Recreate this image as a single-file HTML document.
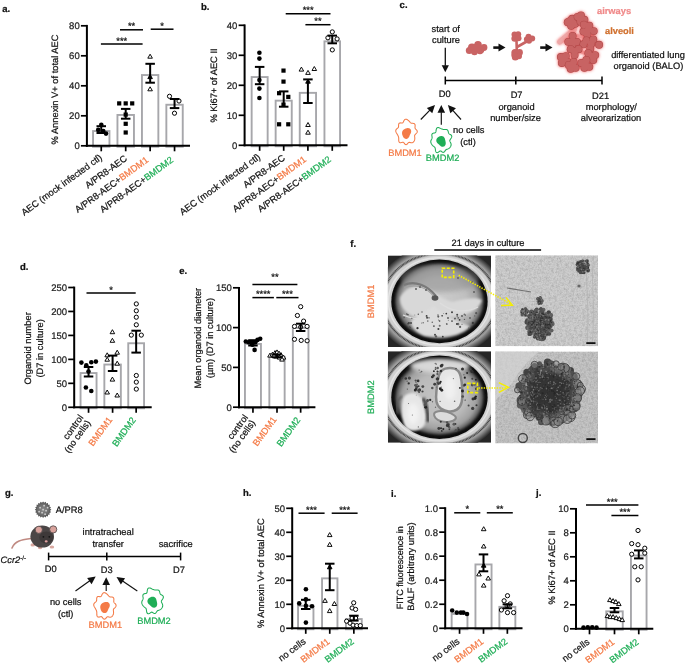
<!DOCTYPE html>
<html><head><meta charset="utf-8"><style>
html,body{margin:0;padding:0;background:#fff;width:685px;height:663px;overflow:hidden}
svg{display:block;will-change:transform}
text{font-family:"Liberation Sans",sans-serif;text-rendering:geometricPrecision;stroke-width:0.22px}
</style></head><body>
<svg width="685" height="663" viewBox="0 0 685 663">
<rect width="685" height="663" fill="#fff"/>
<text x="2.30" y="12.00" font-size="9.5" text-anchor="start" fill="#111" stroke="#111" font-weight="bold">a.</text>
<rect x="93.05" y="131.05" width="16.40" height="15.70" fill="#fff" stroke="#A7A7AB" stroke-width="1.9"/>
<rect x="117.45" y="114.95" width="16.50" height="31.80" fill="#fff" stroke="#A7A7AB" stroke-width="1.9"/>
<rect x="141.95" y="75.05" width="16.40" height="71.70" fill="#fff" stroke="#A7A7AB" stroke-width="1.9"/>
<rect x="166.35" y="104.75" width="16.40" height="42.00" fill="#fff" stroke="#A7A7AB" stroke-width="1.9"/>
<circle cx="101.30" cy="124.80" r="2.3" fill="#000"/>
<circle cx="98.20" cy="129.90" r="2.3" fill="#000"/>
<circle cx="106.00" cy="133.60" r="2.3" fill="#000"/>
<circle cx="103.30" cy="131.00" r="2.3" fill="#000"/>
<rect x="117.10" y="101.30" width="4.2" height="4.2" fill="#000"/>
<rect x="123.60" y="101.30" width="4.2" height="4.2" fill="#000"/>
<rect x="130.10" y="101.30" width="4.2" height="4.2" fill="#000"/>
<rect x="123.60" y="112.50" width="4.2" height="4.2" fill="#000"/>
<rect x="123.60" y="121.70" width="4.2" height="4.2" fill="#000"/>
<rect x="123.60" y="130.40" width="4.2" height="4.2" fill="#000"/>
<polygon points="150.10,54.20 147.80,58.20 152.40,58.20" fill="#fff" stroke="#000" stroke-width="0.95" stroke-linejoin="miter"/>
<polygon points="150.10,74.60 147.80,78.60 152.40,78.60" fill="#000" stroke="#000" stroke-width="0.95" stroke-linejoin="miter"/>
<polygon points="150.10,86.80 147.80,90.80 152.40,90.80" fill="#fff" stroke="#000" stroke-width="0.95" stroke-linejoin="miter"/>
<circle cx="169.50" cy="96.30" r="2.1" fill="#fff" stroke="#000" stroke-width="1.0"/>
<circle cx="179.00" cy="101.00" r="2.1" fill="#fff" stroke="#000" stroke-width="1.0"/>
<circle cx="174.50" cy="113.20" r="2.1" fill="#fff" stroke="#000" stroke-width="1.0"/>
<line x1="101.25" y1="126.20" x2="101.25" y2="133.00" stroke="#000" stroke-width="2"/>
<line x1="96.50" y1="126.20" x2="106.00" y2="126.20" stroke="#000" stroke-width="2"/>
<line x1="96.50" y1="133.00" x2="106.00" y2="133.00" stroke="#000" stroke-width="2"/>
<line x1="125.70" y1="108.90" x2="125.70" y2="118.70" stroke="#000" stroke-width="2"/>
<line x1="120.95" y1="108.90" x2="130.45" y2="108.90" stroke="#000" stroke-width="2"/>
<line x1="120.95" y1="118.70" x2="130.45" y2="118.70" stroke="#000" stroke-width="2"/>
<line x1="150.15" y1="63.80" x2="150.15" y2="82.70" stroke="#000" stroke-width="2"/>
<line x1="145.40" y1="63.80" x2="154.90" y2="63.80" stroke="#000" stroke-width="2"/>
<line x1="145.40" y1="82.70" x2="154.90" y2="82.70" stroke="#000" stroke-width="2"/>
<line x1="174.55" y1="99.00" x2="174.55" y2="108.10" stroke="#000" stroke-width="2"/>
<line x1="169.80" y1="99.00" x2="179.30" y2="99.00" stroke="#000" stroke-width="2"/>
<line x1="169.80" y1="108.10" x2="179.30" y2="108.10" stroke="#000" stroke-width="2"/>
<line x1="86.90" y1="24.90" x2="86.90" y2="146.80" stroke="#000" stroke-width="2" stroke-linecap="butt"/>
<line x1="85.90" y1="145.80" x2="190.00" y2="145.80" stroke="#000" stroke-width="2"/>
<line x1="80.90" y1="145.80" x2="86.90" y2="145.80" stroke="#000" stroke-width="1.7"/>
<text x="79.70" y="149.20" font-size="9.5" text-anchor="end" fill="#222" stroke="#222" font-weight="normal">0</text>
<line x1="80.90" y1="115.80" x2="86.90" y2="115.80" stroke="#000" stroke-width="1.7"/>
<text x="79.70" y="119.20" font-size="9.5" text-anchor="end" fill="#222" stroke="#222" font-weight="normal">20</text>
<line x1="80.90" y1="85.80" x2="86.90" y2="85.80" stroke="#000" stroke-width="1.7"/>
<text x="79.70" y="89.20" font-size="9.5" text-anchor="end" fill="#222" stroke="#222" font-weight="normal">40</text>
<line x1="80.90" y1="55.80" x2="86.90" y2="55.80" stroke="#000" stroke-width="1.7"/>
<text x="79.70" y="59.20" font-size="9.5" text-anchor="end" fill="#222" stroke="#222" font-weight="normal">60</text>
<line x1="80.90" y1="25.80" x2="86.90" y2="25.80" stroke="#000" stroke-width="1.7"/>
<text x="79.70" y="29.20" font-size="9.5" text-anchor="end" fill="#222" stroke="#222" font-weight="normal">80</text>
<line x1="101.25" y1="145.80" x2="101.25" y2="151.30" stroke="#000" stroke-width="1.7"/>
<line x1="125.70" y1="145.80" x2="125.70" y2="151.30" stroke="#000" stroke-width="1.7"/>
<line x1="150.15" y1="145.80" x2="150.15" y2="151.30" stroke="#000" stroke-width="1.7"/>
<line x1="174.55" y1="145.80" x2="174.55" y2="151.30" stroke="#000" stroke-width="1.7"/>
<line x1="120.00" y1="29.80" x2="143.00" y2="29.80" stroke="#000" stroke-width="1.5"/>
<text x="131.50" y="29.40" font-size="9.3" text-anchor="middle" fill="#111" stroke="#111" font-weight="normal">**</text>
<line x1="150.70" y1="29.20" x2="173.50" y2="29.20" stroke="#000" stroke-width="1.5"/>
<text x="162.10" y="28.80" font-size="9.3" text-anchor="middle" fill="#111" stroke="#111" font-weight="normal">*</text>
<line x1="100.90" y1="44.00" x2="142.60" y2="44.00" stroke="#000" stroke-width="1.5"/>
<text x="121.75" y="43.60" font-size="9.3" text-anchor="middle" fill="#111" stroke="#111" font-weight="normal">***</text>
<text x="57.50" y="89.50" font-size="9.3" text-anchor="middle" fill="#111" stroke="#111" font-weight="normal" transform="rotate(-90 57.50 89.50)">% Annexin V+ of total AEC</text>
<text x="201.00" y="10.20" font-size="9.5" text-anchor="start" fill="#111" stroke="#111" font-weight="bold">b.</text>
<rect x="251.65" y="77.05" width="16.00" height="69.20" fill="#fff" stroke="#A7A7AB" stroke-width="1.9"/>
<rect x="275.65" y="100.65" width="16.10" height="45.60" fill="#fff" stroke="#A7A7AB" stroke-width="1.9"/>
<rect x="299.75" y="92.85" width="16.30" height="53.40" fill="#fff" stroke="#A7A7AB" stroke-width="1.9"/>
<rect x="324.45" y="41.35" width="15.60" height="104.90" fill="#fff" stroke="#A7A7AB" stroke-width="1.9"/>
<circle cx="259.40" cy="52.70" r="2.3" fill="#000"/>
<circle cx="259.40" cy="58.60" r="2.3" fill="#000"/>
<circle cx="259.40" cy="80.00" r="2.3" fill="#000"/>
<circle cx="259.40" cy="88.60" r="2.3" fill="#000"/>
<circle cx="259.40" cy="98.00" r="2.3" fill="#000"/>
<rect x="281.40" y="68.50" width="4.2" height="4.2" fill="#000"/>
<rect x="281.40" y="79.50" width="4.2" height="4.2" fill="#000"/>
<rect x="277.00" y="91.10" width="4.2" height="4.2" fill="#000"/>
<rect x="286.20" y="94.80" width="4.2" height="4.2" fill="#000"/>
<rect x="281.40" y="102.50" width="4.2" height="4.2" fill="#000"/>
<rect x="277.00" y="122.20" width="4.2" height="4.2" fill="#000"/>
<rect x="286.20" y="122.20" width="4.2" height="4.2" fill="#000"/>
<polygon points="301.40,67.10 299.10,71.10 303.70,71.10" fill="#fff" stroke="#000" stroke-width="0.95" stroke-linejoin="miter"/>
<polygon points="308.00,70.40 305.70,74.40 310.30,74.40" fill="#fff" stroke="#000" stroke-width="0.95" stroke-linejoin="miter"/>
<polygon points="314.30,66.50 312.00,70.50 316.60,70.50" fill="#fff" stroke="#000" stroke-width="0.95" stroke-linejoin="miter"/>
<polygon points="308.00,79.20 305.70,83.20 310.30,83.20" fill="#000" stroke="#000" stroke-width="0.95" stroke-linejoin="miter"/>
<polygon points="308.00,122.50 305.70,126.50 310.30,126.50" fill="#fff" stroke="#000" stroke-width="0.95" stroke-linejoin="miter"/>
<polygon points="308.00,130.20 305.70,134.20 310.30,134.20" fill="#fff" stroke="#000" stroke-width="0.95" stroke-linejoin="miter"/>
<circle cx="332.30" cy="31.90" r="2.1" fill="#fff" stroke="#000" stroke-width="1.0"/>
<circle cx="327.90" cy="37.80" r="2.1" fill="#fff" stroke="#000" stroke-width="1.0"/>
<circle cx="337.10" cy="38.90" r="2.1" fill="#fff" stroke="#000" stroke-width="1.0"/>
<circle cx="332.30" cy="49.90" r="2.1" fill="#fff" stroke="#000" stroke-width="1.0"/>
<line x1="259.65" y1="66.90" x2="259.65" y2="84.20" stroke="#000" stroke-width="2"/>
<line x1="254.90" y1="66.90" x2="264.40" y2="66.90" stroke="#000" stroke-width="2"/>
<line x1="254.90" y1="84.20" x2="264.40" y2="84.20" stroke="#000" stroke-width="2"/>
<line x1="283.70" y1="91.40" x2="283.70" y2="106.70" stroke="#000" stroke-width="2"/>
<line x1="278.95" y1="91.40" x2="288.45" y2="91.40" stroke="#000" stroke-width="2"/>
<line x1="278.95" y1="106.70" x2="288.45" y2="106.70" stroke="#000" stroke-width="2"/>
<line x1="307.90" y1="79.40" x2="307.90" y2="103.00" stroke="#000" stroke-width="2"/>
<line x1="303.15" y1="79.40" x2="312.65" y2="79.40" stroke="#000" stroke-width="2"/>
<line x1="303.15" y1="103.00" x2="312.65" y2="103.00" stroke="#000" stroke-width="2"/>
<line x1="332.25" y1="35.60" x2="332.25" y2="43.30" stroke="#000" stroke-width="2"/>
<line x1="327.50" y1="35.60" x2="337.00" y2="35.60" stroke="#000" stroke-width="2"/>
<line x1="327.50" y1="43.30" x2="337.00" y2="43.30" stroke="#000" stroke-width="2"/>
<line x1="244.60" y1="24.40" x2="244.60" y2="146.30" stroke="#000" stroke-width="2" stroke-linecap="butt"/>
<line x1="243.60" y1="145.30" x2="347.50" y2="145.30" stroke="#000" stroke-width="2"/>
<line x1="238.60" y1="145.30" x2="244.60" y2="145.30" stroke="#000" stroke-width="1.7"/>
<text x="237.40" y="148.70" font-size="9.5" text-anchor="end" fill="#222" stroke="#222" font-weight="normal">0</text>
<line x1="238.60" y1="115.30" x2="244.60" y2="115.30" stroke="#000" stroke-width="1.7"/>
<text x="237.40" y="118.70" font-size="9.5" text-anchor="end" fill="#222" stroke="#222" font-weight="normal">10</text>
<line x1="238.60" y1="85.30" x2="244.60" y2="85.30" stroke="#000" stroke-width="1.7"/>
<text x="237.40" y="88.70" font-size="9.5" text-anchor="end" fill="#222" stroke="#222" font-weight="normal">20</text>
<line x1="238.60" y1="55.30" x2="244.60" y2="55.30" stroke="#000" stroke-width="1.7"/>
<text x="237.40" y="58.70" font-size="9.5" text-anchor="end" fill="#222" stroke="#222" font-weight="normal">30</text>
<line x1="238.60" y1="25.30" x2="244.60" y2="25.30" stroke="#000" stroke-width="1.7"/>
<text x="237.40" y="28.70" font-size="9.5" text-anchor="end" fill="#222" stroke="#222" font-weight="normal">40</text>
<line x1="259.65" y1="145.30" x2="259.65" y2="150.80" stroke="#000" stroke-width="1.7"/>
<line x1="283.70" y1="145.30" x2="283.70" y2="150.80" stroke="#000" stroke-width="1.7"/>
<line x1="307.90" y1="145.30" x2="307.90" y2="150.80" stroke="#000" stroke-width="1.7"/>
<line x1="332.25" y1="145.30" x2="332.25" y2="150.80" stroke="#000" stroke-width="1.7"/>
<line x1="285.70" y1="13.75" x2="330.50" y2="13.75" stroke="#000" stroke-width="1.5"/>
<text x="308.10" y="13.35" font-size="9.3" text-anchor="middle" fill="#111" stroke="#111" font-weight="normal">***</text>
<line x1="305.40" y1="24.70" x2="330.50" y2="24.70" stroke="#000" stroke-width="1.5"/>
<text x="317.95" y="24.30" font-size="9.3" text-anchor="middle" fill="#111" stroke="#111" font-weight="normal">**</text>
<text x="217.30" y="85.50" font-size="9.3" text-anchor="middle" fill="#111" stroke="#111" font-weight="normal" transform="rotate(-90 217.30 85.50)">% Ki67+ of AEC II</text>
<text x="102.75" y="158.80" font-size="9.3" text-anchor="end" fill="#111" transform="rotate(-36 102.75 158.80)"><tspan fill="#111" stroke="#111">AEC (mock infected ctl)</tspan></text>
<text x="127.70" y="159.80" font-size="9.3" text-anchor="end" fill="#111" transform="rotate(-36 127.70 159.80)"><tspan fill="#111" stroke="#111">A/PR8-AEC</tspan></text>
<text x="149.15" y="161.30" font-size="9.3" text-anchor="end" fill="#111" transform="rotate(-36 149.15 161.30)"><tspan fill="#111" stroke="#111">A/PR8-AEC+</tspan><tspan fill="#F47B47" stroke="#F47B47">BMDM1</tspan></text>
<text x="174.05" y="161.30" font-size="9.3" text-anchor="end" fill="#111" transform="rotate(-36 174.05 161.30)"><tspan fill="#111" stroke="#111">A/PR8-AEC+</tspan><tspan fill="#1FAE57" stroke="#1FAE57">BMDM2</tspan></text>
<text x="261.15" y="158.30" font-size="9.3" text-anchor="end" fill="#111" transform="rotate(-36 261.15 158.30)"><tspan fill="#111" stroke="#111">AEC (mock infected ctl)</tspan></text>
<text x="285.70" y="159.30" font-size="9.3" text-anchor="end" fill="#111" transform="rotate(-36 285.70 159.30)"><tspan fill="#111" stroke="#111">A/PR8-AEC</tspan></text>
<text x="306.90" y="160.80" font-size="9.3" text-anchor="end" fill="#111" transform="rotate(-36 306.90 160.80)"><tspan fill="#111" stroke="#111">A/PR8-AEC+</tspan><tspan fill="#F47B47" stroke="#F47B47">BMDM1</tspan></text>
<text x="331.75" y="160.80" font-size="9.3" text-anchor="end" fill="#111" transform="rotate(-36 331.75 160.80)"><tspan fill="#111" stroke="#111">A/PR8-AEC+</tspan><tspan fill="#1FAE57" stroke="#1FAE57">BMDM2</tspan></text>
<text x="20.00" y="270.00" font-size="9.5" text-anchor="start" fill="#111" stroke="#111" font-weight="bold">d.</text>
<rect x="80.55" y="373.05" width="16.00" height="35.20" fill="#fff" stroke="#A7A7AB" stroke-width="1.9"/>
<rect x="104.35" y="364.55" width="16.50" height="43.70" fill="#fff" stroke="#A7A7AB" stroke-width="1.9"/>
<rect x="128.25" y="343.25" width="15.80" height="65.00" fill="#fff" stroke="#A7A7AB" stroke-width="1.9"/>
<circle cx="81.40" cy="362.60" r="2.3" fill="#000"/>
<circle cx="86.30" cy="365.20" r="2.3" fill="#000"/>
<circle cx="91.30" cy="362.20" r="2.3" fill="#000"/>
<circle cx="95.90" cy="361.60" r="2.3" fill="#000"/>
<circle cx="88.50" cy="371.50" r="2.3" fill="#000"/>
<circle cx="85.90" cy="387.50" r="2.3" fill="#000"/>
<circle cx="91.30" cy="391.00" r="2.3" fill="#000"/>
<polygon points="112.40,329.70 110.10,333.70 114.70,333.70" fill="#fff" stroke="#000" stroke-width="0.95" stroke-linejoin="miter"/>
<polygon points="112.40,338.30 110.10,342.30 114.70,342.30" fill="#fff" stroke="#000" stroke-width="0.95" stroke-linejoin="miter"/>
<polygon points="107.20,352.80 104.90,356.80 109.50,356.80" fill="#fff" stroke="#000" stroke-width="0.95" stroke-linejoin="miter"/>
<polygon points="117.20,350.20 114.90,354.20 119.50,354.20" fill="#fff" stroke="#000" stroke-width="0.95" stroke-linejoin="miter"/>
<polygon points="107.20,357.20 104.90,361.20 109.50,361.20" fill="#fff" stroke="#000" stroke-width="0.95" stroke-linejoin="miter"/>
<polygon points="117.20,361.20 114.90,365.20 119.50,365.20" fill="#fff" stroke="#000" stroke-width="0.95" stroke-linejoin="miter"/>
<polygon points="112.40,377.10 110.10,381.10 114.70,381.10" fill="#fff" stroke="#000" stroke-width="0.95" stroke-linejoin="miter"/>
<polygon points="107.20,390.00 104.90,394.00 109.50,394.00" fill="#fff" stroke="#000" stroke-width="0.95" stroke-linejoin="miter"/>
<polygon points="117.20,393.00 114.90,397.00 119.50,397.00" fill="#fff" stroke="#000" stroke-width="0.95" stroke-linejoin="miter"/>
<circle cx="136.30" cy="303.90" r="2.1" fill="#fff" stroke="#000" stroke-width="1.0"/>
<circle cx="136.30" cy="310.80" r="2.1" fill="#fff" stroke="#000" stroke-width="1.0"/>
<circle cx="136.30" cy="317.20" r="2.1" fill="#fff" stroke="#000" stroke-width="1.0"/>
<circle cx="136.30" cy="324.80" r="2.1" fill="#fff" stroke="#000" stroke-width="1.0"/>
<circle cx="131.30" cy="335.10" r="2.1" fill="#fff" stroke="#000" stroke-width="1.0"/>
<circle cx="141.30" cy="335.10" r="2.1" fill="#fff" stroke="#000" stroke-width="1.0"/>
<circle cx="136.30" cy="375.50" r="2.1" fill="#fff" stroke="#000" stroke-width="1.0"/>
<circle cx="136.30" cy="382.10" r="2.1" fill="#fff" stroke="#000" stroke-width="1.0"/>
<circle cx="136.30" cy="389.10" r="2.1" fill="#fff" stroke="#000" stroke-width="1.0"/>
<line x1="88.55" y1="367.00" x2="88.55" y2="376.50" stroke="#000" stroke-width="2"/>
<line x1="83.80" y1="367.00" x2="93.30" y2="367.00" stroke="#000" stroke-width="2"/>
<line x1="83.80" y1="376.50" x2="93.30" y2="376.50" stroke="#000" stroke-width="2"/>
<line x1="112.60" y1="355.60" x2="112.60" y2="371.00" stroke="#000" stroke-width="2"/>
<line x1="107.85" y1="355.60" x2="117.35" y2="355.60" stroke="#000" stroke-width="2"/>
<line x1="107.85" y1="371.00" x2="117.35" y2="371.00" stroke="#000" stroke-width="2"/>
<line x1="136.15" y1="330.70" x2="136.15" y2="352.60" stroke="#000" stroke-width="2"/>
<line x1="131.40" y1="330.70" x2="140.90" y2="330.70" stroke="#000" stroke-width="2"/>
<line x1="131.40" y1="352.60" x2="140.90" y2="352.60" stroke="#000" stroke-width="2"/>
<line x1="74.20" y1="286.60" x2="74.20" y2="408.30" stroke="#000" stroke-width="2" stroke-linecap="butt"/>
<line x1="73.20" y1="407.30" x2="151.70" y2="407.30" stroke="#000" stroke-width="2"/>
<line x1="68.20" y1="407.30" x2="74.20" y2="407.30" stroke="#000" stroke-width="1.7"/>
<text x="67.00" y="410.70" font-size="9.5" text-anchor="end" fill="#222" stroke="#222" font-weight="normal">0</text>
<line x1="68.20" y1="383.34" x2="74.20" y2="383.34" stroke="#000" stroke-width="1.7"/>
<text x="67.00" y="386.74" font-size="9.5" text-anchor="end" fill="#222" stroke="#222" font-weight="normal">50</text>
<line x1="68.20" y1="359.38" x2="74.20" y2="359.38" stroke="#000" stroke-width="1.7"/>
<text x="67.00" y="362.78" font-size="9.5" text-anchor="end" fill="#222" stroke="#222" font-weight="normal">100</text>
<line x1="68.20" y1="335.42" x2="74.20" y2="335.42" stroke="#000" stroke-width="1.7"/>
<text x="67.00" y="338.82" font-size="9.5" text-anchor="end" fill="#222" stroke="#222" font-weight="normal">150</text>
<line x1="68.20" y1="311.46" x2="74.20" y2="311.46" stroke="#000" stroke-width="1.7"/>
<text x="67.00" y="314.86" font-size="9.5" text-anchor="end" fill="#222" stroke="#222" font-weight="normal">200</text>
<line x1="68.20" y1="287.50" x2="74.20" y2="287.50" stroke="#000" stroke-width="1.7"/>
<text x="67.00" y="290.90" font-size="9.5" text-anchor="end" fill="#222" stroke="#222" font-weight="normal">250</text>
<line x1="88.55" y1="407.30" x2="88.55" y2="412.80" stroke="#000" stroke-width="1.7"/>
<line x1="112.60" y1="407.30" x2="112.60" y2="412.80" stroke="#000" stroke-width="1.7"/>
<line x1="136.15" y1="407.30" x2="136.15" y2="412.80" stroke="#000" stroke-width="1.7"/>
<line x1="86.50" y1="292.90" x2="135.70" y2="292.90" stroke="#000" stroke-width="1.5"/>
<text x="111.10" y="292.50" font-size="9.3" text-anchor="middle" fill="#111" stroke="#111" font-weight="normal">*</text>
<text x="31.50" y="348.40" font-size="9.3" text-anchor="middle" fill="#111" stroke="#111" font-weight="normal" transform="rotate(-90 31.50 348.40)">Organoid number</text>
<text x="42.90" y="348.40" font-size="9.3" text-anchor="middle" fill="#111" stroke="#111" font-weight="normal" transform="rotate(-90 42.90 348.40)">(D7 in culture)</text>
<text x="83.82" y="417.61" font-size="9.3" text-anchor="end" fill="#111" transform="rotate(-54 83.82 417.61)"><tspan fill="#111" stroke="#111">control</tspan></text>
<text x="91.10" y="422.90" font-size="9.3" text-anchor="end" fill="#111" transform="rotate(-54 91.10 422.90)"><tspan fill="#111" stroke="#111">(no cells)</tspan></text>
<text x="112.80" y="419.70" font-size="9.3" text-anchor="end" fill="#111" transform="rotate(-54 112.80 419.70)"><tspan fill="#F47B47" stroke="#F47B47">BMDM1</tspan></text>
<text x="136.40" y="420.10" font-size="9.3" text-anchor="end" fill="#111" transform="rotate(-54 136.40 420.10)"><tspan fill="#1FAE57" stroke="#1FAE57">BMDM2</tspan></text>
<text x="179.20" y="274.00" font-size="9.5" text-anchor="start" fill="#111" stroke="#111" font-weight="bold">e.</text>
<rect x="244.95" y="343.95" width="16.00" height="64.20" fill="#fff" stroke="#A7A7AB" stroke-width="1.9"/>
<rect x="269.35" y="356.85" width="15.30" height="51.30" fill="#fff" stroke="#A7A7AB" stroke-width="1.9"/>
<rect x="292.85" y="327.95" width="15.60" height="80.20" fill="#fff" stroke="#A7A7AB" stroke-width="1.9"/>
<circle cx="245.80" cy="341.50" r="2.3" fill="#000"/>
<circle cx="248.60" cy="342.20" r="2.3" fill="#000"/>
<circle cx="251.70" cy="343.00" r="2.3" fill="#000"/>
<circle cx="255.30" cy="342.30" r="2.3" fill="#000"/>
<circle cx="260.20" cy="338.80" r="2.3" fill="#000"/>
<circle cx="257.50" cy="339.90" r="2.3" fill="#000"/>
<circle cx="252.40" cy="344.80" r="2.3" fill="#000"/>
<circle cx="254.60" cy="349.90" r="2.3" fill="#000"/>
<circle cx="251.30" cy="342.60" r="2.3" fill="#000"/>
<polygon points="270.00,353.10 267.70,357.10 272.30,357.10" fill="#fff" stroke="#000" stroke-width="0.95" stroke-linejoin="miter"/>
<polygon points="272.50,352.10 270.20,356.10 274.80,356.10" fill="#fff" stroke="#000" stroke-width="0.95" stroke-linejoin="miter"/>
<polygon points="275.00,350.60 272.70,354.60 277.30,354.60" fill="#fff" stroke="#000" stroke-width="0.95" stroke-linejoin="miter"/>
<polygon points="277.00,349.90 274.70,353.90 279.30,353.90" fill="#fff" stroke="#000" stroke-width="0.95" stroke-linejoin="miter"/>
<polygon points="279.00,351.10 276.70,355.10 281.30,355.10" fill="#fff" stroke="#000" stroke-width="0.95" stroke-linejoin="miter"/>
<polygon points="281.00,352.60 278.70,356.60 283.30,356.60" fill="#fff" stroke="#000" stroke-width="0.95" stroke-linejoin="miter"/>
<polygon points="283.50,355.10 281.20,359.10 285.80,359.10" fill="#fff" stroke="#000" stroke-width="0.95" stroke-linejoin="miter"/>
<polygon points="276.00,354.10 273.70,358.10 278.30,358.10" fill="#fff" stroke="#000" stroke-width="0.95" stroke-linejoin="miter"/>
<polygon points="279.50,355.10 277.20,359.10 281.80,359.10" fill="#fff" stroke="#000" stroke-width="0.95" stroke-linejoin="miter"/>
<polygon points="282.00,357.10 279.70,361.10 284.30,361.10" fill="#fff" stroke="#000" stroke-width="0.95" stroke-linejoin="miter"/>
<polygon points="274.00,353.40 271.70,357.40 276.30,357.40" fill="#fff" stroke="#000" stroke-width="0.95" stroke-linejoin="miter"/>
<circle cx="300.70" cy="306.70" r="2.1" fill="#fff" stroke="#000" stroke-width="1.0"/>
<circle cx="297.40" cy="315.50" r="2.1" fill="#fff" stroke="#000" stroke-width="1.0"/>
<circle cx="303.60" cy="321.10" r="2.1" fill="#fff" stroke="#000" stroke-width="1.0"/>
<circle cx="294.50" cy="326.40" r="2.1" fill="#fff" stroke="#000" stroke-width="1.0"/>
<circle cx="307.10" cy="326.40" r="2.1" fill="#fff" stroke="#000" stroke-width="1.0"/>
<circle cx="294.50" cy="339.30" r="2.1" fill="#fff" stroke="#000" stroke-width="1.0"/>
<circle cx="301.20" cy="340.40" r="2.1" fill="#fff" stroke="#000" stroke-width="1.0"/>
<circle cx="307.10" cy="340.80" r="2.1" fill="#fff" stroke="#000" stroke-width="1.0"/>
<circle cx="300.70" cy="327.00" r="2.1" fill="#fff" stroke="#000" stroke-width="1.0"/>
<line x1="252.95" y1="340.20" x2="252.95" y2="345.50" stroke="#000" stroke-width="2"/>
<line x1="248.20" y1="340.20" x2="257.70" y2="340.20" stroke="#000" stroke-width="2"/>
<line x1="248.20" y1="345.50" x2="257.70" y2="345.50" stroke="#000" stroke-width="2"/>
<line x1="277.00" y1="354.50" x2="277.00" y2="357.30" stroke="#000" stroke-width="2"/>
<line x1="272.25" y1="354.50" x2="281.75" y2="354.50" stroke="#000" stroke-width="2"/>
<line x1="272.25" y1="357.30" x2="281.75" y2="357.30" stroke="#000" stroke-width="2"/>
<line x1="300.65" y1="323.70" x2="300.65" y2="331.00" stroke="#000" stroke-width="2"/>
<line x1="295.90" y1="323.70" x2="305.40" y2="323.70" stroke="#000" stroke-width="2"/>
<line x1="295.90" y1="331.00" x2="305.40" y2="331.00" stroke="#000" stroke-width="2"/>
<line x1="239.00" y1="286.90" x2="239.00" y2="408.20" stroke="#000" stroke-width="2" stroke-linecap="butt"/>
<line x1="238.00" y1="407.20" x2="315.40" y2="407.20" stroke="#000" stroke-width="2"/>
<line x1="233.00" y1="407.20" x2="239.00" y2="407.20" stroke="#000" stroke-width="1.7"/>
<text x="231.80" y="410.60" font-size="9.5" text-anchor="end" fill="#222" stroke="#222" font-weight="normal">0</text>
<line x1="233.00" y1="367.40" x2="239.00" y2="367.40" stroke="#000" stroke-width="1.7"/>
<text x="231.80" y="370.80" font-size="9.5" text-anchor="end" fill="#222" stroke="#222" font-weight="normal">50</text>
<line x1="233.00" y1="327.60" x2="239.00" y2="327.60" stroke="#000" stroke-width="1.7"/>
<text x="231.80" y="331.00" font-size="9.5" text-anchor="end" fill="#222" stroke="#222" font-weight="normal">100</text>
<line x1="233.00" y1="287.80" x2="239.00" y2="287.80" stroke="#000" stroke-width="1.7"/>
<text x="231.80" y="291.20" font-size="9.5" text-anchor="end" fill="#222" stroke="#222" font-weight="normal">150</text>
<line x1="252.95" y1="407.20" x2="252.95" y2="412.70" stroke="#000" stroke-width="1.7"/>
<line x1="277.00" y1="407.20" x2="277.00" y2="412.70" stroke="#000" stroke-width="1.7"/>
<line x1="300.65" y1="407.20" x2="300.65" y2="412.70" stroke="#000" stroke-width="1.7"/>
<line x1="252.40" y1="284.50" x2="297.40" y2="284.50" stroke="#000" stroke-width="1.5"/>
<text x="274.90" y="280.20" font-size="9.3" text-anchor="middle" fill="#111" stroke="#111" font-weight="normal">**</text>
<line x1="252.40" y1="297.60" x2="273.90" y2="297.60" stroke="#000" stroke-width="1.5"/>
<text x="263.15" y="297.20" font-size="9.3" text-anchor="middle" fill="#111" stroke="#111" font-weight="normal">****</text>
<line x1="276.30" y1="297.60" x2="298.50" y2="297.60" stroke="#000" stroke-width="1.5"/>
<text x="287.40" y="297.20" font-size="9.3" text-anchor="middle" fill="#111" stroke="#111" font-weight="normal">***</text>
<text x="201.00" y="338.20" font-size="9.3" text-anchor="middle" fill="#111" stroke="#111" font-weight="normal" transform="rotate(-90 201.00 338.20)">Mean organoid diameter</text>
<text x="212.60" y="338.00" font-size="9.3" text-anchor="middle" fill="#111" stroke="#111" font-weight="normal" transform="rotate(-90 212.60 338.00)">(µm) (D7 in culture)</text>
<text x="248.42" y="417.51" font-size="9.3" text-anchor="end" fill="#111" transform="rotate(-54 248.42 417.51)"><tspan fill="#111" stroke="#111">control</tspan></text>
<text x="255.70" y="422.80" font-size="9.3" text-anchor="end" fill="#111" transform="rotate(-54 255.70 422.80)"><tspan fill="#111" stroke="#111">(no cells)</tspan></text>
<text x="277.00" y="419.60" font-size="9.3" text-anchor="end" fill="#111" transform="rotate(-54 277.00 419.60)"><tspan fill="#F47B47" stroke="#F47B47">BMDM1</tspan></text>
<text x="300.90" y="420.00" font-size="9.3" text-anchor="end" fill="#111" transform="rotate(-54 300.90 420.00)"><tspan fill="#1FAE57" stroke="#1FAE57">BMDM2</tspan></text>
<text x="243.00" y="496.00" font-size="9.5" text-anchor="start" fill="#111" stroke="#111" font-weight="bold">h.</text>
<rect x="298.05" y="605.75" width="15.40" height="23.50" fill="#fff" stroke="#A7A7AB" stroke-width="1.9"/>
<rect x="322.05" y="578.35" width="15.40" height="50.90" fill="#fff" stroke="#A7A7AB" stroke-width="1.9"/>
<rect x="345.95" y="619.05" width="15.80" height="10.20" fill="#fff" stroke="#A7A7AB" stroke-width="1.9"/>
<circle cx="305.90" cy="589.20" r="2.3" fill="#000"/>
<circle cx="299.20" cy="603.40" r="2.3" fill="#000"/>
<circle cx="305.90" cy="599.40" r="2.3" fill="#000"/>
<circle cx="305.90" cy="605.90" r="2.3" fill="#000"/>
<circle cx="312.00" cy="606.30" r="2.3" fill="#000"/>
<circle cx="305.90" cy="622.60" r="2.3" fill="#000"/>
<polygon points="329.70,532.60 327.40,536.60 332.00,536.60" fill="#fff" stroke="#000" stroke-width="0.95" stroke-linejoin="miter"/>
<polygon points="329.70,542.40 327.40,546.40 332.00,546.40" fill="#fff" stroke="#000" stroke-width="0.95" stroke-linejoin="miter"/>
<polygon points="329.70,564.80 327.40,568.80 332.00,568.80" fill="#000" stroke="#000" stroke-width="0.95" stroke-linejoin="miter"/>
<polygon points="325.00,598.40 322.70,602.40 327.30,602.40" fill="#fff" stroke="#000" stroke-width="0.95" stroke-linejoin="miter"/>
<polygon points="334.40,601.50 332.10,605.50 336.70,605.50" fill="#fff" stroke="#000" stroke-width="0.95" stroke-linejoin="miter"/>
<polygon points="329.70,608.60 327.40,612.60 332.00,612.60" fill="#fff" stroke="#000" stroke-width="0.95" stroke-linejoin="miter"/>
<circle cx="353.70" cy="602.80" r="2.1" fill="#fff" stroke="#000" stroke-width="1.0"/>
<circle cx="352.10" cy="608.00" r="2.1" fill="#fff" stroke="#000" stroke-width="1.0"/>
<circle cx="355.60" cy="609.40" r="2.1" fill="#fff" stroke="#000" stroke-width="1.0"/>
<circle cx="346.60" cy="621.20" r="2.1" fill="#fff" stroke="#000" stroke-width="1.0"/>
<circle cx="350.10" cy="623.20" r="2.1" fill="#fff" stroke="#000" stroke-width="1.0"/>
<circle cx="353.10" cy="625.20" r="2.1" fill="#fff" stroke="#000" stroke-width="1.0"/>
<circle cx="356.80" cy="625.60" r="2.1" fill="#fff" stroke="#000" stroke-width="1.0"/>
<circle cx="360.30" cy="625.60" r="2.1" fill="#fff" stroke="#000" stroke-width="1.0"/>
<circle cx="352.10" cy="618.10" r="2.1" fill="#fff" stroke="#000" stroke-width="1.0"/>
<circle cx="355.60" cy="618.10" r="2.1" fill="#fff" stroke="#000" stroke-width="1.0"/>
<line x1="305.75" y1="599.80" x2="305.75" y2="609.00" stroke="#000" stroke-width="2"/>
<line x1="301.00" y1="599.80" x2="310.50" y2="599.80" stroke="#000" stroke-width="2"/>
<line x1="301.00" y1="609.00" x2="310.50" y2="609.00" stroke="#000" stroke-width="2"/>
<line x1="329.75" y1="563.70" x2="329.75" y2="590.20" stroke="#000" stroke-width="2"/>
<line x1="325.00" y1="563.70" x2="334.50" y2="563.70" stroke="#000" stroke-width="2"/>
<line x1="325.00" y1="590.20" x2="334.50" y2="590.20" stroke="#000" stroke-width="2"/>
<line x1="353.85" y1="615.70" x2="353.85" y2="620.60" stroke="#000" stroke-width="2"/>
<line x1="349.10" y1="615.70" x2="358.60" y2="615.70" stroke="#000" stroke-width="2"/>
<line x1="349.10" y1="620.60" x2="358.60" y2="620.60" stroke="#000" stroke-width="2"/>
<line x1="292.20" y1="507.40" x2="292.20" y2="629.30" stroke="#000" stroke-width="2" stroke-linecap="butt"/>
<line x1="291.20" y1="628.30" x2="368.00" y2="628.30" stroke="#000" stroke-width="2"/>
<line x1="286.20" y1="628.30" x2="292.20" y2="628.30" stroke="#000" stroke-width="1.7"/>
<text x="285.00" y="631.70" font-size="9.5" text-anchor="end" fill="#222" stroke="#222" font-weight="normal">0</text>
<line x1="286.20" y1="604.30" x2="292.20" y2="604.30" stroke="#000" stroke-width="1.7"/>
<text x="285.00" y="607.70" font-size="9.5" text-anchor="end" fill="#222" stroke="#222" font-weight="normal">10</text>
<line x1="286.20" y1="580.30" x2="292.20" y2="580.30" stroke="#000" stroke-width="1.7"/>
<text x="285.00" y="583.70" font-size="9.5" text-anchor="end" fill="#222" stroke="#222" font-weight="normal">20</text>
<line x1="286.20" y1="556.30" x2="292.20" y2="556.30" stroke="#000" stroke-width="1.7"/>
<text x="285.00" y="559.70" font-size="9.5" text-anchor="end" fill="#222" stroke="#222" font-weight="normal">30</text>
<line x1="286.20" y1="532.30" x2="292.20" y2="532.30" stroke="#000" stroke-width="1.7"/>
<text x="285.00" y="535.70" font-size="9.5" text-anchor="end" fill="#222" stroke="#222" font-weight="normal">40</text>
<line x1="286.20" y1="508.30" x2="292.20" y2="508.30" stroke="#000" stroke-width="1.7"/>
<text x="285.00" y="511.70" font-size="9.5" text-anchor="end" fill="#222" stroke="#222" font-weight="normal">50</text>
<line x1="305.75" y1="628.30" x2="305.75" y2="633.80" stroke="#000" stroke-width="1.7"/>
<line x1="329.75" y1="628.30" x2="329.75" y2="633.80" stroke="#000" stroke-width="1.7"/>
<line x1="353.85" y1="628.30" x2="353.85" y2="633.80" stroke="#000" stroke-width="1.7"/>
<line x1="298.50" y1="513.20" x2="324.60" y2="513.20" stroke="#000" stroke-width="1.5"/>
<text x="311.55" y="512.80" font-size="9.3" text-anchor="middle" fill="#111" stroke="#111" font-weight="normal">***</text>
<line x1="331.70" y1="513.20" x2="357.60" y2="513.20" stroke="#000" stroke-width="1.5"/>
<text x="344.65" y="512.80" font-size="9.3" text-anchor="middle" fill="#111" stroke="#111" font-weight="normal">***</text>
<text x="263.70" y="573.20" font-size="9.3" text-anchor="middle" fill="#111" stroke="#111" font-weight="normal" transform="rotate(-90 263.70 573.20)">% Annexin V+ of total AEC</text>
<text x="306.45" y="642.80" font-size="9.3" text-anchor="end" fill="#111" transform="rotate(-37 306.45 642.80)"><tspan fill="#111" stroke="#111">no cells</tspan></text>
<text x="330.45" y="642.80" font-size="9.3" text-anchor="end" fill="#111" transform="rotate(-37 330.45 642.80)"><tspan fill="#F47B47" stroke="#F47B47">BMDM1</tspan></text>
<text x="354.55" y="642.80" font-size="9.3" text-anchor="end" fill="#111" transform="rotate(-37 354.55 642.80)"><tspan fill="#1FAE57" stroke="#1FAE57">BMDM2</tspan></text>
<text x="391.00" y="497.00" font-size="9.5" text-anchor="start" fill="#111" stroke="#111" font-weight="bold">i.</text>
<rect x="451.65" y="613.95" width="15.80" height="15.30" fill="#fff" stroke="#A7A7AB" stroke-width="1.9"/>
<rect x="475.45" y="564.45" width="16.10" height="64.80" fill="#fff" stroke="#A7A7AB" stroke-width="1.9"/>
<rect x="499.35" y="606.85" width="16.00" height="22.40" fill="#fff" stroke="#A7A7AB" stroke-width="1.9"/>
<circle cx="452.20" cy="610.50" r="2.3" fill="#000"/>
<circle cx="456.80" cy="612.60" r="2.3" fill="#000"/>
<circle cx="460.90" cy="612.60" r="2.3" fill="#000"/>
<circle cx="463.40" cy="612.60" r="2.3" fill="#000"/>
<circle cx="467.00" cy="614.00" r="2.3" fill="#000"/>
<polygon points="483.70,526.70 481.40,530.70 486.00,530.70" fill="#fff" stroke="#000" stroke-width="0.95" stroke-linejoin="miter"/>
<polygon points="483.70,544.00 481.40,548.00 486.00,548.00" fill="#fff" stroke="#000" stroke-width="0.95" stroke-linejoin="miter"/>
<polygon points="483.70,563.20 481.40,567.20 486.00,567.20" fill="#000" stroke="#000" stroke-width="0.95" stroke-linejoin="miter"/>
<polygon points="479.00,571.90 476.70,575.90 481.30,575.90" fill="#fff" stroke="#000" stroke-width="0.95" stroke-linejoin="miter"/>
<polygon points="488.20,576.00 485.90,580.00 490.50,580.00" fill="#fff" stroke="#000" stroke-width="0.95" stroke-linejoin="miter"/>
<polygon points="483.70,583.10 481.40,587.10 486.00,587.10" fill="#fff" stroke="#000" stroke-width="0.95" stroke-linejoin="miter"/>
<circle cx="507.50" cy="595.70" r="2.1" fill="#fff" stroke="#000" stroke-width="1.0"/>
<circle cx="504.10" cy="600.80" r="2.1" fill="#fff" stroke="#000" stroke-width="1.0"/>
<circle cx="510.20" cy="603.90" r="2.1" fill="#fff" stroke="#000" stroke-width="1.0"/>
<circle cx="501.40" cy="610.00" r="2.1" fill="#fff" stroke="#000" stroke-width="1.0"/>
<circle cx="507.50" cy="612.60" r="2.1" fill="#fff" stroke="#000" stroke-width="1.0"/>
<circle cx="513.60" cy="612.60" r="2.1" fill="#fff" stroke="#000" stroke-width="1.0"/>
<circle cx="507.10" cy="605.90" r="2.1" fill="#fff" stroke="#000" stroke-width="1.0"/>
<line x1="483.50" y1="554.40" x2="483.50" y2="571.30" stroke="#000" stroke-width="2"/>
<line x1="478.75" y1="554.40" x2="488.25" y2="554.40" stroke="#000" stroke-width="2"/>
<line x1="478.75" y1="571.30" x2="488.25" y2="571.30" stroke="#000" stroke-width="2"/>
<line x1="507.35" y1="604.30" x2="507.35" y2="608.30" stroke="#000" stroke-width="2"/>
<line x1="502.60" y1="604.30" x2="512.10" y2="604.30" stroke="#000" stroke-width="2"/>
<line x1="502.60" y1="608.30" x2="512.10" y2="608.30" stroke="#000" stroke-width="2"/>
<line x1="445.20" y1="507.20" x2="445.20" y2="629.30" stroke="#000" stroke-width="2" stroke-linecap="butt"/>
<line x1="444.20" y1="628.30" x2="522.50" y2="628.30" stroke="#000" stroke-width="2"/>
<line x1="439.20" y1="628.30" x2="445.20" y2="628.30" stroke="#000" stroke-width="1.7"/>
<text x="438.00" y="631.70" font-size="9.5" text-anchor="end" fill="#222" stroke="#222" font-weight="normal">0</text>
<line x1="439.20" y1="604.26" x2="445.20" y2="604.26" stroke="#000" stroke-width="1.7"/>
<text x="438.00" y="607.66" font-size="9.5" text-anchor="end" fill="#222" stroke="#222" font-weight="normal">0.2</text>
<line x1="439.20" y1="580.22" x2="445.20" y2="580.22" stroke="#000" stroke-width="1.7"/>
<text x="438.00" y="583.62" font-size="9.5" text-anchor="end" fill="#222" stroke="#222" font-weight="normal">0.4</text>
<line x1="439.20" y1="556.18" x2="445.20" y2="556.18" stroke="#000" stroke-width="1.7"/>
<text x="438.00" y="559.58" font-size="9.5" text-anchor="end" fill="#222" stroke="#222" font-weight="normal">0.6</text>
<line x1="439.20" y1="532.14" x2="445.20" y2="532.14" stroke="#000" stroke-width="1.7"/>
<text x="438.00" y="535.54" font-size="9.5" text-anchor="end" fill="#222" stroke="#222" font-weight="normal">0.8</text>
<line x1="439.20" y1="508.10" x2="445.20" y2="508.10" stroke="#000" stroke-width="1.7"/>
<text x="438.00" y="511.50" font-size="9.5" text-anchor="end" fill="#222" stroke="#222" font-weight="normal">1.0</text>
<line x1="459.55" y1="628.30" x2="459.55" y2="633.80" stroke="#000" stroke-width="1.7"/>
<line x1="483.50" y1="628.30" x2="483.50" y2="633.80" stroke="#000" stroke-width="1.7"/>
<line x1="507.35" y1="628.30" x2="507.35" y2="633.80" stroke="#000" stroke-width="1.7"/>
<line x1="454.20" y1="512.80" x2="480.30" y2="512.80" stroke="#000" stroke-width="1.5"/>
<text x="467.25" y="512.40" font-size="9.3" text-anchor="middle" fill="#111" stroke="#111" font-weight="normal">*</text>
<line x1="486.80" y1="512.80" x2="512.80" y2="512.80" stroke="#000" stroke-width="1.5"/>
<text x="499.80" y="512.40" font-size="9.3" text-anchor="middle" fill="#111" stroke="#111" font-weight="normal">**</text>
<text x="402.70" y="567.80" font-size="9.0" text-anchor="middle" fill="#111" stroke="#111" font-weight="normal" transform="rotate(-90 402.70 567.80)">FITC fluorescence in</text>
<text x="413.90" y="566.60" font-size="9.3" text-anchor="middle" fill="#111" stroke="#111" font-weight="normal" transform="rotate(-90 413.90 566.60)">BALF (arbitrary units)</text>
<text x="460.25" y="642.80" font-size="9.3" text-anchor="end" fill="#111" transform="rotate(-37 460.25 642.80)"><tspan fill="#111" stroke="#111">no cells</tspan></text>
<text x="484.20" y="642.80" font-size="9.3" text-anchor="end" fill="#111" transform="rotate(-37 484.20 642.80)"><tspan fill="#F47B47" stroke="#F47B47">BMDM1</tspan></text>
<text x="508.05" y="642.80" font-size="9.3" text-anchor="end" fill="#111" transform="rotate(-37 508.05 642.80)"><tspan fill="#1FAE57" stroke="#1FAE57">BMDM2</tspan></text>
<text x="536.00" y="496.00" font-size="9.5" text-anchor="start" fill="#111" stroke="#111" font-weight="bold">j.</text>
<rect x="606.25" y="611.35" width="16.50" height="18.40" fill="#fff" stroke="#A7A7AB" stroke-width="1.9"/>
<rect x="630.95" y="555.55" width="15.60" height="74.20" fill="#fff" stroke="#A7A7AB" stroke-width="1.9"/>
<circle cx="583.50" cy="627.60" r="2.3" fill="#000"/>
<circle cx="587.80" cy="627.20" r="2.3" fill="#000"/>
<circle cx="592.20" cy="627.20" r="2.3" fill="#000"/>
<circle cx="596.50" cy="627.60" r="2.3" fill="#000"/>
<polygon points="609.90,597.60 607.60,601.60 612.20,601.60" fill="#fff" stroke="#000" stroke-width="0.95" stroke-linejoin="miter"/>
<polygon points="613.10,598.60 610.80,602.60 615.40,602.60" fill="#fff" stroke="#000" stroke-width="0.95" stroke-linejoin="miter"/>
<polygon points="615.80,599.60 613.50,603.60 618.10,603.60" fill="#fff" stroke="#000" stroke-width="0.95" stroke-linejoin="miter"/>
<polygon points="618.80,601.60 616.50,605.60 621.10,605.60" fill="#fff" stroke="#000" stroke-width="0.95" stroke-linejoin="miter"/>
<polygon points="607.40,613.60 605.10,617.60 609.70,617.60" fill="#fff" stroke="#000" stroke-width="0.95" stroke-linejoin="miter"/>
<polygon points="610.30,614.60 608.00,618.60 612.60,618.60" fill="#fff" stroke="#000" stroke-width="0.95" stroke-linejoin="miter"/>
<polygon points="613.10,614.60 610.80,618.60 615.40,618.60" fill="#fff" stroke="#000" stroke-width="0.95" stroke-linejoin="miter"/>
<polygon points="616.30,615.60 614.00,619.60 618.60,619.60" fill="#fff" stroke="#000" stroke-width="0.95" stroke-linejoin="miter"/>
<polygon points="619.40,616.60 617.10,620.60 621.70,620.60" fill="#fff" stroke="#000" stroke-width="0.95" stroke-linejoin="miter"/>
<polygon points="622.20,617.60 619.90,621.60 624.50,621.60" fill="#fff" stroke="#000" stroke-width="0.95" stroke-linejoin="miter"/>
<circle cx="638.00" cy="530.50" r="2.1" fill="#fff" stroke="#000" stroke-width="1.0"/>
<circle cx="631.70" cy="543.60" r="2.1" fill="#fff" stroke="#000" stroke-width="1.0"/>
<circle cx="638.00" cy="544.70" r="2.1" fill="#fff" stroke="#000" stroke-width="1.0"/>
<circle cx="644.80" cy="548.20" r="2.1" fill="#fff" stroke="#000" stroke-width="1.0"/>
<circle cx="631.70" cy="554.20" r="2.1" fill="#fff" stroke="#000" stroke-width="1.0"/>
<circle cx="644.80" cy="553.10" r="2.1" fill="#fff" stroke="#000" stroke-width="1.0"/>
<circle cx="634.80" cy="566.80" r="2.1" fill="#fff" stroke="#000" stroke-width="1.0"/>
<circle cx="641.20" cy="566.80" r="2.1" fill="#fff" stroke="#000" stroke-width="1.0"/>
<circle cx="638.00" cy="579.90" r="2.1" fill="#fff" stroke="#000" stroke-width="1.0"/>
<line x1="614.50" y1="608.00" x2="614.50" y2="612.30" stroke="#000" stroke-width="2"/>
<line x1="609.75" y1="608.00" x2="619.25" y2="608.00" stroke="#000" stroke-width="2"/>
<line x1="609.75" y1="612.30" x2="619.25" y2="612.30" stroke="#000" stroke-width="2"/>
<line x1="638.75" y1="550.40" x2="638.75" y2="558.40" stroke="#000" stroke-width="2"/>
<line x1="634.00" y1="550.40" x2="643.50" y2="550.40" stroke="#000" stroke-width="2"/>
<line x1="634.00" y1="558.40" x2="643.50" y2="558.40" stroke="#000" stroke-width="2"/>
<line x1="576.00" y1="507.90" x2="576.00" y2="629.80" stroke="#000" stroke-width="2" stroke-linecap="butt"/>
<line x1="575.00" y1="628.80" x2="653.30" y2="628.80" stroke="#000" stroke-width="2"/>
<line x1="570.00" y1="628.80" x2="576.00" y2="628.80" stroke="#000" stroke-width="1.7"/>
<text x="568.80" y="632.20" font-size="9.5" text-anchor="end" fill="#222" stroke="#222" font-weight="normal">0</text>
<line x1="570.00" y1="604.80" x2="576.00" y2="604.80" stroke="#000" stroke-width="1.7"/>
<text x="568.80" y="608.20" font-size="9.5" text-anchor="end" fill="#222" stroke="#222" font-weight="normal">2</text>
<line x1="570.00" y1="580.80" x2="576.00" y2="580.80" stroke="#000" stroke-width="1.7"/>
<text x="568.80" y="584.20" font-size="9.5" text-anchor="end" fill="#222" stroke="#222" font-weight="normal">4</text>
<line x1="570.00" y1="556.80" x2="576.00" y2="556.80" stroke="#000" stroke-width="1.7"/>
<text x="568.80" y="560.20" font-size="9.5" text-anchor="end" fill="#222" stroke="#222" font-weight="normal">6</text>
<line x1="570.00" y1="532.80" x2="576.00" y2="532.80" stroke="#000" stroke-width="1.7"/>
<text x="568.80" y="536.20" font-size="9.5" text-anchor="end" fill="#222" stroke="#222" font-weight="normal">8</text>
<line x1="570.00" y1="508.80" x2="576.00" y2="508.80" stroke="#000" stroke-width="1.7"/>
<text x="568.80" y="512.20" font-size="9.5" text-anchor="end" fill="#222" stroke="#222" font-weight="normal">10</text>
<line x1="589.50" y1="628.80" x2="589.50" y2="634.30" stroke="#000" stroke-width="1.7"/>
<line x1="614.50" y1="628.80" x2="614.50" y2="634.30" stroke="#000" stroke-width="1.7"/>
<line x1="638.75" y1="628.80" x2="638.75" y2="634.30" stroke="#000" stroke-width="1.7"/>
<line x1="586.00" y1="504.90" x2="638.40" y2="504.90" stroke="#000" stroke-width="1.5"/>
<text x="612.20" y="504.50" font-size="9.3" text-anchor="middle" fill="#111" stroke="#111" font-weight="normal">***</text>
<line x1="611.40" y1="515.50" x2="638.40" y2="515.50" stroke="#000" stroke-width="1.5"/>
<text x="624.90" y="515.10" font-size="9.3" text-anchor="middle" fill="#111" stroke="#111" font-weight="normal">***</text>
<text x="555.10" y="567.50" font-size="9.3" text-anchor="middle" fill="#111" stroke="#111" font-weight="normal" transform="rotate(-90 555.10 567.50)">% Ki67+ of AEC II</text>
<text x="590.20" y="643.30" font-size="9.3" text-anchor="end" fill="#111" transform="rotate(-37 590.20 643.30)"><tspan fill="#111" stroke="#111">no cells</tspan></text>
<text x="615.20" y="643.30" font-size="9.3" text-anchor="end" fill="#111" transform="rotate(-37 615.20 643.30)"><tspan fill="#F47B47" stroke="#F47B47">BMDM1</tspan></text>
<text x="639.45" y="643.30" font-size="9.3" text-anchor="end" fill="#111" transform="rotate(-37 639.45 643.30)"><tspan fill="#1FAE57" stroke="#1FAE57">BMDM2</tspan></text>
<text x="399.60" y="8.20" font-size="9.5" text-anchor="start" fill="#111" stroke="#111" font-weight="bold">c.</text>
<text x="445.70" y="31.70" font-size="9.3" text-anchor="middle" fill="#111" stroke="#111" font-weight="normal">start of</text>
<text x="446.00" y="42.70" font-size="9.3" text-anchor="middle" fill="#111" stroke="#111" font-weight="normal">culture</text>
<line x1="445.30" y1="47.70" x2="445.30" y2="65.80" stroke="#111" stroke-width="1.3"/>
<polygon points="445.30,72.30 441.70,65.30 448.90,65.30" fill="#111"/>
<line x1="445.30" y1="80.50" x2="602.00" y2="80.50" stroke="#000" stroke-width="1.5"/>
<line x1="445.30" y1="76.50" x2="445.30" y2="84.50" stroke="#000" stroke-width="1.5"/>
<line x1="515.80" y1="76.50" x2="515.80" y2="84.50" stroke="#000" stroke-width="1.5"/>
<line x1="602.00" y1="76.50" x2="602.00" y2="84.50" stroke="#000" stroke-width="1.5"/>
<text x="444.80" y="96.70" font-size="9.3" text-anchor="middle" fill="#111" stroke="#111" font-weight="normal">D0</text>
<text x="516.60" y="98.00" font-size="9.3" text-anchor="middle" fill="#111" stroke="#111" font-weight="normal">D7</text>
<text x="600.60" y="98.90" font-size="9.3" text-anchor="middle" fill="#111" stroke="#111" font-weight="normal">D21</text>
<text x="516.50" y="109.50" font-size="9.3" text-anchor="middle" fill="#111" stroke="#111" font-weight="normal">organoid</text>
<text x="515.50" y="120.80" font-size="9.3" text-anchor="middle" fill="#111" stroke="#111" font-weight="normal">number/size</text>
<text x="611.30" y="109.60" font-size="9.3" text-anchor="middle" fill="#111" stroke="#111" font-weight="normal">morphology/</text>
<text x="611.00" y="120.60" font-size="9.3" text-anchor="middle" fill="#111" stroke="#111" font-weight="normal">alveorarization</text>
<text x="648.00" y="58.00" font-size="9.3" text-anchor="middle" fill="#111" stroke="#111" font-weight="normal">differentiated lung</text>
<text x="648.40" y="69.00" font-size="9.3" text-anchor="middle" fill="#111" stroke="#111" font-weight="normal">organoid (BALO)</text>
<text x="597.00" y="13.50" font-size="9.3" text-anchor="start" fill="#F08A8A" stroke="#F08A8A" font-weight="bold">airways</text>
<text x="605.00" y="34.00" font-size="9.3" text-anchor="start" fill="#D0702E" stroke="#D0702E" font-weight="bold">alveoli</text>
<line x1="420.80" y1="119.50" x2="429.89" y2="110.22" stroke="#111" stroke-width="1.15"/>
<polygon points="435.00,105.00 432.26,113.23 426.83,107.91" fill="#111"/>
<line x1="441.30" y1="124.70" x2="441.30" y2="112.30" stroke="#111" stroke-width="1.15"/>
<polygon points="441.30,105.00 445.10,112.80 437.50,112.80" fill="#111"/>
<line x1="461.00" y1="119.50" x2="452.79" y2="110.42" stroke="#111" stroke-width="1.15"/>
<polygon points="447.90,105.00 455.95,108.24 450.31,113.34" fill="#111"/>
<path d="M417.15,132.20 L416.87,132.76 L416.47,133.28 L416.00,133.74 L415.54,134.17 L415.14,134.57 L414.85,134.97 L414.68,135.39 L414.62,135.86 L414.64,136.38 L414.71,136.95 L414.78,137.55 L414.82,138.17 L414.81,138.78 L414.73,139.37 L414.59,139.94 L414.39,140.47 L414.15,140.97 L413.86,141.44 L413.53,141.85 L413.15,142.21 L412.73,142.48 L412.26,142.67 L411.75,142.75 L411.22,142.73 L410.69,142.63 L410.17,142.50 L409.69,142.39 L409.25,142.35 L408.85,142.42 L408.48,142.63 L408.13,142.97 L407.76,143.40 L407.37,143.86 L406.95,144.27 L406.50,144.56 L406.03,144.67 L405.57,144.58 L405.13,144.31 L404.73,143.89 L404.37,143.41 L404.03,142.94 L403.70,142.56 L403.34,142.31 L402.93,142.23 L402.46,142.28 L401.92,142.42 L401.33,142.58 L400.73,142.68 L400.16,142.67 L399.66,142.49 L399.26,142.15 L398.97,141.65 L398.80,141.03 L398.73,140.35 L398.72,139.65 L398.73,138.98 L398.73,138.35 L398.70,137.79 L398.62,137.29 L398.49,136.83 L398.33,136.39 L398.14,135.97 L397.93,135.54 L397.70,135.11 L397.47,134.67 L397.21,134.22 L396.93,133.75 L396.64,133.26 L396.35,132.75 L396.08,132.20 L395.88,131.63 L395.77,131.04 L395.79,130.46 L395.95,129.90 L396.25,129.39 L396.65,128.94 L397.11,128.54 L397.57,128.18 L397.97,127.83 L398.29,127.45 L398.49,127.02 L398.58,126.52 L398.60,125.94 L398.59,125.31 L398.62,124.66 L398.73,124.05 L398.95,123.54 L399.30,123.17 L399.77,122.95 L400.31,122.88 L400.88,122.91 L401.43,122.99 L401.94,123.04 L402.37,123.00 L402.73,122.82 L403.04,122.48 L403.31,121.99 L403.58,121.41 L403.88,120.79 L404.22,120.21 L404.61,119.73 L405.05,119.38 L405.52,119.20 L406.01,119.17 L406.50,119.28 L406.98,119.48 L407.43,119.75 L407.87,120.06 L408.29,120.39 L408.68,120.73 L409.05,121.09 L409.41,121.46 L409.74,121.85 L410.05,122.22 L410.37,122.57 L410.69,122.86 L411.04,123.09 L411.43,123.23 L411.89,123.30 L412.40,123.33 L412.94,123.35 L413.50,123.41 L414.03,123.56 L414.48,123.83 L414.82,124.23 L415.04,124.76 L415.13,125.37 L415.12,126.02 L415.06,126.67 L415.01,127.28 L415.02,127.83 L415.14,128.31 L415.38,128.74 L415.73,129.14 L416.15,129.56 L416.58,130.00 L416.95,130.50 L417.19,131.05 L417.26,131.62Z" fill="#fff" stroke="#F47B47" stroke-width="1.05" stroke-linejoin="round"/>
<path d="M410.76,133.20 L410.54,133.65 L410.33,134.05 L410.12,134.44 L409.94,134.81 L409.78,135.19 L409.62,135.58 L409.46,136.00 L409.29,136.45 L409.07,136.91 L408.79,137.37 L408.46,137.81 L408.05,138.21 L407.58,138.53 L407.06,138.76 L406.50,138.88 L405.93,138.89 L405.37,138.78 L404.84,138.57 L404.35,138.27 L403.92,137.89 L403.55,137.47 L403.23,137.02 L402.96,136.55 L402.74,136.07 L402.55,135.59 L402.39,135.12 L402.26,134.65 L402.15,134.17 L402.08,133.69 L402.04,133.20 L402.04,132.71 L402.09,132.22 L402.20,131.73 L402.37,131.27 L402.60,130.83 L402.87,130.43 L403.19,130.07 L403.54,129.75 L403.92,129.46 L404.31,129.21 L404.71,128.99 L405.13,128.79 L405.57,128.60 L406.02,128.43 L406.50,128.28 L407.00,128.17 L407.53,128.10 L408.08,128.09 L408.64,128.16 L409.18,128.32 L409.70,128.57 L410.17,128.92 L410.56,129.36 L410.87,129.87 L411.08,130.43 L411.18,131.01 L411.18,131.60 L411.10,132.17 L410.95,132.71Z" fill="#F47B47"/>
<path d="M449.86,140.20 L449.78,140.66 L449.87,141.13 L450.07,141.63 L450.35,142.17 L450.64,142.76 L450.89,143.38 L451.06,144.01 L451.13,144.63 L451.09,145.22 L450.96,145.78 L450.74,146.30 L450.47,146.77 L450.16,147.22 L449.82,147.63 L449.45,148.00 L449.05,148.33 L448.63,148.61 L448.18,148.84 L447.72,149.02 L447.26,149.16 L446.81,149.30 L446.40,149.47 L446.03,149.69 L445.69,150.00 L445.39,150.38 L445.09,150.84 L444.78,151.31 L444.43,151.76 L444.04,152.11 L443.61,152.32 L443.14,152.36 L442.66,152.23 L442.18,151.97 L441.73,151.64 L441.30,151.31 L440.89,151.07 L440.49,150.98 L440.07,151.06 L439.62,151.30 L439.12,151.66 L438.57,152.06 L438.00,152.40 L437.42,152.62 L436.87,152.63 L436.40,152.42 L436.01,151.99 L435.73,151.39 L435.54,150.67 L435.42,149.91 L435.33,149.18 L435.24,148.52 L435.11,147.97 L434.91,147.53 L434.65,147.17 L434.33,146.87 L433.97,146.59 L433.58,146.31 L433.20,146.01 L432.83,145.67 L432.48,145.30 L432.15,144.89 L431.84,144.46 L431.54,144.00 L431.27,143.52 L431.04,143.01 L430.87,142.47 L430.78,141.91 L430.78,141.34 L430.89,140.76 L431.09,140.20 L431.35,139.66 L431.62,139.15 L431.86,138.67 L432.04,138.18 L432.12,137.69 L432.11,137.16 L432.03,136.59 L431.93,135.98 L431.85,135.35 L431.86,134.74 L432.00,134.19 L432.28,133.73 L432.71,133.39 L433.24,133.17 L433.82,133.04 L434.40,132.97 L434.92,132.88 L435.33,132.71 L435.64,132.42 L435.83,131.97 L435.96,131.38 L436.05,130.66 L436.17,129.89 L436.34,129.13 L436.59,128.47 L436.94,127.96 L437.37,127.63 L437.86,127.49 L438.38,127.52 L438.92,127.67 L439.44,127.90 L439.94,128.15 L440.41,128.40 L440.87,128.61 L441.30,128.79 L441.72,128.95 L442.13,129.08 L442.54,129.21 L442.94,129.34 L443.35,129.44 L443.76,129.52 L444.18,129.57 L444.62,129.57 L445.10,129.54 L445.59,129.51 L446.10,129.50 L446.60,129.56 L447.06,129.72 L447.47,130.01 L447.80,130.42 L448.04,130.94 L448.22,131.52 L448.35,132.11 L448.48,132.67 L448.65,133.16 L448.91,133.57 L449.26,133.90 L449.71,134.17 L450.22,134.44 L450.75,134.74 L451.22,135.11 L451.58,135.57 L451.77,136.12 L451.76,136.73 L451.58,137.38 L451.25,138.03 L450.84,138.65 L450.43,139.21 L450.08,139.73Z" fill="#fff" stroke="#1FAE57" stroke-width="1.05" stroke-linejoin="round"/>
<path d="M445.47,141.20 L445.57,141.67 L445.67,142.17 L445.73,142.71 L445.75,143.28 L445.71,143.87 L445.58,144.47 L445.36,145.04 L445.05,145.57 L444.64,146.02 L444.15,146.38 L443.60,146.62 L443.01,146.74 L442.42,146.74 L441.84,146.63 L441.30,146.42 L440.80,146.15 L440.36,145.84 L439.97,145.50 L439.62,145.17 L439.29,144.85 L438.98,144.55 L438.67,144.26 L438.36,143.98 L438.03,143.70 L437.69,143.39 L437.36,143.04 L437.04,142.65 L436.76,142.21 L436.53,141.73 L436.37,141.20 L436.30,140.65 L436.31,140.09 L436.41,139.53 L436.60,139.00 L436.86,138.51 L437.18,138.05 L437.54,137.65 L437.95,137.29 L438.38,136.98 L438.83,136.71 L439.30,136.48 L439.78,136.30 L440.28,136.15 L440.79,136.06 L441.30,136.02 L441.82,136.04 L442.32,136.14 L442.81,136.31 L443.27,136.55 L443.69,136.86 L444.05,137.23 L444.35,137.64 L444.60,138.08 L444.79,138.53 L444.95,138.99 L445.07,139.44 L445.17,139.88 L445.27,140.31 L445.37,140.75Z" fill="#1FAE57"/>
<text x="405.00" y="155.50" font-size="9.3" text-anchor="middle" fill="#F47B47" stroke="#F47B47" font-weight="normal">BMDM1</text>
<text x="442.60" y="160.80" font-size="9.3" text-anchor="middle" fill="#1FAE57" stroke="#1FAE57" font-weight="normal">BMDM2</text>
<text x="453.00" y="133.40" font-size="9.3" text-anchor="start" fill="#111" stroke="#111" font-weight="normal">no cells</text>
<text x="468.00" y="145.00" font-size="9.3" text-anchor="middle" fill="#111" stroke="#111" font-weight="normal">(ctl)</text>
<circle cx="472.00" cy="47.50" r="4" fill="#C96464"/>
<circle cx="478.00" cy="44.80" r="3.8" fill="#C96464"/>
<circle cx="480.00" cy="50.00" r="4.3" fill="#C96464"/>
<circle cx="484.00" cy="47.50" r="3.4" fill="#C96464"/>
<circle cx="469.30" cy="50.50" r="3.5" fill="#C96464"/>
<circle cx="474.50" cy="52.00" r="3.3" fill="#C96464"/>
<circle cx="476.00" cy="48.00" r="4" fill="#C96464"/>
<line x1="493.30" y1="47.60" x2="499.00" y2="47.60" stroke="#111" stroke-width="2.6"/>
<polygon points="505.50,47.60 498.50,51.60 498.50,43.60" fill="#111"/>
<path d="M516.5,40 L516.8,52 M517,47 L528.5,40.5" stroke="#C96464" stroke-width="2.6" fill="none" stroke-linecap="round"/>
<circle cx="514.50" cy="34.60" r="3.0" fill="#C96464"/>
<circle cx="518.20" cy="34.20" r="3.0" fill="#C96464"/>
<circle cx="514.60" cy="38.50" r="3.2" fill="#C96464"/>
<circle cx="518.50" cy="38.20" r="3.0" fill="#C96464"/>
<circle cx="528.50" cy="36.80" r="3.0" fill="#C96464"/>
<circle cx="532.20" cy="38.60" r="3.0" fill="#C96464"/>
<circle cx="529.00" cy="40.80" r="3.0" fill="#C96464"/>
<circle cx="526.50" cy="39.20" r="2.6" fill="#C96464"/>
<circle cx="515.00" cy="52.50" r="3.6" fill="#C96464"/>
<circle cx="519.50" cy="52.50" r="3.4" fill="#C96464"/>
<circle cx="515.30" cy="57.00" r="3.5" fill="#C96464"/>
<circle cx="518.80" cy="56.00" r="3.2" fill="#C96464"/>
<circle cx="514.30" cy="55.00" r="3.0" fill="#C96464"/>
<line x1="540.20" y1="47.60" x2="546.00" y2="47.60" stroke="#111" stroke-width="2.6"/>
<polygon points="552.50,47.60 545.50,51.60 545.50,43.60" fill="#111"/>
<defs><filter id="glow" x="-30%" y="-30%" width="160%" height="160%"><feGaussianBlur in="SourceAlpha" stdDeviation="1.5" result="b"/><feFlood flood-color="#EE4C4C" flood-opacity="0.9"/><feComposite in2="b" operator="in" result="g"/><feMerge><feMergeNode in="g"/><feMergeNode in="SourceGraphic"/></feMerge></filter></defs>
<g filter="url(#glow)">
<path d="M559.5,42 L574.5,29.5" stroke="#EEA8A8" stroke-width="5" stroke-linecap="round"/>
<path d="M577.5,35.8 L583.4,37 M581.5,52 L584.4,53" stroke="#EFA0A0" stroke-width="3" stroke-linecap="round"/>
</g>
<g filter="url(#glow)">
<circle cx="567.75" cy="22.25" r="3.95" fill="#B04848"/>
<circle cx="572.16" cy="18.82" r="3.95" fill="#B04848"/>
<circle cx="575.10" cy="23.73" r="3.95" fill="#B04848"/>
<circle cx="571.18" cy="25.69" r="3.95" fill="#B04848"/>
<circle cx="569.71" cy="21.27" r="3.95" fill="#B04848"/>
<circle cx="567.75" cy="22.25" r="3.4" fill="#C86464"/>
<circle cx="572.16" cy="18.82" r="3.4" fill="#C86464"/>
<circle cx="575.10" cy="23.73" r="3.4" fill="#C86464"/>
<circle cx="571.18" cy="25.69" r="3.4" fill="#C86464"/>
<circle cx="569.71" cy="21.27" r="3.4" fill="#C86464"/>
<circle cx="577.55" cy="16.86" r="3.95" fill="#B04848"/>
<circle cx="580.98" cy="15.39" r="3.95" fill="#B04848"/>
<circle cx="584.41" cy="19.80" r="3.95" fill="#B04848"/>
<circle cx="580.49" cy="21.76" r="3.95" fill="#B04848"/>
<circle cx="579.51" cy="18.33" r="3.95" fill="#B04848"/>
<circle cx="577.55" cy="16.86" r="3.4" fill="#C86464"/>
<circle cx="580.98" cy="15.39" r="3.4" fill="#C86464"/>
<circle cx="584.41" cy="19.80" r="3.4" fill="#C86464"/>
<circle cx="580.49" cy="21.76" r="3.4" fill="#C86464"/>
<circle cx="579.51" cy="18.33" r="3.4" fill="#C86464"/>
<circle cx="583.92" cy="24.71" r="3.95" fill="#B04848"/>
<circle cx="589.31" cy="25.69" r="3.95" fill="#B04848"/>
<circle cx="593.73" cy="31.08" r="3.95" fill="#B04848"/>
<circle cx="587.35" cy="34.51" r="3.95" fill="#B04848"/>
<circle cx="583.43" cy="31.57" r="3.95" fill="#B04848"/>
<circle cx="588.33" cy="29.61" r="3.95" fill="#B04848"/>
<circle cx="583.92" cy="24.71" r="3.4" fill="#C86464"/>
<circle cx="589.31" cy="25.69" r="3.4" fill="#C86464"/>
<circle cx="593.73" cy="31.08" r="3.4" fill="#C86464"/>
<circle cx="587.35" cy="34.51" r="3.4" fill="#C86464"/>
<circle cx="583.43" cy="31.57" r="3.4" fill="#C86464"/>
<circle cx="588.33" cy="29.61" r="3.4" fill="#C86464"/>
<circle cx="572.65" cy="35.98" r="3.95" fill="#B04848"/>
<circle cx="568.24" cy="41.86" r="3.95" fill="#B04848"/>
<circle cx="577.06" cy="41.86" r="3.95" fill="#B04848"/>
<circle cx="572.16" cy="45.29" r="3.95" fill="#B04848"/>
<circle cx="572.65" cy="41.37" r="3.95" fill="#B04848"/>
<circle cx="572.65" cy="35.98" r="3.4" fill="#C86464"/>
<circle cx="568.24" cy="41.86" r="3.4" fill="#C86464"/>
<circle cx="577.06" cy="41.86" r="3.4" fill="#C86464"/>
<circle cx="572.16" cy="45.29" r="3.4" fill="#C86464"/>
<circle cx="572.65" cy="41.37" r="3.4" fill="#C86464"/>
<circle cx="586.37" cy="40.39" r="3.95" fill="#B04848"/>
<circle cx="593.24" cy="39.41" r="3.95" fill="#B04848"/>
<circle cx="599.12" cy="44.80" r="3.95" fill="#B04848"/>
<circle cx="590.29" cy="48.73" r="3.95" fill="#B04848"/>
<circle cx="583.43" cy="44.31" r="3.95" fill="#B04848"/>
<circle cx="591.27" cy="43.82" r="3.95" fill="#B04848"/>
<circle cx="586.37" cy="40.39" r="3.4" fill="#C86464"/>
<circle cx="593.24" cy="39.41" r="3.4" fill="#C86464"/>
<circle cx="599.12" cy="44.80" r="3.4" fill="#C86464"/>
<circle cx="590.29" cy="48.73" r="3.4" fill="#C86464"/>
<circle cx="583.43" cy="44.31" r="3.4" fill="#C86464"/>
<circle cx="591.27" cy="43.82" r="3.4" fill="#C86464"/>
<circle cx="570.69" cy="49.22" r="3.95" fill="#B04848"/>
<circle cx="578.53" cy="49.22" r="3.95" fill="#B04848"/>
<circle cx="574.61" cy="55.10" r="3.95" fill="#B04848"/>
<circle cx="574.61" cy="51.18" r="3.95" fill="#B04848"/>
<circle cx="570.69" cy="49.22" r="3.4" fill="#C86464"/>
<circle cx="578.53" cy="49.22" r="3.4" fill="#C86464"/>
<circle cx="574.61" cy="55.10" r="3.4" fill="#C86464"/>
<circle cx="574.61" cy="51.18" r="3.4" fill="#C86464"/>
<circle cx="560.88" cy="57.06" r="3.95" fill="#B04848"/>
<circle cx="565.78" cy="56.08" r="3.95" fill="#B04848"/>
<circle cx="561.86" cy="62.94" r="3.95" fill="#B04848"/>
<circle cx="567.75" cy="61.96" r="3.95" fill="#B04848"/>
<circle cx="563.82" cy="59.02" r="3.95" fill="#B04848"/>
<circle cx="560.88" cy="57.06" r="3.4" fill="#C86464"/>
<circle cx="565.78" cy="56.08" r="3.4" fill="#C86464"/>
<circle cx="561.86" cy="62.94" r="3.4" fill="#C86464"/>
<circle cx="567.75" cy="61.96" r="3.4" fill="#C86464"/>
<circle cx="563.82" cy="59.02" r="3.4" fill="#C86464"/>
<circle cx="568.73" cy="64.90" r="3.95" fill="#B04848"/>
<circle cx="573.63" cy="61.96" r="3.95" fill="#B04848"/>
<circle cx="575.59" cy="67.84" r="3.95" fill="#B04848"/>
<circle cx="570.69" cy="68.82" r="3.95" fill="#B04848"/>
<circle cx="572.16" cy="64.90" r="3.95" fill="#B04848"/>
<circle cx="568.73" cy="64.90" r="3.4" fill="#C86464"/>
<circle cx="573.63" cy="61.96" r="3.4" fill="#C86464"/>
<circle cx="575.59" cy="67.84" r="3.4" fill="#C86464"/>
<circle cx="570.69" cy="68.82" r="3.4" fill="#C86464"/>
<circle cx="572.16" cy="64.90" r="3.4" fill="#C86464"/>
<circle cx="588.33" cy="53.14" r="3.95" fill="#B04848"/>
<circle cx="595.20" cy="55.10" r="3.95" fill="#B04848"/>
<circle cx="593.24" cy="60.00" r="3.95" fill="#B04848"/>
<circle cx="591.27" cy="56.08" r="3.95" fill="#B04848"/>
<circle cx="588.33" cy="53.14" r="3.4" fill="#C86464"/>
<circle cx="595.20" cy="55.10" r="3.4" fill="#C86464"/>
<circle cx="593.24" cy="60.00" r="3.4" fill="#C86464"/>
<circle cx="591.27" cy="56.08" r="3.4" fill="#C86464"/>
<circle cx="581.47" cy="62.94" r="3.95" fill="#B04848"/>
<circle cx="586.37" cy="60.00" r="3.95" fill="#B04848"/>
<circle cx="589.31" cy="66.86" r="3.95" fill="#B04848"/>
<circle cx="584.41" cy="67.84" r="3.95" fill="#B04848"/>
<circle cx="585.39" cy="63.92" r="3.95" fill="#B04848"/>
<circle cx="581.47" cy="62.94" r="3.4" fill="#C86464"/>
<circle cx="586.37" cy="60.00" r="3.4" fill="#C86464"/>
<circle cx="589.31" cy="66.86" r="3.4" fill="#C86464"/>
<circle cx="584.41" cy="67.84" r="3.4" fill="#C86464"/>
<circle cx="585.39" cy="63.92" r="3.4" fill="#C86464"/>
</g>
<text x="5.00" y="495.50" font-size="9.5" text-anchor="start" fill="#111" stroke="#111" font-weight="bold">g.</text>
<defs><radialGradient id="vg" cx="50%" cy="50%" r="50%"><stop offset="0" stop-color="#8a8a8a"/><stop offset="0.7" stop-color="#6a6a6a"/><stop offset="1" stop-color="#4a4a4a"/></radialGradient></defs>
<path d="M51.40,509.70 L50.01,510.80 L50.99,512.26 L49.34,512.88 L49.81,514.58 L48.05,514.65 L47.98,516.41 L46.28,515.94 L45.66,517.59 L44.20,516.61 L43.10,518.00 L42.00,516.61 L40.54,517.59 L39.92,515.94 L38.22,516.41 L38.15,514.65 L36.39,514.58 L36.86,512.88 L35.21,512.26 L36.19,510.80 L34.80,509.70 L36.19,508.60 L35.21,507.14 L36.86,506.52 L36.39,504.82 L38.15,504.75 L38.22,502.99 L39.92,503.46 L40.54,501.81 L42.00,502.79 L43.10,501.40 L44.20,502.79 L45.66,501.81 L46.28,503.46 L47.98,502.99 L48.05,504.75 L49.81,504.82 L49.34,506.52 L50.99,507.14 L50.01,508.60Z" fill="url(#vg)"/>
<circle cx="40.1" cy="507.7" r="0.9" fill="#cfcfcf"/>
<circle cx="44.1" cy="505.7" r="0.9" fill="#cfcfcf"/>
<circle cx="46.1" cy="510.7" r="0.9" fill="#cfcfcf"/>
<circle cx="42.1" cy="512.7" r="0.9" fill="#cfcfcf"/>
<circle cx="39.1" cy="511.7" r="0.9" fill="#cfcfcf"/>
<circle cx="45.1" cy="514.2" r="0.9" fill="#cfcfcf"/>
<circle cx="47.6" cy="507.7" r="0.9" fill="#cfcfcf"/>
<circle cx="43.1" cy="509.7" r="0.9" fill="#cfcfcf"/>
<text x="55.80" y="513.10" font-size="9.3" text-anchor="start" fill="#111" stroke="#111" font-weight="normal">A/PR8</text>
<path d="M31,538.5 C24,539.5 15,540 12,548" stroke="#C08A82" stroke-width="1.6" fill="none" stroke-linecap="round"/>
<ellipse cx="32.8" cy="544.9" rx="2.3" ry="1.6" fill="#D9A8A0"/>
<ellipse cx="40.1" cy="547.6" rx="2.3" ry="1.6" fill="#D9A8A0"/>
<ellipse cx="51.9" cy="547.0" rx="2.3" ry="1.6" fill="#D9A8A0"/>
<ellipse cx="42.2" cy="536.6" rx="11.8" ry="11.0" fill="#4B4646"/>
<circle cx="38.8" cy="529.8" r="3.6" fill="#D8A29C" stroke="#4B4646" stroke-width="0.8"/>
<circle cx="53.2" cy="529.4" r="3.6" fill="#D8A29C" stroke="#4B4646" stroke-width="0.8"/>
<ellipse cx="46.3" cy="537.5" rx="7" ry="6" fill="#3E3939"/>
<circle cx="43.4" cy="536.8" r="0.9" fill="#151515"/><circle cx="49.3" cy="536.8" r="0.9" fill="#151515"/>
<ellipse cx="46.2" cy="541.4" rx="1.5" ry="1.1" fill="#E0A0A0"/>
<text x="0.6" y="563.3" font-size="9.3" font-style="italic" fill="#111" stroke="#111">Ccr2<tspan font-size="6" dy="-3.6" font-style="normal">-/-</tspan></text>
<line x1="48.60" y1="556.40" x2="180.60" y2="556.40" stroke="#000" stroke-width="1.5"/>
<line x1="48.60" y1="552.60" x2="48.60" y2="560.40" stroke="#000" stroke-width="1.5"/>
<line x1="106.80" y1="552.60" x2="106.80" y2="560.40" stroke="#000" stroke-width="1.5"/>
<line x1="180.60" y1="552.60" x2="180.60" y2="560.40" stroke="#000" stroke-width="1.5"/>
<text x="50.80" y="571.50" font-size="9.3" text-anchor="middle" fill="#111" stroke="#111" font-weight="normal">D0</text>
<text x="106.80" y="573.00" font-size="9.3" text-anchor="middle" fill="#111" stroke="#111" font-weight="normal">D3</text>
<text x="179.00" y="573.00" font-size="9.3" text-anchor="middle" fill="#111" stroke="#111" font-weight="normal">D7</text>
<text x="108.20" y="535.00" font-size="9.3" text-anchor="middle" fill="#111" stroke="#111" font-weight="normal">intratracheal</text>
<text x="108.20" y="546.60" font-size="9.3" text-anchor="middle" fill="#111" stroke="#111" font-weight="normal">transfer</text>
<text x="158.70" y="546.60" font-size="9.3" text-anchor="start" fill="#111" stroke="#111" font-weight="normal">sacrifice</text>
<line x1="75.50" y1="591.00" x2="89.77" y2="580.76" stroke="#111" stroke-width="1.15"/>
<polygon points="95.70,576.50 91.58,584.14 87.15,577.96" fill="#111"/>
<line x1="106.20" y1="591.00" x2="106.20" y2="584.60" stroke="#111" stroke-width="1.15"/>
<polygon points="106.20,577.30 110.00,585.10 102.40,585.10" fill="#111"/>
<line x1="137.30" y1="591.00" x2="122.56" y2="581.08" stroke="#111" stroke-width="1.15"/>
<polygon points="116.50,577.00 125.09,578.20 120.85,584.51" fill="#111"/>
<text x="65.70" y="604.80" font-size="9.3" text-anchor="middle" fill="#111" stroke="#111" font-weight="normal">no cells</text>
<text x="65.70" y="616.50" font-size="9.3" text-anchor="middle" fill="#111" stroke="#111" font-weight="normal">(ctl)</text>
<path d="M115.98,606.20 L115.69,606.78 L115.27,607.32 L114.79,607.81 L114.31,608.25 L113.90,608.66 L113.59,609.08 L113.42,609.52 L113.35,610.01 L113.38,610.55 L113.45,611.14 L113.52,611.77 L113.56,612.41 L113.55,613.05 L113.46,613.67 L113.32,614.26 L113.11,614.81 L112.86,615.33 L112.56,615.81 L112.21,616.25 L111.82,616.62 L111.38,616.90 L110.89,617.09 L110.37,617.18 L109.81,617.16 L109.26,617.06 L108.72,616.92 L108.22,616.81 L107.76,616.77 L107.35,616.84 L106.97,617.06 L106.60,617.41 L106.22,617.86 L105.81,618.33 L105.37,618.76 L104.90,619.06 L104.41,619.18 L103.93,619.09 L103.48,618.80 L103.06,618.37 L102.68,617.87 L102.33,617.38 L101.98,616.98 L101.61,616.72 L101.18,616.64 L100.69,616.69 L100.13,616.84 L99.52,617.00 L98.90,617.11 L98.30,617.09 L97.78,616.91 L97.36,616.55 L97.07,616.03 L96.89,615.39 L96.81,614.68 L96.80,613.95 L96.81,613.25 L96.81,612.60 L96.78,612.02 L96.70,611.50 L96.57,611.01 L96.40,610.56 L96.20,610.12 L95.98,609.68 L95.75,609.23 L95.50,608.77 L95.23,608.31 L94.94,607.82 L94.64,607.31 L94.34,606.77 L94.06,606.20 L93.85,605.60 L93.73,604.99 L93.75,604.39 L93.92,603.81 L94.23,603.28 L94.65,602.80 L95.12,602.39 L95.60,602.01 L96.03,601.65 L96.35,601.26 L96.56,600.81 L96.66,600.29 L96.67,599.68 L96.67,599.02 L96.70,598.35 L96.81,597.72 L97.04,597.19 L97.41,596.80 L97.89,596.57 L98.45,596.50 L99.05,596.53 L99.63,596.62 L100.15,596.67 L100.61,596.62 L100.98,596.43 L101.30,596.08 L101.58,595.58 L101.86,594.97 L102.17,594.33 L102.53,593.72 L102.94,593.22 L103.39,592.86 L103.89,592.67 L104.39,592.64 L104.90,592.75 L105.40,592.96 L105.87,593.24 L106.33,593.56 L106.76,593.90 L107.17,594.26 L107.56,594.64 L107.93,595.03 L108.27,595.42 L108.60,595.81 L108.92,596.17 L109.26,596.48 L109.62,596.72 L110.04,596.86 L110.51,596.94 L111.04,596.97 L111.61,596.99 L112.19,597.05 L112.73,597.21 L113.21,597.49 L113.56,597.91 L113.79,598.45 L113.88,599.09 L113.87,599.77 L113.81,600.45 L113.76,601.08 L113.77,601.65 L113.89,602.15 L114.14,602.60 L114.51,603.02 L114.95,603.45 L115.39,603.92 L115.77,604.43 L116.03,605.00 L116.10,605.60Z" fill="#fff" stroke="#F47B47" stroke-width="1.05" stroke-linejoin="round"/>
<path d="M109.33,607.20 L109.11,607.66 L108.88,608.09 L108.67,608.49 L108.48,608.87 L108.31,609.27 L108.15,609.68 L107.99,610.12 L107.80,610.58 L107.57,611.06 L107.29,611.54 L106.94,612.00 L106.51,612.41 L106.02,612.74 L105.48,612.98 L104.90,613.11 L104.31,613.12 L103.72,613.01 L103.17,612.79 L102.66,612.47 L102.21,612.08 L101.82,611.64 L101.49,611.17 L101.22,610.68 L100.99,610.19 L100.79,609.69 L100.62,609.20 L100.49,608.71 L100.38,608.21 L100.30,607.71 L100.25,607.20 L100.26,606.69 L100.31,606.18 L100.43,605.67 L100.60,605.19 L100.84,604.74 L101.12,604.32 L101.45,603.94 L101.82,603.61 L102.21,603.31 L102.62,603.05 L103.04,602.82 L103.48,602.60 L103.93,602.41 L104.40,602.23 L104.90,602.08 L105.42,601.96 L105.97,601.89 L106.55,601.88 L107.12,601.96 L107.69,602.12 L108.23,602.38 L108.72,602.75 L109.13,603.20 L109.45,603.73 L109.66,604.31 L109.77,604.92 L109.77,605.54 L109.69,606.13 L109.53,606.69Z" fill="#F47B47"/>
<path d="M161.42,601.00 L161.34,601.47 L161.42,601.95 L161.63,602.47 L161.92,603.03 L162.22,603.63 L162.48,604.27 L162.66,604.92 L162.73,605.56 L162.69,606.17 L162.55,606.75 L162.33,607.28 L162.05,607.77 L161.73,608.23 L161.38,608.65 L161.00,609.04 L160.59,609.38 L160.15,609.67 L159.69,609.90 L159.21,610.09 L158.74,610.24 L158.28,610.38 L157.85,610.55 L157.47,610.78 L157.13,611.09 L156.81,611.49 L156.50,611.96 L156.18,612.45 L155.82,612.91 L155.42,613.27 L154.98,613.49 L154.49,613.53 L154.00,613.40 L153.51,613.13 L153.04,612.78 L152.60,612.45 L152.18,612.20 L151.77,612.11 L151.34,612.19 L150.87,612.44 L150.35,612.81 L149.79,613.22 L149.20,613.57 L148.60,613.79 L148.04,613.81 L147.55,613.59 L147.15,613.15 L146.86,612.52 L146.67,611.78 L146.54,611.00 L146.45,610.25 L146.36,609.58 L146.22,609.01 L146.02,608.55 L145.75,608.18 L145.42,607.87 L145.04,607.59 L144.65,607.30 L144.26,606.98 L143.88,606.63 L143.52,606.25 L143.18,605.83 L142.85,605.39 L142.55,604.92 L142.27,604.42 L142.03,603.90 L141.85,603.34 L141.76,602.76 L141.77,602.17 L141.88,601.58 L142.08,601.00 L142.34,600.45 L142.63,599.92 L142.88,599.42 L143.06,598.92 L143.14,598.41 L143.13,597.86 L143.05,597.28 L142.94,596.65 L142.86,596.01 L142.87,595.38 L143.02,594.81 L143.31,594.34 L143.75,593.99 L144.29,593.76 L144.90,593.63 L145.49,593.55 L146.02,593.46 L146.45,593.29 L146.77,592.99 L146.97,592.53 L147.10,591.91 L147.19,591.17 L147.31,590.38 L147.49,589.60 L147.75,588.91 L148.11,588.39 L148.55,588.05 L149.05,587.90 L149.59,587.93 L150.14,588.09 L150.68,588.33 L151.20,588.59 L151.69,588.84 L152.15,589.06 L152.60,589.25 L153.03,589.41 L153.46,589.55 L153.88,589.68 L154.29,589.81 L154.71,589.92 L155.13,590.00 L155.57,590.05 L156.03,590.05 L156.51,590.02 L157.02,589.98 L157.54,589.98 L158.06,590.04 L158.54,590.21 L158.96,590.50 L159.29,590.93 L159.55,591.46 L159.73,592.05 L159.86,592.67 L160.00,593.24 L160.18,593.75 L160.44,594.17 L160.80,594.51 L161.26,594.79 L161.79,595.07 L162.33,595.38 L162.82,595.76 L163.19,596.23 L163.38,596.80 L163.38,597.43 L163.19,598.10 L162.85,598.77 L162.43,599.40 L162.00,599.98 L161.65,600.51Z" fill="#fff" stroke="#1FAE57" stroke-width="1.05" stroke-linejoin="round"/>
<path d="M156.90,602.00 L157.00,602.49 L157.10,603.00 L157.17,603.56 L157.19,604.15 L157.14,604.75 L157.01,605.37 L156.79,605.96 L156.46,606.50 L156.04,606.97 L155.53,607.34 L154.97,607.59 L154.37,607.71 L153.76,607.71 L153.16,607.59 L152.60,607.38 L152.09,607.10 L151.63,606.78 L151.23,606.43 L150.87,606.09 L150.53,605.76 L150.21,605.45 L149.89,605.15 L149.57,604.87 L149.23,604.57 L148.88,604.25 L148.54,603.90 L148.21,603.50 L147.92,603.04 L147.68,602.54 L147.52,602.00 L147.44,601.43 L147.46,600.85 L147.56,600.28 L147.75,599.73 L148.02,599.22 L148.35,598.76 L148.73,598.34 L149.15,597.97 L149.59,597.65 L150.06,597.38 L150.54,597.14 L151.04,596.95 L151.55,596.80 L152.07,596.70 L152.60,596.66 L153.13,596.69 L153.66,596.79 L154.16,596.96 L154.63,597.21 L155.06,597.53 L155.43,597.91 L155.75,598.33 L156.00,598.79 L156.20,599.25 L156.36,599.72 L156.48,600.19 L156.59,600.64 L156.69,601.09 L156.79,601.54Z" fill="#1FAE57"/>
<text x="105.40" y="628.40" font-size="9.3" text-anchor="middle" fill="#F47B47" stroke="#F47B47" font-weight="normal">BMDM1</text>
<text x="154.00" y="624.20" font-size="9.3" text-anchor="middle" fill="#1FAE57" stroke="#1FAE57" font-weight="normal">BMDM2</text>
<text x="350.30" y="246.60" font-size="9.5" text-anchor="start" fill="#111" stroke="#111" font-weight="bold">f.</text>
<text x="488.00" y="245.50" font-size="9.3" text-anchor="middle" fill="#111" stroke="#111" font-weight="normal">21 days in culture</text>
<line x1="434.30" y1="250.00" x2="541.10" y2="250.00" stroke="#000" stroke-width="1.5"/>
<text x="373.80" y="301.40" font-size="9.3" text-anchor="middle" fill="#F47B47" stroke="#F47B47" font-weight="normal" transform="rotate(-90 373.80 301.40)">BMDM1</text>
<text x="373.80" y="397.20" font-size="9.3" text-anchor="middle" fill="#1FAE57" stroke="#1FAE57" font-weight="normal" transform="rotate(-90 373.80 397.20)">BMDM2</text>
<defs>
<filter id="nz" x="0" y="0" width="100%" height="100%">
 <feTurbulence type="fractalNoise" baseFrequency="0.75" numOctaves="2" seed="4" result="t"/>
 <feColorMatrix in="t" type="matrix" values="0 0 0 0 0  0 0 0 0 0  0 0 0 0 0  0 0 0 -2.2 1.35"/>
</filter>
<filter id="nz2" x="0" y="0" width="100%" height="100%">
 <feTurbulence type="fractalNoise" baseFrequency="0.35" numOctaves="3" seed="9" result="t"/>
 <feColorMatrix in="t" type="matrix" values="0 0 0 0 0  0 0 0 0 0  0 0 0 0 0  0 0 0 -3 1.75"/>
</filter>
<filter id="bl05"><feGaussianBlur stdDeviation="0.5"/></filter>
<filter id="bl1"><feGaussianBlur stdDeviation="1"/></filter>
<filter id="bl2"><feGaussianBlur stdDeviation="2"/></filter>
<radialGradient id="plate" cx="50%" cy="50%" r="50%">
 <stop offset="0.8" stop-color="#bcbcbc"/><stop offset="0.88" stop-color="#a8a8a8"/><stop offset="0.96" stop-color="#505050"/><stop offset="1" stop-color="#262626"/>
</radialGradient>
<radialGradient id="inner1" cx="50%" cy="50%" r="50%">
 <stop offset="0" stop-color="#cdcdcd"/><stop offset="0.6" stop-color="#c0c0c0"/><stop offset="0.84" stop-color="#a6a6a6"/><stop offset="0.94" stop-color="#707070"/><stop offset="1" stop-color="#303030"/>
</radialGradient>
<radialGradient id="inner2" cx="50%" cy="50%" r="50%">
 <stop offset="0" stop-color="#c4c4c4"/><stop offset="0.6" stop-color="#bababa"/><stop offset="0.84" stop-color="#a0a0a0"/><stop offset="0.94" stop-color="#686868"/><stop offset="1" stop-color="#2c2c2c"/>
</radialGradient>
<radialGradient id="org1" cx="50%" cy="50%" r="50%">
 <stop offset="0" stop-color="#4a4a4a"/><stop offset="0.7" stop-color="#5a5a5a"/><stop offset="1" stop-color="#777"/>
</radialGradient>
<radialGradient id="org2" cx="50%" cy="50%" r="50%">
 <stop offset="0" stop-color="#3a3a3a"/><stop offset="0.45" stop-color="#4c4c4c"/><stop offset="0.8" stop-color="#6e6e6e"/><stop offset="1" stop-color="#8a8a8a"/>
</radialGradient>
<clipPath id="cTL"><rect x="387.9" y="255.4" width="103.1" height="91.6"/></clipPath>
<clipPath id="cBL"><rect x="387.9" y="351.2" width="103.1" height="91.6"/></clipPath>
<clipPath id="cTR"><rect x="495.2" y="255.2" width="102.8" height="91.1"/></clipPath>
<clipPath id="cBR"><rect x="495.2" y="351.4" width="102.8" height="92"/></clipPath>
</defs>
<g clip-path="url(#cTL)">
<rect x="387.9" y="255.4" width="103.1" height="91.6" fill="#262626"/>
<ellipse cx="439.45" cy="301.4" rx="66" ry="56" fill="url(#plate)"/>
<ellipse cx="439.45" cy="301.4" rx="56.8" ry="47.9" fill="none" stroke="#9a9a9a" stroke-width="3.2"/>
<ellipse cx="439.45" cy="301.4" rx="56.8" ry="47.9" fill="none" stroke="#3a3a3a" stroke-width="1.8" stroke-dasharray="0.8 0.7"/>
<ellipse cx="439.45" cy="301.4" rx="54.9" ry="46.0" fill="#d0d0d0"/>
<ellipse cx="439.45" cy="301.4" rx="51" ry="43.6" fill="none" stroke="#e4e4e4" stroke-width="1.5"/>
<ellipse cx="439.45" cy="301.4" rx="48.2" ry="41.8" fill="#0e0e0e" filter="url(#bl05)"/>
<ellipse cx="439.45" cy="301.4" rx="44.6" ry="38.0" fill="url(#inner1)" filter="url(#bl1)"/>
<ellipse cx="440" cy="278" rx="40" ry="14" fill="#8a8a8a" opacity="0.45" filter="url(#bl2)"/>
<path d="M400,298 C406,286 420,282 434,292 C440,297 446,300 452,302 C462,300 474,296 482,300 C478,312 462,318 446,316 C434,314 430,318 420,318 C408,316 400,308 400,298Z" fill="#d8d8d8" filter="url(#bl1)"/>
<path d="M404,285 C415,280 428,286 436,296" stroke="#7a7a7a" stroke-width="2.2" fill="none" filter="url(#bl05)"/>
<path d="M440,303 C450,311 464,314 478,307" stroke="#dedede" stroke-width="1.3" fill="none" filter="url(#bl05)"/>
<path d="M403,315 C418,321 430,321 440,315" stroke="#dedede" stroke-width="1.3" fill="none" filter="url(#bl05)"/>
<path d="M404,288 C416,283 428,288 434,297" stroke="#a0a0a0" stroke-width="1.2" fill="none"/>
<ellipse cx="435" cy="298" rx="3.4" ry="2.8" fill="#555" filter="url(#bl05)"/>
<path d="M434,306 C444,316 458,322 470,326 C462,336 442,339 425,336 C415,332 410,326 412,320Z" fill="#dcdcdc" filter="url(#bl1)"/>
<circle cx="426.6" cy="315.9" r="0.92" fill="rgb(59,59,59)"/>
<circle cx="464.4" cy="314.4" r="0.87" fill="rgb(114,114,114)"/>
<circle cx="418.3" cy="314.2" r="0.73" fill="rgb(80,80,80)"/>
<circle cx="408.9" cy="323.0" r="1.06" fill="rgb(65,65,65)"/>
<circle cx="446.3" cy="313.6" r="0.87" fill="rgb(56,56,56)"/>
<circle cx="476.2" cy="313.2" r="1.09" fill="rgb(87,87,87)"/>
<circle cx="433.9" cy="326.1" r="0.86" fill="rgb(73,73,73)"/>
<circle cx="409.8" cy="326.9" r="0.55" fill="rgb(62,62,62)"/>
<circle cx="443.6" cy="313.6" r="0.45" fill="rgb(76,76,76)"/>
<circle cx="439.7" cy="325.8" r="1.02" fill="rgb(109,109,109)"/>
<circle cx="446.5" cy="323.8" r="0.64" fill="rgb(73,73,73)"/>
<circle cx="455.1" cy="318.3" r="0.86" fill="rgb(117,117,117)"/>
<circle cx="439.6" cy="320.9" r="0.76" fill="rgb(59,59,59)"/>
<circle cx="411.0" cy="322.9" r="1.01" fill="rgb(69,69,69)"/>
<circle cx="472.9" cy="323.0" r="1.17" fill="rgb(59,59,59)"/>
<circle cx="460.1" cy="326.9" r="1.10" fill="rgb(90,90,90)"/>
<circle cx="427.8" cy="321.1" r="0.80" fill="rgb(108,108,108)"/>
<circle cx="407.2" cy="314.4" r="0.62" fill="rgb(58,58,58)"/>
<circle cx="464.5" cy="319.4" r="0.71" fill="rgb(94,94,94)"/>
<circle cx="414.8" cy="315.0" r="0.45" fill="rgb(86,86,86)"/>
<circle cx="411.8" cy="318.4" r="0.71" fill="rgb(113,113,113)"/>
<circle cx="408.1" cy="323.7" r="0.84" fill="rgb(67,67,67)"/>
<circle cx="423.2" cy="322.8" r="0.69" fill="rgb(98,98,98)"/>
<circle cx="474.8" cy="315.9" r="0.54" fill="rgb(79,79,79)"/>
<circle cx="452.0" cy="312.3" r="1.06" fill="rgb(73,73,73)"/>
<circle cx="422.0" cy="312.1" r="0.74" fill="rgb(97,97,97)"/>
<circle cx="448.3" cy="320.3" r="0.50" fill="rgb(115,115,115)"/>
<circle cx="458.2" cy="323.9" r="1.10" fill="rgb(100,100,100)"/>
<circle cx="432.3" cy="322.2" r="0.79" fill="rgb(101,101,101)"/>
<circle cx="406.7" cy="313.8" r="0.57" fill="rgb(70,70,70)"/>
<circle cx="410.4" cy="327.6" r="0.48" fill="rgb(69,69,69)"/>
<circle cx="442.8" cy="336.7" r="0.89" fill="rgb(59,59,59)"/>
<circle cx="468.4" cy="328.0" r="0.52" fill="rgb(82,82,82)"/>
<circle cx="438.0" cy="315.0" r="0.79" fill="rgb(109,109,109)"/>
<circle cx="438.5" cy="320.1" r="0.52" fill="rgb(93,93,93)"/>
<circle cx="458.3" cy="324.4" r="0.95" fill="rgb(116,116,116)"/>
<circle cx="442.1" cy="315.8" r="0.83" fill="rgb(53,53,53)"/>
<circle cx="459.6" cy="319.8" r="0.91" fill="rgb(61,61,61)"/>
<circle cx="454.9" cy="318.8" r="0.69" fill="rgb(71,71,71)"/>
<circle cx="429.0" cy="317.8" r="0.83" fill="rgb(114,114,114)"/>
<circle cx="427.1" cy="317.8" r="1.05" fill="rgb(74,74,74)"/>
<circle cx="458.2" cy="317.9" r="0.81" fill="rgb(95,95,95)"/>
<circle cx="462.0" cy="324.3" r="0.55" fill="rgb(94,94,94)"/>
<circle cx="436.0" cy="336.4" r="1.19" fill="rgb(96,96,96)"/>
<circle cx="408.1" cy="314.7" r="0.78" fill="rgb(93,93,93)"/>
<circle cx="417.5" cy="328.2" r="1.12" fill="rgb(50,50,50)"/>
<circle cx="438.4" cy="329.0" r="1.04" fill="rgb(60,60,60)"/>
<circle cx="465.4" cy="315.1" r="0.71" fill="rgb(75,75,75)"/>
<circle cx="438.3" cy="316.6" r="1.03" fill="rgb(92,92,92)"/>
<circle cx="456.9" cy="324.0" r="0.99" fill="rgb(60,60,60)"/>
<circle cx="457.1" cy="316.4" r="0.50" fill="rgb(69,69,69)"/>
<circle cx="446.9" cy="324.1" r="0.92" fill="rgb(110,110,110)"/>
<circle cx="452.0" cy="321.1" r="0.84" fill="rgb(66,66,66)"/>
<circle cx="457.2" cy="314.7" r="1.00" fill="rgb(67,67,67)"/>
<circle cx="435.0" cy="334.7" r="1.06" fill="rgb(77,77,77)"/>
<circle cx="404.1" cy="317.5" r="0.80" fill="rgb(91,91,91)"/>
<circle cx="421.7" cy="322.9" r="0.50" fill="rgb(95,95,95)"/>
<circle cx="416" cy="289" r="1.1" fill="#666"/>
<circle cx="426" cy="290" r="1.1" fill="#666"/>
<circle cx="420" cy="287" r="1.1" fill="#666"/>
<circle cx="462" cy="316" r="1.1" fill="#666"/>
<circle cx="470" cy="318" r="1.1" fill="#666"/>
<circle cx="448" cy="318" r="1.1" fill="#666"/>
<circle cx="474" cy="292" r="1.1" fill="#666"/>
<circle cx="458" cy="278" r="1.1" fill="#666"/>
<circle cx="472" cy="282" r="1.1" fill="#666"/>
</g>
<g clip-path="url(#cBL)">
<rect x="387.9" y="351.2" width="103.1" height="91.6" fill="#262626"/>
<ellipse cx="439.45" cy="397.2" rx="66" ry="56" fill="url(#plate)"/>
<ellipse cx="439.45" cy="397.2" rx="56.8" ry="47.9" fill="none" stroke="#9a9a9a" stroke-width="3.2"/>
<ellipse cx="439.45" cy="397.2" rx="56.8" ry="47.9" fill="none" stroke="#3a3a3a" stroke-width="1.8" stroke-dasharray="0.8 0.7"/>
<ellipse cx="439.45" cy="397.2" rx="54.9" ry="46.0" fill="#d0d0d0"/>
<ellipse cx="439.45" cy="397.2" rx="51" ry="43.6" fill="none" stroke="#e4e4e4" stroke-width="1.5"/>
<ellipse cx="439.45" cy="397.2" rx="48.2" ry="41.8" fill="#0e0e0e" filter="url(#bl05)"/>
<ellipse cx="439.45" cy="397.2" rx="44.6" ry="38.0" fill="url(#inner2)" filter="url(#bl1)"/>
<ellipse cx="440" cy="366" rx="30" ry="7" fill="#d8d8d8" filter="url(#bl2)"/>
<path d="M439.7,377.7 Q441.0,371.1 445.6,369.8 Q450.2,368.5 454.1,369.8 Q458.1,371.1 459.4,376.4 Q460.7,381.6 461.0,389.5 Q461.4,397.4 460.4,402.0 Q459.4,406.6 456.1,408.6 Q452.8,410.6 448.9,410.2 Q444.9,409.9 441.6,407.6 Q438.4,405.3 437.7,401.4 Q437.0,397.4 437.7,390.8 Q438.4,384.3 439.7,377.7Z" fill="none" stroke="#8a8a8a" stroke-width="5" filter="url(#bl05)"/>
<path d="M434.1,413.8 Q434.4,411.9 438.4,411.2 Q442.3,410.6 446.9,411.9 Q451.5,413.2 454.1,415.2 Q456.8,417.1 455.4,419.1 Q454.1,421.1 449.5,421.7 Q444.9,422.4 441.0,421.1 Q437.0,419.8 435.4,417.8 Q433.8,415.8 434.1,413.8Z" fill="#dcdcdc" stroke="#8a8a8a" stroke-width="2" filter="url(#bl05)"/>
<path d="M439.7,377.7 Q441.0,371.1 445.6,369.8 Q450.2,368.5 454.1,369.8 Q458.1,371.1 459.4,376.4 Q460.7,381.6 461.0,389.5 Q461.4,397.4 460.4,402.0 Q459.4,406.6 456.1,408.6 Q452.8,410.6 448.9,410.2 Q444.9,409.9 441.6,407.6 Q438.4,405.3 437.7,401.4 Q437.0,397.4 437.7,390.8 Q438.4,384.3 439.7,377.7Z" fill="#e6e6e6" filter="url(#bl05)"/>
<path d="M402.9,399.4 Q404.2,394.8 409.5,393.5 Q414.7,392.2 418.0,394.8 Q421.3,397.4 423.2,402.7 Q425.2,407.9 425.9,413.2 Q426.5,418.4 425.2,423.0 Q423.9,427.6 419.3,429.6 Q414.7,431.6 410.1,430.3 Q405.5,428.9 403.5,423.0 Q401.6,417.1 401.6,410.6 Q401.6,404.0 402.9,399.4Z" fill="#e6e6e6" filter="url(#bl1)"/>
<ellipse cx="450" cy="388" rx="6" ry="12" fill="#f0f0f0" filter="url(#bl2)"/>
<ellipse cx="413" cy="414" rx="6" ry="11" fill="#f2f2f2" filter="url(#bl2)"/>
<path d="M423,398 C427,405 428,414 428,422" stroke="#3a3a3a" stroke-width="3" fill="none" filter="url(#bl1)"/>
<path d="M402,396 C396,400 396,408 398,414" stroke="#5a5a5a" stroke-width="2" fill="none" filter="url(#bl1)"/>
<g filter="url(#bl05)"><circle cx="419.5" cy="389.9" r="1.57" fill="rgb(48,48,48)"/><circle cx="416.3" cy="388.7" r="1.23" fill="rgb(47,47,47)"/><circle cx="415.7" cy="380.6" r="1.11" fill="rgb(77,77,77)"/><circle cx="418.6" cy="390.5" r="1.44" fill="rgb(70,70,70)"/><circle cx="422.5" cy="391.5" r="1.12" fill="rgb(65,65,65)"/><circle cx="415.3" cy="390.0" r="1.50" fill="rgb(39,39,39)"/><circle cx="422.8" cy="386.6" r="1.44" fill="rgb(73,73,73)"/><circle cx="416.6" cy="386.7" r="1.51" fill="rgb(70,70,70)"/><circle cx="415.3" cy="385.2" r="1.21" fill="rgb(84,84,84)"/><circle cx="419.1" cy="392.2" r="0.91" fill="rgb(81,81,81)"/><circle cx="418.5" cy="386.3" r="1.07" fill="rgb(57,57,57)"/><circle cx="418.1" cy="380.9" r="1.40" fill="rgb(52,52,52)"/><circle cx="432.3" cy="377.1" r="1.26" fill="rgb(30,30,30)"/><circle cx="440.9" cy="370.9" r="1.25" fill="rgb(45,45,45)"/><circle cx="437.3" cy="374.0" r="1.01" fill="rgb(80,80,80)"/><circle cx="434.7" cy="384.2" r="1.46" fill="rgb(64,64,64)"/><circle cx="437.6" cy="368.0" r="1.33" fill="rgb(88,88,88)"/><circle cx="435.5" cy="369.1" r="0.88" fill="rgb(66,66,66)"/><circle cx="437.9" cy="371.7" r="0.81" fill="rgb(78,78,78)"/><circle cx="442.2" cy="365.1" r="1.40" fill="rgb(60,60,60)"/><circle cx="438.4" cy="383.7" r="1.05" fill="rgb(34,34,34)"/><circle cx="439.7" cy="383.3" r="1.19" fill="rgb(69,69,69)"/><circle cx="437.7" cy="382.6" r="1.12" fill="rgb(76,76,76)"/><circle cx="441.8" cy="390.2" r="1.45" fill="rgb(41,41,41)"/><circle cx="433.9" cy="371.2" r="0.92" fill="rgb(37,37,37)"/><circle cx="441.3" cy="365.9" r="1.58" fill="rgb(49,49,49)"/><circle cx="440.3" cy="388.7" r="1.45" fill="rgb(33,33,33)"/><circle cx="433.5" cy="375.6" r="1.35" fill="rgb(49,49,49)"/><circle cx="440.6" cy="381.8" r="1.12" fill="rgb(34,34,34)"/><circle cx="437.5" cy="378.8" r="1.58" fill="rgb(44,44,44)"/><circle cx="437.4" cy="371.5" r="0.93" fill="rgb(48,48,48)"/><circle cx="432.3" cy="387.9" r="1.27" fill="rgb(82,82,82)"/><circle cx="436.9" cy="379.1" r="1.21" fill="rgb(58,58,58)"/><circle cx="432.6" cy="376.6" r="0.97" fill="rgb(60,60,60)"/><circle cx="464.8" cy="377.7" r="1.09" fill="rgb(31,31,31)"/><circle cx="475.8" cy="396.6" r="1.22" fill="rgb(33,33,33)"/><circle cx="474.7" cy="384.5" r="1.26" fill="rgb(89,89,89)"/><circle cx="475.9" cy="379.7" r="1.05" fill="rgb(41,41,41)"/><circle cx="476.5" cy="405.2" r="1.04" fill="rgb(52,52,52)"/><circle cx="467.1" cy="373.0" r="0.88" fill="rgb(30,30,30)"/><circle cx="462.7" cy="396.5" r="1.36" fill="rgb(78,78,78)"/><circle cx="462.5" cy="391.0" r="1.48" fill="rgb(38,38,38)"/><circle cx="468.6" cy="391.6" r="0.81" fill="rgb(46,46,46)"/><circle cx="462.5" cy="368.9" r="1.52" fill="rgb(51,51,51)"/><circle cx="472.3" cy="378.8" r="1.01" fill="rgb(63,63,63)"/><circle cx="470.8" cy="369.2" r="0.89" fill="rgb(75,75,75)"/><circle cx="474.9" cy="398.3" r="1.59" fill="rgb(36,36,36)"/><circle cx="472.7" cy="408.4" r="1.59" fill="rgb(59,59,59)"/><circle cx="468.6" cy="405.4" r="0.98" fill="rgb(71,71,71)"/><circle cx="459.9" cy="387.9" r="0.90" fill="rgb(33,33,33)"/><circle cx="472.0" cy="371.4" r="1.58" fill="rgb(46,46,46)"/><circle cx="464.0" cy="385.4" r="1.23" fill="rgb(82,82,82)"/><circle cx="476.5" cy="388.7" r="1.53" fill="rgb(63,63,63)"/><circle cx="472.2" cy="385.0" r="1.41" fill="rgb(83,83,83)"/><circle cx="473.0" cy="398.9" r="1.49" fill="rgb(50,50,50)"/><circle cx="464.9" cy="384.7" r="1.23" fill="rgb(45,45,45)"/><circle cx="458.7" cy="429.7" r="1.15" fill="rgb(46,46,46)"/><circle cx="441.0" cy="428.2" r="1.05" fill="rgb(42,42,42)"/><circle cx="447.1" cy="422.4" r="1.20" fill="rgb(80,80,80)"/><circle cx="449.4" cy="429.3" r="0.87" fill="rgb(58,58,58)"/><circle cx="448.3" cy="425.1" r="1.22" fill="rgb(78,78,78)"/><circle cx="458.1" cy="428.0" r="0.91" fill="rgb(67,67,67)"/><circle cx="448.5" cy="424.4" r="1.44" fill="rgb(86,86,86)"/><circle cx="441.8" cy="430.9" r="0.85" fill="rgb(45,45,45)"/><circle cx="438.8" cy="428.5" r="1.42" fill="rgb(57,57,57)"/><circle cx="448.8" cy="426.7" r="1.15" fill="rgb(62,62,62)"/><circle cx="455.4" cy="424.1" r="0.99" fill="rgb(46,46,46)"/><circle cx="447.6" cy="424.9" r="1.31" fill="rgb(51,51,51)"/><circle cx="447.4" cy="425.6" r="1.51" fill="rgb(54,54,54)"/><circle cx="440.8" cy="421.7" r="1.04" fill="rgb(48,48,48)"/><circle cx="443.3" cy="429.1" r="1.06" fill="rgb(39,39,39)"/><circle cx="454.0" cy="424.3" r="1.49" fill="rgb(88,88,88)"/><circle cx="449.5" cy="427.7" r="1.15" fill="rgb(90,90,90)"/><circle cx="455.9" cy="430.4" r="1.32" fill="rgb(79,79,79)"/><circle cx="409.0" cy="377.6" r="0.97" fill="rgb(64,64,64)"/><circle cx="408.7" cy="383.4" r="1.15" fill="rgb(47,47,47)"/><circle cx="409.4" cy="378.1" r="1.58" fill="rgb(71,71,71)"/><circle cx="402.0" cy="378.2" r="0.83" fill="rgb(66,66,66)"/><circle cx="405.8" cy="378.5" r="1.32" fill="rgb(55,55,55)"/><circle cx="427.4" cy="401.1" r="1.04" fill="rgb(87,87,87)"/><circle cx="430.2" cy="399.9" r="1.13" fill="rgb(42,42,42)"/><circle cx="425.7" cy="402.4" r="1.50" fill="rgb(90,90,90)"/><circle cx="425.6" cy="407.2" r="1.47" fill="rgb(34,34,34)"/><circle cx="427.6" cy="400.4" r="1.38" fill="rgb(80,80,80)"/><circle cx="425.0" cy="405.0" r="1.39" fill="rgb(82,82,82)"/></g>
<circle cx="465.2" cy="400.2" r="0.86" fill="rgb(122,122,122)"/>
<circle cx="440.1" cy="401.4" r="0.66" fill="rgb(103,103,103)"/>
<circle cx="469.8" cy="419.5" r="0.40" fill="rgb(108,108,108)"/>
<circle cx="463.9" cy="374.8" r="0.71" fill="rgb(100,100,100)"/>
<circle cx="454.6" cy="401.3" r="0.79" fill="rgb(100,100,100)"/>
<circle cx="408.5" cy="403.5" r="0.50" fill="rgb(85,85,85)"/>
<circle cx="436.2" cy="364.1" r="0.86" fill="rgb(127,127,127)"/>
<circle cx="435.5" cy="407.3" r="0.70" fill="rgb(102,102,102)"/>
<circle cx="416.0" cy="382.5" r="0.67" fill="rgb(102,102,102)"/>
<circle cx="438.2" cy="431.7" r="0.66" fill="rgb(114,114,114)"/>
<circle cx="416.2" cy="395.1" r="0.46" fill="rgb(96,96,96)"/>
<circle cx="435.4" cy="367.4" r="0.61" fill="rgb(85,85,85)"/>
<circle cx="417.0" cy="384.4" r="0.85" fill="rgb(77,77,77)"/>
<circle cx="412.4" cy="415.0" r="0.58" fill="rgb(112,112,112)"/>
<circle cx="420.2" cy="372.2" r="0.51" fill="rgb(99,99,99)"/>
<circle cx="476.2" cy="391.5" r="0.48" fill="rgb(101,101,101)"/>
<circle cx="453.4" cy="378.6" r="0.62" fill="rgb(115,115,115)"/>
<circle cx="441.2" cy="387.1" r="0.58" fill="rgb(82,82,82)"/>
<circle cx="407.4" cy="389.1" r="0.68" fill="rgb(91,91,91)"/>
<circle cx="435.2" cy="363.3" r="0.66" fill="rgb(91,91,91)"/>
<circle cx="418.3" cy="426.9" r="0.53" fill="rgb(75,75,75)"/>
<circle cx="421.6" cy="371.6" r="0.82" fill="rgb(97,97,97)"/>
<circle cx="432.5" cy="401.7" r="0.69" fill="rgb(102,102,102)"/>
<circle cx="456.0" cy="368.6" r="0.80" fill="rgb(73,73,73)"/>
<circle cx="407.1" cy="381.3" r="0.83" fill="rgb(108,108,108)"/>
<circle cx="436.3" cy="387.1" r="0.61" fill="rgb(105,105,105)"/>
<circle cx="473.2" cy="408.0" r="0.66" fill="rgb(72,72,72)"/>
<circle cx="419.1" cy="370.1" r="0.53" fill="rgb(80,80,80)"/>
</g>
<g clip-path="url(#cTR)">
<rect x="495.2" y="255.2" width="102.8" height="91.1" fill="#cfcfcf"/>
<rect x="495.2" y="255.2" width="102.8" height="91.1" filter="url(#nz2)" opacity="0.08"/>
<rect x="495.2" y="255.2" width="102.8" height="91.1" filter="url(#nz)" opacity="0.09"/>
<path d="M588,256 C584,275 590,300 587,346 M594,256 C590,280 596,300 592,346 M575,258 C585,270 583,280 572,292" stroke="#b4b4b4" stroke-width="0.8" fill="none"/>
<path d="M507,288 C515,289 522,291 531,292" stroke="#707070" stroke-width="1.1" fill="none"/>
<g filter="url(#bl05)">
<circle cx="530.3" cy="327.4" r="2.5" fill="rgb(94,94,94)"/>
<circle cx="528.1" cy="328.3" r="1.8" fill="rgb(97,97,97)"/>
<circle cx="529.5" cy="325.8" r="1.8" fill="rgb(93,93,93)"/>
<circle cx="538.7" cy="328.4" r="2.4" fill="rgb(67,67,67)"/>
<circle cx="533.0" cy="318.5" r="2.1" fill="rgb(75,75,75)"/>
<circle cx="531.2" cy="314.1" r="1.7" fill="rgb(67,67,67)"/>
<circle cx="542.4" cy="331.1" r="1.6" fill="rgb(94,94,94)"/>
<circle cx="535.2" cy="334.6" r="1.8" fill="rgb(79,79,79)"/>
<circle cx="533.9" cy="315.5" r="2.3" fill="rgb(94,94,94)"/>
<circle cx="535.2" cy="315.8" r="2.2" fill="rgb(70,70,70)"/>
<circle cx="538.0" cy="315.6" r="1.8" fill="rgb(83,83,83)"/>
<circle cx="550.0" cy="326.2" r="1.7" fill="rgb(71,71,71)"/>
<circle cx="544.8" cy="316.1" r="2.6" fill="rgb(65,65,65)"/>
<circle cx="543.0" cy="338.5" r="1.7" fill="rgb(89,89,89)"/>
<circle cx="548.4" cy="322.8" r="1.7" fill="rgb(77,77,77)"/>
<circle cx="541.2" cy="316.1" r="1.7" fill="rgb(86,86,86)"/>
<circle cx="548.6" cy="324.9" r="2.5" fill="rgb(73,73,73)"/>
<circle cx="540.1" cy="328.9" r="1.7" fill="rgb(96,96,96)"/>
<circle cx="544.4" cy="334.4" r="2.0" fill="rgb(77,77,77)"/>
<circle cx="551.8" cy="322.7" r="2.0" fill="rgb(89,89,89)"/>
<circle cx="546.5" cy="330.7" r="1.8" fill="rgb(82,82,82)"/>
<circle cx="548.8" cy="312.5" r="2.2" fill="rgb(66,66,66)"/>
<circle cx="542.1" cy="333.4" r="2.5" fill="rgb(71,71,71)"/>
<circle cx="545.0" cy="325.6" r="2.0" fill="rgb(65,65,65)"/>
<circle cx="541.1" cy="315.2" r="1.9" fill="rgb(69,69,69)"/>
<circle cx="545.5" cy="327.2" r="2.2" fill="rgb(65,65,65)"/>
<circle cx="533.4" cy="318.4" r="2.1" fill="rgb(95,95,95)"/>
<circle cx="542.5" cy="319.0" r="2.0" fill="rgb(74,74,74)"/>
<circle cx="537.6" cy="330.9" r="2.2" fill="rgb(77,77,77)"/>
<circle cx="545.8" cy="334.3" r="2.2" fill="rgb(89,89,89)"/>
<circle cx="547.7" cy="315.9" r="2.0" fill="rgb(71,71,71)"/>
<circle cx="547.5" cy="331.0" r="1.9" fill="rgb(90,90,90)"/>
<circle cx="539.5" cy="338.1" r="2.2" fill="rgb(83,83,83)"/>
<circle cx="527.1" cy="322.1" r="2.6" fill="rgb(73,73,73)"/>
<circle cx="541.4" cy="335.5" r="2.5" fill="rgb(69,69,69)"/>
<circle cx="537.6" cy="338.6" r="1.8" fill="rgb(66,66,66)"/>
<circle cx="547.9" cy="328.2" r="1.8" fill="rgb(67,67,67)"/>
<circle cx="543.7" cy="332.4" r="2.2" fill="rgb(73,73,73)"/>
<circle cx="544.2" cy="327.2" r="2.1" fill="rgb(86,86,86)"/>
<circle cx="533.8" cy="313.3" r="2.2" fill="rgb(73,73,73)"/>
<circle cx="529.0" cy="316.0" r="2.1" fill="rgb(87,87,87)"/>
<circle cx="536.0" cy="309.5" r="1.6" fill="rgb(69,69,69)"/>
<circle cx="528.5" cy="325.5" r="1.9" fill="rgb(69,69,69)"/>
<circle cx="548.9" cy="329.2" r="2.3" fill="rgb(73,73,73)"/>
<circle cx="543.5" cy="309.7" r="2.0" fill="rgb(95,95,95)"/>
<circle cx="550.2" cy="315.6" r="2.0" fill="rgb(66,66,66)"/>
<circle cx="546.7" cy="315.1" r="2.2" fill="rgb(89,89,89)"/>
<circle cx="538.9" cy="325.2" r="1.7" fill="rgb(70,70,70)"/>
<circle cx="531.4" cy="312.1" r="2.5" fill="rgb(86,86,86)"/>
<circle cx="531.2" cy="332.6" r="2.2" fill="rgb(93,93,93)"/>
<circle cx="530.3" cy="326.7" r="2.1" fill="rgb(97,97,97)"/>
<circle cx="550.3" cy="326.2" r="2.1" fill="rgb(79,79,79)"/>
<circle cx="544.4" cy="322.6" r="2.4" fill="rgb(96,96,96)"/>
<circle cx="539.9" cy="325.6" r="1.9" fill="rgb(77,77,77)"/>
<circle cx="528.4" cy="322.4" r="1.9" fill="rgb(93,93,93)"/>
<circle cx="533.4" cy="324.1" r="2.0" fill="rgb(81,81,81)"/>
<circle cx="542.8" cy="333.6" r="2.4" fill="rgb(77,77,77)"/>
<circle cx="546.1" cy="317.4" r="2.2" fill="rgb(85,85,85)"/>
<circle cx="541.2" cy="329.5" r="2.0" fill="rgb(67,67,67)"/>
<circle cx="536.8" cy="309.3" r="1.9" fill="rgb(75,75,75)"/>
<circle cx="547.0" cy="330.9" r="2.5" fill="rgb(91,91,91)"/>
<circle cx="532.8" cy="331.5" r="2.3" fill="rgb(93,93,93)"/>
<circle cx="534.7" cy="336.8" r="1.9" fill="rgb(67,67,67)"/>
<circle cx="536.9" cy="316.6" r="2.0" fill="rgb(66,66,66)"/>
<circle cx="534.6" cy="316.4" r="1.8" fill="rgb(82,82,82)"/>
<circle cx="540.4" cy="329.8" r="1.6" fill="rgb(72,72,72)"/>
<circle cx="529.9" cy="328.1" r="2.3" fill="rgb(88,88,88)"/>
<circle cx="550.8" cy="320.7" r="1.8" fill="rgb(95,95,95)"/>
<circle cx="539.6" cy="337.1" r="2.4" fill="rgb(99,99,99)"/>
<circle cx="538.7" cy="317.6" r="1.9" fill="rgb(87,87,87)"/>
<circle cx="527.3" cy="320.3" r="2.1" fill="rgb(75,75,75)"/>
<circle cx="530.6" cy="332.6" r="2.5" fill="rgb(70,70,70)"/>
<circle cx="529.2" cy="331.8" r="2.0" fill="rgb(93,93,93)"/>
<circle cx="529.8" cy="327.5" r="2.5" fill="rgb(89,89,89)"/>
<circle cx="529.6" cy="320.1" r="2.1" fill="rgb(86,86,86)"/>
<circle cx="529.4" cy="326.8" r="1.8" fill="rgb(72,72,72)"/>
<circle cx="542.9" cy="338.3" r="2.6" fill="rgb(84,84,84)"/>
<circle cx="528.3" cy="320.8" r="1.9" fill="rgb(66,66,66)"/>
<circle cx="537.7" cy="327.6" r="2.0" fill="rgb(100,100,100)"/>
<circle cx="533.8" cy="327.9" r="2.5" fill="rgb(78,78,78)"/>
<circle cx="541.2" cy="320.3" r="2.4" fill="rgb(76,76,76)"/>
<circle cx="529.1" cy="321.3" r="2.5" fill="rgb(95,95,95)"/>
<circle cx="545.8" cy="333.0" r="2.3" fill="rgb(93,93,93)"/>
<circle cx="548.9" cy="320.4" r="2.5" fill="rgb(70,70,70)"/>
<circle cx="540.4" cy="313.7" r="2.2" fill="rgb(100,100,100)"/>
<circle cx="533.7" cy="315.4" r="2.4" fill="rgb(100,100,100)"/>
<circle cx="539.5" cy="336.7" r="2.6" fill="rgb(78,78,78)"/>
<circle cx="538.3" cy="329.5" r="2.1" fill="rgb(82,82,82)"/>
<circle cx="534.6" cy="320.9" r="2.1" fill="rgb(97,97,97)"/>
<circle cx="548.3" cy="324.3" r="2.1" fill="rgb(67,67,67)"/>
<circle cx="531.5" cy="323.0" r="2.4" fill="rgb(72,72,72)"/>
<circle cx="528.8" cy="324.7" r="1.7" fill="rgb(99,99,99)"/>
<circle cx="527.5" cy="327.8" r="2.4" fill="rgb(90,90,90)"/>
<circle cx="538.9" cy="334.6" r="1.7" fill="rgb(92,92,92)"/>
<circle cx="550.6" cy="315.3" r="2.5" fill="rgb(98,98,98)"/>
<circle cx="537.6" cy="330.2" r="2.2" fill="rgb(81,81,81)"/>
<circle cx="548.2" cy="333.9" r="1.6" fill="rgb(77,77,77)"/>
<circle cx="540.8" cy="325.4" r="1.9" fill="rgb(87,87,87)"/>
<circle cx="540.3" cy="334.9" r="2.1" fill="rgb(72,72,72)"/>
<circle cx="546.4" cy="314.2" r="2.3" fill="rgb(98,98,98)"/>
<circle cx="541.5" cy="322.4" r="2.2" fill="rgb(98,98,98)"/>
<circle cx="532.6" cy="316.4" r="2.5" fill="rgb(99,99,99)"/>
<circle cx="533.7" cy="315.4" r="2.5" fill="rgb(73,73,73)"/>
<circle cx="541.3" cy="337.3" r="2.4" fill="rgb(76,76,76)"/>
<circle cx="537.0" cy="332.0" r="2.5" fill="rgb(78,78,78)"/>
<circle cx="541.1" cy="317.3" r="1.7" fill="rgb(80,80,80)"/>
<circle cx="542.7" cy="327.4" r="2.0" fill="rgb(92,92,92)"/>
<circle cx="544.3" cy="315.2" r="2.4" fill="rgb(73,73,73)"/>
<circle cx="543.3" cy="335.7" r="2.4" fill="rgb(71,71,71)"/>
<circle cx="543.4" cy="336.2" r="2.5" fill="rgb(88,88,88)"/>
<circle cx="547.2" cy="331.3" r="2.4" fill="rgb(97,97,97)"/>
<circle cx="552.3" cy="323.9" r="2.4" fill="rgb(95,95,95)"/>
<circle cx="542.1" cy="325.9" r="2.2" fill="rgb(97,97,97)"/>
<circle cx="547.7" cy="318.0" r="1.8" fill="rgb(72,72,72)"/>
<circle cx="543.5" cy="337.6" r="2.6" fill="rgb(71,71,71)"/>
<circle cx="535.7" cy="321.3" r="2.3" fill="rgb(69,69,69)"/>
<circle cx="540.7" cy="315.2" r="2.1" fill="rgb(97,97,97)"/>
<circle cx="536.2" cy="329.6" r="2.0" fill="rgb(67,67,67)"/>
<circle cx="543.2" cy="318.5" r="2.1" fill="rgb(88,88,88)"/>
<circle cx="535.1" cy="327.8" r="1.8" fill="rgb(97,97,97)"/>
<circle cx="542.0" cy="315.5" r="1.7" fill="rgb(90,90,90)"/>
<circle cx="534.7" cy="321.1" r="2.2" fill="rgb(86,86,86)"/>
<circle cx="542.3" cy="316.6" r="2.5" fill="rgb(75,75,75)"/>
<circle cx="543.4" cy="314.9" r="2.5" fill="rgb(99,99,99)"/>
<circle cx="536.0" cy="311.2" r="2.4" fill="rgb(90,90,90)"/>
<circle cx="541.6" cy="330.4" r="2.4" fill="rgb(84,84,84)"/>
<circle cx="538.6" cy="324.3" r="2.0" fill="rgb(68,68,68)"/>
<circle cx="541.5" cy="339.0" r="2.3" fill="rgb(86,86,86)"/>
<circle cx="541.8" cy="333.7" r="1.8" fill="rgb(69,69,69)"/>
<circle cx="529.6" cy="333.9" r="2.2" fill="rgb(72,72,72)"/>
<circle cx="541.0" cy="308.7" r="1.6" fill="rgb(71,71,71)"/>
<circle cx="539.5" cy="316.2" r="2.0" fill="rgb(68,68,68)"/>
<circle cx="540.8" cy="311.6" r="1.6" fill="rgb(81,81,81)"/>
<circle cx="539.9" cy="338.8" r="2.2" fill="rgb(97,97,97)"/>
<circle cx="531.6" cy="329.7" r="2.4" fill="rgb(71,71,71)"/>
<circle cx="532.1" cy="313.4" r="1.7" fill="rgb(67,67,67)"/>
<circle cx="530.1" cy="333.8" r="2.0" fill="rgb(75,75,75)"/>
<circle cx="546.1" cy="315.0" r="2.2" fill="rgb(92,92,92)"/>
<circle cx="548.2" cy="320.6" r="2.1" fill="rgb(84,84,84)"/>
<circle cx="535.2" cy="330.2" r="2.3" fill="rgb(100,100,100)"/>
<circle cx="549.9" cy="318.6" r="2.3" fill="rgb(66,66,66)"/>
<circle cx="546.7" cy="324.7" r="1.6" fill="rgb(75,75,75)"/>
<circle cx="530.6" cy="331.0" r="1.7" fill="rgb(85,85,85)"/>
<circle cx="540.0" cy="320.5" r="2.6" fill="rgb(85,85,85)"/>
<circle cx="551.5" cy="330.6" r="2.0" fill="rgb(95,95,95)"/>
<circle cx="539.9" cy="337.5" r="1.6" fill="rgb(71,71,71)"/>
<circle cx="550.6" cy="318.9" r="2.1" fill="rgb(80,80,80)"/>
<circle cx="536.4" cy="320.8" r="2.2" fill="rgb(94,94,94)"/>
<circle cx="549.2" cy="333.7" r="2.0" fill="rgb(74,74,74)"/>
<circle cx="546.4" cy="331.3" r="2.3" fill="rgb(94,94,94)"/>
<circle cx="531.3" cy="316.6" r="2.3" fill="rgb(88,88,88)"/>
<circle cx="541.7" cy="312.9" r="2.6" fill="rgb(83,83,83)"/>
<circle cx="539.4" cy="316.5" r="1.7" fill="rgb(84,84,84)"/>
<circle cx="542.3" cy="312.0" r="2.0" fill="rgb(82,82,82)"/>
<circle cx="531.1" cy="315.6" r="2.3" fill="rgb(77,77,77)"/>
<circle cx="532.1" cy="314.0" r="1.8" fill="rgb(80,80,80)"/>
<circle cx="529.1" cy="323.8" r="1.8" fill="rgb(67,67,67)"/>
<circle cx="539.1" cy="322.9" r="1.9" fill="rgb(66,66,66)"/>
<circle cx="536.9" cy="320.5" r="2.1" fill="rgb(69,69,69)"/>
<circle cx="540.5" cy="309.2" r="1.8" fill="rgb(80,80,80)"/>
<ellipse cx="540" cy="324" rx="9.4" ry="10.8" fill="#454545" opacity="0.75" filter="url(#bl2)"/>
<circle cx="534.6" cy="317.3" r="0.6" fill="rgb(45,45,45)" fill-opacity="0.7"/>
<circle cx="535.2" cy="333.0" r="0.5" fill="rgb(35,35,35)" fill-opacity="0.7"/>
<circle cx="542.8" cy="314.5" r="0.8" fill="rgb(45,45,45)" fill-opacity="0.7"/>
<circle cx="529.4" cy="328.5" r="0.6" fill="rgb(45,45,45)" fill-opacity="0.7"/>
<circle cx="532.8" cy="332.9" r="0.9" fill="rgb(120,120,120)" fill-opacity="0.7"/>
<circle cx="537.1" cy="336.7" r="0.8" fill="rgb(45,45,45)" fill-opacity="0.7"/>
<circle cx="532.9" cy="328.0" r="0.4" fill="rgb(120,120,120)" fill-opacity="0.7"/>
<circle cx="543.3" cy="326.1" r="0.7" fill="rgb(140,140,140)" fill-opacity="0.7"/>
<circle cx="543.6" cy="314.6" r="0.8" fill="rgb(35,35,35)" fill-opacity="0.7"/>
<circle cx="545.4" cy="327.2" r="0.7" fill="rgb(35,35,35)" fill-opacity="0.7"/>
<circle cx="536.9" cy="314.0" r="0.8" fill="rgb(120,120,120)" fill-opacity="0.7"/>
<circle cx="539.0" cy="329.6" r="0.6" fill="rgb(120,120,120)" fill-opacity="0.7"/>
<circle cx="537.0" cy="327.8" r="0.8" fill="rgb(120,120,120)" fill-opacity="0.7"/>
<circle cx="529.1" cy="329.1" r="0.6" fill="rgb(120,120,120)" fill-opacity="0.7"/>
<circle cx="542.3" cy="338.5" r="0.8" fill="rgb(45,45,45)" fill-opacity="0.7"/>
<circle cx="550.3" cy="330.9" r="0.4" fill="rgb(140,140,140)" fill-opacity="0.7"/>
<circle cx="529.9" cy="317.2" r="0.8" fill="rgb(120,120,120)" fill-opacity="0.7"/>
<circle cx="542.8" cy="313.4" r="0.8" fill="rgb(45,45,45)" fill-opacity="0.7"/>
<circle cx="545.1" cy="335.7" r="0.8" fill="rgb(120,120,120)" fill-opacity="0.7"/>
<circle cx="542.3" cy="317.5" r="0.4" fill="rgb(45,45,45)" fill-opacity="0.7"/>
<circle cx="528.3" cy="317.9" r="0.7" fill="rgb(140,140,140)" fill-opacity="0.7"/>
<circle cx="548.9" cy="328.4" r="0.8" fill="rgb(35,35,35)" fill-opacity="0.7"/>
<circle cx="536.5" cy="330.8" r="0.5" fill="rgb(120,120,120)" fill-opacity="0.7"/>
<circle cx="549.0" cy="330.1" r="0.5" fill="rgb(140,140,140)" fill-opacity="0.7"/>
<circle cx="540.2" cy="331.1" r="0.8" fill="rgb(120,120,120)" fill-opacity="0.7"/>
<circle cx="540.8" cy="314.6" r="0.6" fill="rgb(120,120,120)" fill-opacity="0.7"/>
<circle cx="535.7" cy="314.7" r="0.7" fill="rgb(35,35,35)" fill-opacity="0.7"/>
<circle cx="536.7" cy="310.1" r="0.6" fill="rgb(120,120,120)" fill-opacity="0.7"/>
<circle cx="547.1" cy="313.3" r="0.8" fill="rgb(140,140,140)" fill-opacity="0.7"/>
<circle cx="550.1" cy="320.8" r="0.7" fill="rgb(35,35,35)" fill-opacity="0.7"/>
<circle cx="542.7" cy="314.8" r="0.6" fill="rgb(45,45,45)" fill-opacity="0.7"/>
<circle cx="540.1" cy="330.1" r="0.7" fill="rgb(45,45,45)" fill-opacity="0.7"/>
<circle cx="536.5" cy="332.5" r="0.7" fill="rgb(120,120,120)" fill-opacity="0.7"/>
<circle cx="543.1" cy="323.3" r="0.6" fill="rgb(35,35,35)" fill-opacity="0.7"/>
<circle cx="538.3" cy="329.6" r="0.9" fill="rgb(35,35,35)" fill-opacity="0.7"/>
<circle cx="540.0" cy="322.0" r="0.6" fill="rgb(35,35,35)" fill-opacity="0.7"/>
<circle cx="537.8" cy="330.2" r="0.6" fill="rgb(45,45,45)" fill-opacity="0.7"/>
<circle cx="532.7" cy="317.9" r="0.7" fill="rgb(140,140,140)" fill-opacity="0.7"/>
<circle cx="542.8" cy="331.3" r="0.5" fill="rgb(120,120,120)" fill-opacity="0.7"/>
<circle cx="531.1" cy="313.6" r="0.7" fill="rgb(120,120,120)" fill-opacity="0.7"/>
<circle cx="531.7" cy="324.9" r="0.9" fill="rgb(35,35,35)" fill-opacity="0.7"/>
<circle cx="533.9" cy="324.8" r="0.4" fill="rgb(45,45,45)" fill-opacity="0.7"/>
<circle cx="542.6" cy="315.2" r="0.7" fill="rgb(120,120,120)" fill-opacity="0.7"/>
<circle cx="540.7" cy="320.5" r="0.9" fill="rgb(35,35,35)" fill-opacity="0.7"/>
<circle cx="548.8" cy="313.8" r="0.6" fill="rgb(45,45,45)" fill-opacity="0.7"/>
<circle cx="537.7" cy="312.6" r="0.5" fill="rgb(45,45,45)" fill-opacity="0.7"/>
<circle cx="540.7" cy="318.3" r="0.9" fill="rgb(45,45,45)" fill-opacity="0.7"/>
<circle cx="531.5" cy="312.6" r="0.5" fill="rgb(35,35,35)" fill-opacity="0.7"/>
<circle cx="546.7" cy="334.7" r="0.4" fill="rgb(45,45,45)" fill-opacity="0.7"/>
<circle cx="541.6" cy="320.1" r="0.5" fill="rgb(35,35,35)" fill-opacity="0.7"/>
<circle cx="548.4" cy="316.0" r="0.4" fill="rgb(120,120,120)" fill-opacity="0.7"/>
<circle cx="545.6" cy="324.8" r="0.5" fill="rgb(35,35,35)" fill-opacity="0.7"/>
<circle cx="541.7" cy="314.2" r="0.4" fill="rgb(140,140,140)" fill-opacity="0.7"/>
<circle cx="534.9" cy="323.0" r="0.8" fill="rgb(120,120,120)" fill-opacity="0.7"/>
<circle cx="536.6" cy="332.8" r="0.7" fill="rgb(140,140,140)" fill-opacity="0.7"/>
<circle cx="538.3" cy="320.6" r="0.4" fill="rgb(45,45,45)" fill-opacity="0.7"/>
<circle cx="546.5" cy="329.8" r="0.6" fill="rgb(35,35,35)" fill-opacity="0.7"/>
<circle cx="539.2" cy="322.6" r="0.6" fill="rgb(140,140,140)" fill-opacity="0.7"/>
<circle cx="540.8" cy="335.3" r="0.6" fill="rgb(35,35,35)" fill-opacity="0.7"/>
<circle cx="547.4" cy="313.1" r="0.8" fill="rgb(45,45,45)" fill-opacity="0.7"/>
<circle cx="538.0" cy="332.9" r="0.7" fill="rgb(120,120,120)" fill-opacity="0.7"/>
<circle cx="550.9" cy="320.3" r="0.7" fill="rgb(35,35,35)" fill-opacity="0.7"/>
<circle cx="539.8" cy="330.7" r="0.8" fill="rgb(120,120,120)" fill-opacity="0.7"/>
<circle cx="537.5" cy="331.3" r="0.6" fill="rgb(120,120,120)" fill-opacity="0.7"/>
<circle cx="532.3" cy="327.0" r="0.5" fill="rgb(35,35,35)" fill-opacity="0.7"/>
<circle cx="547.0" cy="332.8" r="0.5" fill="rgb(45,45,45)" fill-opacity="0.7"/>
<circle cx="530.2" cy="331.9" r="0.7" fill="rgb(35,35,35)" fill-opacity="0.7"/>
<circle cx="541.9" cy="325.6" r="0.9" fill="rgb(140,140,140)" fill-opacity="0.7"/>
<circle cx="537.1" cy="326.2" r="0.9" fill="rgb(140,140,140)" fill-opacity="0.7"/>
<circle cx="544.4" cy="321.5" r="0.5" fill="rgb(45,45,45)" fill-opacity="0.7"/>
<circle cx="543.5" cy="315.6" r="0.6" fill="rgb(140,140,140)" fill-opacity="0.7"/>
<circle cx="532.0" cy="315.0" r="0.7" fill="rgb(120,120,120)" fill-opacity="0.7"/>
<circle cx="551.6" cy="322.5" r="0.7" fill="rgb(35,35,35)" fill-opacity="0.7"/>
<circle cx="539.6" cy="330.5" r="0.6" fill="rgb(140,140,140)" fill-opacity="0.7"/>
<circle cx="546.3" cy="329.7" r="0.7" fill="rgb(120,120,120)" fill-opacity="0.7"/>
<circle cx="544.7" cy="313.5" r="0.5" fill="rgb(120,120,120)" fill-opacity="0.7"/>
<circle cx="532.6" cy="321.3" r="0.7" fill="rgb(45,45,45)" fill-opacity="0.7"/>
<circle cx="534.8" cy="321.0" r="0.9" fill="rgb(45,45,45)" fill-opacity="0.7"/>
<circle cx="538.0" cy="323.0" r="0.7" fill="rgb(35,35,35)" fill-opacity="0.7"/>
<circle cx="545.9" cy="331.9" r="0.6" fill="rgb(120,120,120)" fill-opacity="0.7"/>
<circle cx="534.0" cy="336.7" r="0.6" fill="rgb(140,140,140)" fill-opacity="0.7"/>
<circle cx="546.5" cy="317.2" r="0.8" fill="rgb(45,45,45)" fill-opacity="0.7"/>
<circle cx="548.0" cy="317.7" r="0.7" fill="rgb(120,120,120)" fill-opacity="0.7"/>
<circle cx="545.5" cy="335.3" r="0.8" fill="rgb(120,120,120)" fill-opacity="0.7"/>
<circle cx="536.3" cy="320.9" r="0.8" fill="rgb(120,120,120)" fill-opacity="0.7"/>
<circle cx="536.9" cy="315.7" r="0.8" fill="rgb(120,120,120)" fill-opacity="0.7"/>
<circle cx="542.7" cy="318.3" r="0.7" fill="rgb(35,35,35)" fill-opacity="0.7"/>
<circle cx="532.0" cy="326.7" r="0.8" fill="rgb(45,45,45)" fill-opacity="0.7"/>
<circle cx="536.2" cy="335.5" r="0.8" fill="rgb(140,140,140)" fill-opacity="0.7"/>
<circle cx="532.1" cy="316.0" r="0.8" fill="rgb(45,45,45)" fill-opacity="0.7"/>
<circle cx="542.8" cy="333.8" r="0.5" fill="rgb(140,140,140)" fill-opacity="0.7"/>
<circle cx="546.1" cy="330.5" r="0.6" fill="rgb(45,45,45)" fill-opacity="0.7"/>
<circle cx="539.2" cy="335.3" r="0.6" fill="rgb(35,35,35)" fill-opacity="0.7"/>
<circle cx="537.9" cy="310.9" r="0.6" fill="rgb(140,140,140)" fill-opacity="0.7"/>
<circle cx="532.7" cy="317.9" r="0.6" fill="rgb(140,140,140)" fill-opacity="0.7"/>
<circle cx="540.1" cy="313.5" r="0.9" fill="rgb(140,140,140)" fill-opacity="0.7"/>
<circle cx="542.0" cy="319.4" r="0.5" fill="rgb(120,120,120)" fill-opacity="0.7"/>
<circle cx="531.5" cy="322.5" r="0.9" fill="rgb(120,120,120)" fill-opacity="0.7"/>
<circle cx="545.9" cy="319.5" r="0.7" fill="rgb(140,140,140)" fill-opacity="0.7"/>
<circle cx="538.9" cy="312.5" r="0.8" fill="rgb(120,120,120)" fill-opacity="0.7"/>
<circle cx="549.1" cy="314.5" r="0.5" fill="rgb(140,140,140)" fill-opacity="0.7"/>
<circle cx="540.6" cy="338.0" r="0.9" fill="rgb(140,140,140)" fill-opacity="0.7"/>
<circle cx="536.8" cy="313.7" r="0.5" fill="rgb(120,120,120)" fill-opacity="0.7"/>
<circle cx="533.0" cy="311.8" r="0.8" fill="rgb(120,120,120)" fill-opacity="0.7"/>
<circle cx="545.7" cy="316.7" r="0.8" fill="rgb(45,45,45)" fill-opacity="0.7"/>
<circle cx="535.0" cy="316.1" r="0.5" fill="rgb(35,35,35)" fill-opacity="0.7"/>
<circle cx="549.5" cy="331.8" r="0.5" fill="rgb(140,140,140)" fill-opacity="0.7"/>
<circle cx="546.5" cy="324.0" r="0.5" fill="rgb(120,120,120)" fill-opacity="0.7"/>
<circle cx="544.1" cy="332.8" r="0.6" fill="rgb(140,140,140)" fill-opacity="0.7"/>
<circle cx="546.9" cy="333.7" r="0.5" fill="rgb(120,120,120)" fill-opacity="0.7"/>
<circle cx="552.2" cy="326.8" r="0.6" fill="rgb(140,140,140)" fill-opacity="0.7"/>
<circle cx="547.2" cy="334.4" r="0.8" fill="rgb(45,45,45)" fill-opacity="0.7"/>
<circle cx="543.6" cy="337.3" r="0.7" fill="rgb(35,35,35)" fill-opacity="0.7"/>
<circle cx="544.0" cy="337.0" r="0.6" fill="rgb(140,140,140)" fill-opacity="0.7"/>
<circle cx="550.4" cy="325.2" r="0.7" fill="rgb(45,45,45)" fill-opacity="0.7"/>
<circle cx="533.8" cy="322.5" r="0.9" fill="rgb(35,35,35)" fill-opacity="0.7"/>
<circle cx="535.7" cy="317.3" r="0.8" fill="rgb(120,120,120)" fill-opacity="0.7"/>
<circle cx="547.5" cy="314.7" r="0.5" fill="rgb(140,140,140)" fill-opacity="0.7"/>
<circle cx="535.4" cy="327.1" r="0.8" fill="rgb(35,35,35)" fill-opacity="0.7"/>
<circle cx="538.6" cy="317.5" r="0.5" fill="rgb(45,45,45)" fill-opacity="0.7"/>
<circle cx="532.9" cy="323.9" r="0.5" fill="rgb(35,35,35)" fill-opacity="0.7"/>
<circle cx="534.7" cy="320.1" r="0.6" fill="rgb(45,45,45)" fill-opacity="0.7"/>
<circle cx="536.6" cy="317.1" r="0.7" fill="rgb(35,35,35)" fill-opacity="0.7"/>
<circle cx="536.5" cy="325.0" r="0.9" fill="rgb(35,35,35)" fill-opacity="0.7"/>
<circle cx="537.3" cy="323.4" r="0.7" fill="rgb(120,120,120)" fill-opacity="0.7"/>
<circle cx="531.7" cy="321.7" r="0.7" fill="rgb(45,45,45)" fill-opacity="0.7"/>
<circle cx="537.5" cy="336.8" r="0.5" fill="rgb(120,120,120)" fill-opacity="0.7"/>
<circle cx="539.8" cy="321.5" r="0.8" fill="rgb(45,45,45)" fill-opacity="0.7"/>
<circle cx="542.4" cy="323.8" r="0.6" fill="rgb(140,140,140)" fill-opacity="0.7"/>
<circle cx="552.4" cy="324.2" r="0.4" fill="rgb(35,35,35)" fill-opacity="0.7"/>
<circle cx="530.1" cy="319.8" r="0.6" fill="rgb(140,140,140)" fill-opacity="0.7"/>
<circle cx="541.9" cy="313.4" r="0.7" fill="rgb(45,45,45)" fill-opacity="0.7"/>
<circle cx="530.4" cy="316.7" r="0.5" fill="rgb(140,140,140)" fill-opacity="0.7"/>
<circle cx="540.8" cy="333.9" r="0.8" fill="rgb(45,45,45)" fill-opacity="0.7"/>
<circle cx="539.4" cy="335.1" r="0.8" fill="rgb(140,140,140)" fill-opacity="0.7"/>
<circle cx="539.6" cy="330.7" r="0.9" fill="rgb(35,35,35)" fill-opacity="0.7"/>
<circle cx="529.0" cy="317.8" r="0.5" fill="rgb(45,45,45)" fill-opacity="0.7"/>
<circle cx="532.1" cy="316.6" r="0.8" fill="rgb(140,140,140)" fill-opacity="0.7"/>
<circle cx="538.0" cy="310.3" r="0.4" fill="rgb(35,35,35)" fill-opacity="0.7"/>
<circle cx="548.2" cy="317.8" r="0.7" fill="rgb(45,45,45)" fill-opacity="0.7"/>
<circle cx="537.8" cy="321.6" r="0.6" fill="rgb(120,120,120)" fill-opacity="0.7"/>
<circle cx="544.8" cy="312.3" r="0.8" fill="rgb(140,140,140)" fill-opacity="0.7"/>
<circle cx="550.1" cy="331.2" r="0.5" fill="rgb(120,120,120)" fill-opacity="0.7"/>
<circle cx="540.1" cy="334.6" r="0.7" fill="rgb(140,140,140)" fill-opacity="0.7"/>
<circle cx="547.8" cy="327.6" r="0.6" fill="rgb(45,45,45)" fill-opacity="0.7"/>
<circle cx="536.3" cy="309.9" r="0.5" fill="rgb(45,45,45)" fill-opacity="0.7"/>
<circle cx="545.4" cy="332.0" r="0.8" fill="rgb(35,35,35)" fill-opacity="0.7"/>
<circle cx="548.4" cy="324.2" r="0.7" fill="rgb(35,35,35)" fill-opacity="0.7"/>
<circle cx="534.4" cy="329.1" r="0.6" fill="rgb(35,35,35)" fill-opacity="0.7"/>
<circle cx="550.6" cy="321.8" r="0.8" fill="rgb(45,45,45)" fill-opacity="0.7"/>
<circle cx="538.7" cy="329.0" r="0.8" fill="rgb(140,140,140)" fill-opacity="0.7"/>
<circle cx="527.7" cy="327.5" r="0.6" fill="rgb(120,120,120)" fill-opacity="0.7"/>
<circle cx="551.9" cy="319.2" r="0.5" fill="rgb(45,45,45)" fill-opacity="0.7"/>
<circle cx="531.3" cy="330.9" r="0.4" fill="rgb(120,120,120)" fill-opacity="0.7"/>
<circle cx="528.6" cy="318.1" r="0.8" fill="rgb(45,45,45)" fill-opacity="0.7"/>
<circle cx="532.0" cy="326.2" r="0.8" fill="rgb(140,140,140)" fill-opacity="0.7"/>
<circle cx="537.9" cy="326.3" r="0.6" fill="rgb(45,45,45)" fill-opacity="0.7"/>
<circle cx="543.9" cy="334.2" r="0.5" fill="rgb(45,45,45)" fill-opacity="0.7"/>
<circle cx="531.8" cy="330.8" r="0.8" fill="rgb(140,140,140)" fill-opacity="0.7"/>
<circle cx="527.7" cy="328.9" r="0.7" fill="rgb(140,140,140)" fill-opacity="0.7"/>
<circle cx="542.3" cy="332.9" r="0.4" fill="rgb(120,120,120)" fill-opacity="0.7"/>
<circle cx="535.5" cy="330.0" r="0.4" fill="rgb(45,45,45)" fill-opacity="0.7"/>
<circle cx="539.5" cy="313.3" r="0.7" fill="rgb(45,45,45)" fill-opacity="0.7"/>
<circle cx="539.1" cy="333.0" r="0.5" fill="rgb(120,120,120)" fill-opacity="0.7"/>
<circle cx="544.2" cy="329.6" r="0.8" fill="rgb(35,35,35)" fill-opacity="0.7"/>
<circle cx="547.4" cy="325.1" r="0.6" fill="rgb(35,35,35)" fill-opacity="0.7"/>
<circle cx="544.9" cy="316.6" r="0.5" fill="rgb(35,35,35)" fill-opacity="0.7"/>
<circle cx="536.7" cy="335.1" r="0.6" fill="rgb(45,45,45)" fill-opacity="0.7"/>
<circle cx="545.9" cy="333.4" r="0.4" fill="rgb(120,120,120)" fill-opacity="0.7"/>
<circle cx="532.3" cy="329.5" r="0.7" fill="rgb(120,120,120)" fill-opacity="0.7"/>
<circle cx="536.6" cy="333.3" r="0.6" fill="rgb(45,45,45)" fill-opacity="0.7"/>
<circle cx="544.9" cy="314.5" r="0.6" fill="rgb(45,45,45)" fill-opacity="0.7"/>
<circle cx="530.8" cy="333.2" r="0.5" fill="rgb(120,120,120)" fill-opacity="0.7"/>
<circle cx="533.0" cy="332.5" r="0.5" fill="rgb(35,35,35)" fill-opacity="0.7"/>
<circle cx="539.8" cy="313.6" r="0.4" fill="rgb(120,120,120)" fill-opacity="0.7"/>
<circle cx="538.2" cy="320.7" r="0.8" fill="rgb(120,120,120)" fill-opacity="0.7"/>
<circle cx="533.6" cy="311.3" r="0.8" fill="rgb(45,45,45)" fill-opacity="0.7"/>
<circle cx="541.4" cy="316.5" r="0.8" fill="rgb(35,35,35)" fill-opacity="0.7"/>
<circle cx="537.5" cy="326.3" r="0.6" fill="rgb(120,120,120)" fill-opacity="0.7"/>
<circle cx="537.6" cy="336.3" r="0.5" fill="rgb(140,140,140)" fill-opacity="0.7"/>
<circle cx="543.4" cy="336.6" r="0.6" fill="rgb(45,45,45)" fill-opacity="0.7"/>
<circle cx="528.8" cy="322.3" r="0.9" fill="rgb(45,45,45)" fill-opacity="0.7"/>
<circle cx="533.4" cy="325.0" r="0.8" fill="rgb(120,120,120)" fill-opacity="0.7"/>
<circle cx="539.4" cy="321.8" r="0.6" fill="rgb(120,120,120)" fill-opacity="0.7"/>
<circle cx="550.5" cy="316.3" r="0.5" fill="rgb(140,140,140)" fill-opacity="0.7"/>
<circle cx="530.0" cy="324.3" r="0.6" fill="rgb(120,120,120)" fill-opacity="0.7"/>
<circle cx="542.7" cy="321.3" r="0.4" fill="rgb(120,120,120)" fill-opacity="0.7"/>
<circle cx="547.7" cy="316.9" r="0.5" fill="rgb(45,45,45)" fill-opacity="0.7"/>
<circle cx="534.9" cy="316.7" r="0.6" fill="rgb(120,120,120)" fill-opacity="0.7"/>
<circle cx="550.8" cy="326.4" r="0.5" fill="rgb(35,35,35)" fill-opacity="0.7"/>
<circle cx="532.8" cy="315.5" r="0.6" fill="rgb(140,140,140)" fill-opacity="0.7"/>
<circle cx="543.2" cy="325.5" r="0.6" fill="rgb(140,140,140)" fill-opacity="0.7"/>
<circle cx="530.8" cy="333.7" r="0.4" fill="rgb(45,45,45)" fill-opacity="0.7"/>
<circle cx="537.2" cy="316.8" r="0.6" fill="rgb(140,140,140)" fill-opacity="0.7"/>
<circle cx="545.0" cy="323.2" r="0.5" fill="rgb(45,45,45)" fill-opacity="0.7"/>
<circle cx="539.7" cy="331.0" r="0.7" fill="rgb(140,140,140)" fill-opacity="0.7"/>
<circle cx="549.7" cy="324.2" r="0.8" fill="rgb(35,35,35)" fill-opacity="0.7"/>
<circle cx="533.0" cy="316.1" r="0.8" fill="rgb(120,120,120)" fill-opacity="0.7"/>
<circle cx="539.6" cy="328.8" r="0.4" fill="rgb(45,45,45)" fill-opacity="0.7"/>
<circle cx="536.3" cy="312.3" r="0.9" fill="rgb(45,45,45)" fill-opacity="0.7"/>
<circle cx="545.6" cy="334.0" r="0.6" fill="rgb(120,120,120)" fill-opacity="0.7"/>
<circle cx="535.2" cy="329.9" r="0.8" fill="rgb(140,140,140)" fill-opacity="0.7"/>
<circle cx="540.5" cy="331.5" r="0.6" fill="rgb(45,45,45)" fill-opacity="0.7"/>
<circle cx="549.8" cy="317.6" r="0.8" fill="rgb(35,35,35)" fill-opacity="0.7"/>
<circle cx="545.1" cy="311.1" r="0.6" fill="rgb(140,140,140)" fill-opacity="0.7"/>
<circle cx="529.2" cy="323.0" r="0.4" fill="rgb(140,140,140)" fill-opacity="0.7"/>
<circle cx="542.1" cy="321.5" r="0.5" fill="rgb(140,140,140)" fill-opacity="0.7"/>
<circle cx="539.8" cy="336.0" r="0.6" fill="rgb(120,120,120)" fill-opacity="0.7"/>
<circle cx="544.9" cy="336.7" r="0.5" fill="rgb(45,45,45)" fill-opacity="0.7"/>
<circle cx="532.3" cy="320.0" r="0.8" fill="rgb(120,120,120)" fill-opacity="0.7"/>
<circle cx="541.5" cy="319.0" r="0.6" fill="rgb(120,120,120)" fill-opacity="0.7"/>
<circle cx="540.7" cy="330.4" r="0.4" fill="rgb(45,45,45)" fill-opacity="0.7"/>
<circle cx="539.2" cy="331.8" r="0.5" fill="rgb(140,140,140)" fill-opacity="0.7"/>
<circle cx="531.8" cy="332.1" r="0.5" fill="rgb(45,45,45)" fill-opacity="0.7"/>
<circle cx="539.0" cy="319.0" r="0.4" fill="rgb(120,120,120)" fill-opacity="0.7"/>
<circle cx="534.0" cy="332.7" r="0.8" fill="rgb(140,140,140)" fill-opacity="0.7"/>
<circle cx="539.0" cy="326.1" r="0.7" fill="rgb(140,140,140)" fill-opacity="0.7"/>
<circle cx="541.6" cy="327.4" r="0.6" fill="rgb(120,120,120)" fill-opacity="0.7"/>
<circle cx="541.8" cy="336.6" r="0.6" fill="rgb(45,45,45)" fill-opacity="0.7"/>
<circle cx="548.1" cy="322.9" r="0.7" fill="rgb(120,120,120)" fill-opacity="0.7"/>
<circle cx="541.6" cy="318.5" r="0.5" fill="rgb(35,35,35)" fill-opacity="0.7"/>
<circle cx="528.4" cy="319.1" r="0.8" fill="rgb(140,140,140)" fill-opacity="0.7"/>
<circle cx="545.4" cy="329.9" r="0.4" fill="rgb(45,45,45)" fill-opacity="0.7"/>
<circle cx="538.8" cy="333.4" r="0.6" fill="rgb(35,35,35)" fill-opacity="0.7"/>
<circle cx="532.1" cy="325.0" r="0.5" fill="rgb(35,35,35)" fill-opacity="0.7"/>
<circle cx="540.6" cy="325.0" r="0.8" fill="rgb(35,35,35)" fill-opacity="0.7"/>
<circle cx="547.6" cy="324.2" r="0.5" fill="rgb(45,45,45)" fill-opacity="0.7"/>
<circle cx="548.4" cy="323.5" r="0.4" fill="rgb(120,120,120)" fill-opacity="0.7"/>
<circle cx="542.9" cy="315.1" r="0.4" fill="rgb(120,120,120)" fill-opacity="0.7"/>
<circle cx="537.8" cy="338.4" r="0.8" fill="rgb(140,140,140)" fill-opacity="0.7"/>
<circle cx="528.6" cy="317.7" r="0.4" fill="rgb(35,35,35)" fill-opacity="0.7"/>
<circle cx="549.0" cy="320.2" r="0.7" fill="rgb(120,120,120)" fill-opacity="0.7"/>
<circle cx="532.8" cy="334.1" r="0.6" fill="rgb(140,140,140)" fill-opacity="0.7"/>
<circle cx="546.0" cy="324.5" r="0.9" fill="rgb(35,35,35)" fill-opacity="0.7"/>
<circle cx="540.7" cy="316.3" r="0.5" fill="rgb(140,140,140)" fill-opacity="0.7"/>
<circle cx="530.5" cy="332.0" r="0.8" fill="rgb(35,35,35)" fill-opacity="0.7"/>
<circle cx="548.4" cy="319.9" r="0.8" fill="rgb(140,140,140)" fill-opacity="0.7"/>
<circle cx="540.0" cy="338.3" r="0.4" fill="rgb(45,45,45)" fill-opacity="0.7"/>
<circle cx="541.2" cy="333.3" r="0.6" fill="rgb(120,120,120)" fill-opacity="0.7"/>
<circle cx="542.9" cy="315.6" r="0.7" fill="rgb(120,120,120)" fill-opacity="0.7"/>
</g>
<g filter="url(#bl05)">
<circle cx="521.9" cy="312.6" r="1.6" fill="rgb(84,84,84)"/>
<circle cx="522.1" cy="315.0" r="1.5" fill="rgb(100,100,100)"/>
<circle cx="525.5" cy="308.5" r="1.6" fill="rgb(97,97,97)"/>
<circle cx="527.0" cy="312.0" r="1.8" fill="rgb(91,91,91)"/>
<circle cx="526.1" cy="315.6" r="1.2" fill="rgb(106,106,106)"/>
<circle cx="525.2" cy="315.1" r="1.7" fill="rgb(101,101,101)"/>
<circle cx="522.1" cy="314.3" r="1.2" fill="rgb(81,81,81)"/>
<circle cx="525.6" cy="308.7" r="1.3" fill="rgb(93,93,93)"/>
<circle cx="525.5" cy="311.5" r="1.5" fill="rgb(84,84,84)"/>
<circle cx="521.6" cy="311.0" r="1.5" fill="rgb(102,102,102)"/>
<circle cx="526.3" cy="309.8" r="1.5" fill="rgb(82,82,82)"/>
<circle cx="522.8" cy="313.7" r="1.6" fill="rgb(95,95,95)"/>
<circle cx="522.7" cy="309.9" r="1.6" fill="rgb(82,82,82)"/>
<circle cx="527.6" cy="311.1" r="1.6" fill="rgb(91,91,91)"/>
<ellipse cx="524.5" cy="312" rx="2.2" ry="3.1" fill="#4a4a4a" opacity="0.75" filter="url(#bl2)"/>
<circle cx="527.2" cy="310.5" r="0.6" fill="rgb(120,120,120)" fill-opacity="0.7"/>
<circle cx="525.6" cy="313.4" r="0.6" fill="rgb(45,45,45)" fill-opacity="0.7"/>
<circle cx="527.3" cy="312.7" r="0.6" fill="rgb(35,35,35)" fill-opacity="0.7"/>
<circle cx="524.9" cy="314.8" r="0.6" fill="rgb(35,35,35)" fill-opacity="0.7"/>
<circle cx="524.5" cy="310.0" r="0.4" fill="rgb(120,120,120)" fill-opacity="0.7"/>
<circle cx="526.1" cy="312.5" r="0.6" fill="rgb(35,35,35)" fill-opacity="0.7"/>
<circle cx="522.6" cy="311.8" r="0.6" fill="rgb(140,140,140)" fill-opacity="0.7"/>
<circle cx="521.5" cy="312.6" r="0.6" fill="rgb(45,45,45)" fill-opacity="0.7"/>
<circle cx="522.3" cy="312.7" r="0.5" fill="rgb(45,45,45)" fill-opacity="0.7"/>
<circle cx="524.7" cy="311.8" r="0.5" fill="rgb(120,120,120)" fill-opacity="0.7"/>
<circle cx="525.7" cy="315.5" r="0.7" fill="rgb(45,45,45)" fill-opacity="0.7"/>
<circle cx="522.2" cy="309.1" r="0.9" fill="rgb(45,45,45)" fill-opacity="0.7"/>
<circle cx="526.2" cy="312.4" r="0.8" fill="rgb(120,120,120)" fill-opacity="0.7"/>
<circle cx="523.5" cy="310.4" r="0.7" fill="rgb(140,140,140)" fill-opacity="0.7"/>
<circle cx="522.7" cy="312.2" r="0.7" fill="rgb(140,140,140)" fill-opacity="0.7"/>
<circle cx="525.5" cy="310.9" r="0.5" fill="rgb(35,35,35)" fill-opacity="0.7"/>
<circle cx="524.0" cy="316.2" r="0.7" fill="rgb(140,140,140)" fill-opacity="0.7"/>
<circle cx="524.1" cy="310.1" r="0.5" fill="rgb(120,120,120)" fill-opacity="0.7"/>
<circle cx="524.7" cy="312.0" r="0.4" fill="rgb(120,120,120)" fill-opacity="0.7"/>
<circle cx="523.2" cy="313.0" r="0.6" fill="rgb(35,35,35)" fill-opacity="0.7"/>
<circle cx="522.2" cy="310.7" r="0.9" fill="rgb(120,120,120)" fill-opacity="0.7"/>
</g>
<g filter="url(#bl05)">
<circle cx="537.8" cy="298.6" r="1.7" fill="rgb(93,93,93)"/>
<circle cx="541.9" cy="300.9" r="1.8" fill="rgb(63,63,63)"/>
<circle cx="540.7" cy="299.9" r="1.5" fill="rgb(75,75,75)"/>
<circle cx="539.1" cy="301.2" r="1.3" fill="rgb(73,73,73)"/>
<circle cx="538.7" cy="301.2" r="1.7" fill="rgb(84,84,84)"/>
<circle cx="541.3" cy="302.9" r="1.3" fill="rgb(88,88,88)"/>
<circle cx="539.9" cy="300.6" r="1.7" fill="rgb(73,73,73)"/>
<circle cx="540.3" cy="297.4" r="1.3" fill="rgb(70,70,70)"/>
<circle cx="539.0" cy="303.5" r="1.5" fill="rgb(73,73,73)"/>
<circle cx="541.1" cy="303.4" r="1.3" fill="rgb(84,84,84)"/>
<circle cx="539.2" cy="302.3" r="1.3" fill="rgb(69,69,69)"/>
<circle cx="539.6" cy="302.3" r="1.7" fill="rgb(60,60,60)"/>
<circle cx="537.6" cy="299.0" r="1.2" fill="rgb(82,82,82)"/>
<circle cx="540.7" cy="298.5" r="1.4" fill="rgb(90,90,90)"/>
<ellipse cx="539.8" cy="300.5" rx="2.2" ry="2.2" fill="#4a4a4a" opacity="0.75" filter="url(#bl2)"/>
<circle cx="538.5" cy="300.7" r="0.5" fill="rgb(35,35,35)" fill-opacity="0.7"/>
<circle cx="541.6" cy="299.9" r="0.6" fill="rgb(140,140,140)" fill-opacity="0.7"/>
<circle cx="538.2" cy="302.3" r="0.4" fill="rgb(35,35,35)" fill-opacity="0.7"/>
<circle cx="539.2" cy="298.1" r="0.9" fill="rgb(35,35,35)" fill-opacity="0.7"/>
<circle cx="539.9" cy="297.5" r="0.9" fill="rgb(120,120,120)" fill-opacity="0.7"/>
<circle cx="536.9" cy="300.3" r="0.5" fill="rgb(140,140,140)" fill-opacity="0.7"/>
<circle cx="541.9" cy="302.2" r="0.8" fill="rgb(120,120,120)" fill-opacity="0.7"/>
<circle cx="542.7" cy="301.2" r="0.4" fill="rgb(120,120,120)" fill-opacity="0.7"/>
<circle cx="537.9" cy="300.3" r="0.5" fill="rgb(120,120,120)" fill-opacity="0.7"/>
<circle cx="541.8" cy="299.4" r="0.6" fill="rgb(120,120,120)" fill-opacity="0.7"/>
<circle cx="538.8" cy="303.1" r="0.7" fill="rgb(120,120,120)" fill-opacity="0.7"/>
<circle cx="541.0" cy="300.5" r="0.4" fill="rgb(140,140,140)" fill-opacity="0.7"/>
<circle cx="542.4" cy="301.0" r="0.6" fill="rgb(120,120,120)" fill-opacity="0.7"/>
<circle cx="537.9" cy="301.1" r="0.4" fill="rgb(35,35,35)" fill-opacity="0.7"/>
<circle cx="540.4" cy="298.8" r="0.5" fill="rgb(45,45,45)" fill-opacity="0.7"/>
<circle cx="537.9" cy="298.5" r="0.5" fill="rgb(140,140,140)" fill-opacity="0.7"/>
<circle cx="539.3" cy="301.0" r="0.6" fill="rgb(45,45,45)" fill-opacity="0.7"/>
<circle cx="536.8" cy="301.4" r="0.8" fill="rgb(140,140,140)" fill-opacity="0.7"/>
<circle cx="542.3" cy="299.9" r="0.6" fill="rgb(120,120,120)" fill-opacity="0.7"/>
<circle cx="539.3" cy="302.4" r="0.5" fill="rgb(140,140,140)" fill-opacity="0.7"/>
<circle cx="540.8" cy="298.5" r="0.5" fill="rgb(140,140,140)" fill-opacity="0.7"/>
</g>
<g filter="url(#bl05)">
<circle cx="583.4" cy="271.6" r="1.6" fill="rgb(85,85,85)"/>
<circle cx="581.8" cy="265.2" r="1.3" fill="rgb(85,85,85)"/>
<circle cx="582.8" cy="269.9" r="2.1" fill="rgb(85,85,85)"/>
<circle cx="578.3" cy="265.2" r="1.6" fill="rgb(64,64,64)"/>
<circle cx="583.3" cy="269.2" r="2.0" fill="rgb(79,79,79)"/>
<circle cx="582.7" cy="260.8" r="1.4" fill="rgb(57,57,57)"/>
<circle cx="582.6" cy="267.7" r="2.0" fill="rgb(85,85,85)"/>
<circle cx="577.8" cy="262.7" r="1.6" fill="rgb(82,82,82)"/>
<circle cx="578.4" cy="270.3" r="1.7" fill="rgb(63,63,63)"/>
<circle cx="584.5" cy="265.0" r="1.4" fill="rgb(68,68,68)"/>
<circle cx="582.7" cy="272.2" r="1.9" fill="rgb(74,74,74)"/>
<circle cx="577.8" cy="269.5" r="1.8" fill="rgb(89,89,89)"/>
<circle cx="578.7" cy="263.8" r="2.0" fill="rgb(56,56,56)"/>
<circle cx="587.0" cy="261.0" r="1.8" fill="rgb(65,65,65)"/>
<circle cx="581.8" cy="262.7" r="1.7" fill="rgb(61,61,61)"/>
<circle cx="582.3" cy="263.4" r="2.0" fill="rgb(72,72,72)"/>
<circle cx="582.6" cy="268.2" r="2.0" fill="rgb(85,85,85)"/>
<circle cx="587.9" cy="269.8" r="1.6" fill="rgb(64,64,64)"/>
<circle cx="587.2" cy="267.1" r="1.6" fill="rgb(62,62,62)"/>
<circle cx="587.9" cy="268.0" r="1.3" fill="rgb(76,76,76)"/>
<circle cx="577.1" cy="264.4" r="1.5" fill="rgb(70,70,70)"/>
<circle cx="586.6" cy="266.5" r="1.4" fill="rgb(89,89,89)"/>
<circle cx="585.8" cy="267.1" r="1.6" fill="rgb(71,71,71)"/>
<circle cx="583.7" cy="267.7" r="2.0" fill="rgb(75,75,75)"/>
<circle cx="581.5" cy="268.5" r="2.0" fill="rgb(79,79,79)"/>
<circle cx="578.5" cy="267.7" r="1.8" fill="rgb(90,90,90)"/>
<circle cx="588.1" cy="270.6" r="1.9" fill="rgb(72,72,72)"/>
<circle cx="578.0" cy="269.0" r="1.5" fill="rgb(74,74,74)"/>
<circle cx="579.9" cy="267.9" r="1.5" fill="rgb(76,76,76)"/>
<circle cx="587.2" cy="266.8" r="1.8" fill="rgb(56,56,56)"/>
<circle cx="579.4" cy="270.3" r="1.4" fill="rgb(76,76,76)"/>
<circle cx="577.8" cy="267.7" r="1.6" fill="rgb(72,72,72)"/>
<circle cx="582.9" cy="265.5" r="1.3" fill="rgb(56,56,56)"/>
<circle cx="586.2" cy="265.7" r="1.7" fill="rgb(75,75,75)"/>
<circle cx="584.2" cy="269.2" r="1.9" fill="rgb(71,71,71)"/>
<circle cx="581.8" cy="270.6" r="1.9" fill="rgb(56,56,56)"/>
<circle cx="588.3" cy="265.5" r="1.4" fill="rgb(87,87,87)"/>
<circle cx="584.0" cy="272.7" r="1.5" fill="rgb(66,66,66)"/>
<circle cx="580.7" cy="261.4" r="1.4" fill="rgb(75,75,75)"/>
<circle cx="588.1" cy="264.7" r="1.5" fill="rgb(65,65,65)"/>
<circle cx="587.9" cy="269.4" r="1.5" fill="rgb(83,83,83)"/>
<circle cx="582.3" cy="272.7" r="1.3" fill="rgb(67,67,67)"/>
<circle cx="580.6" cy="272.4" r="1.8" fill="rgb(72,72,72)"/>
<circle cx="579.8" cy="271.9" r="1.4" fill="rgb(77,77,77)"/>
<circle cx="579.4" cy="264.1" r="1.7" fill="rgb(72,72,72)"/>
<ellipse cx="583" cy="266.5" rx="4.5" ry="4.9" fill="#4a4a4a" opacity="0.75" filter="url(#bl2)"/>
<circle cx="578.1" cy="267.7" r="0.5" fill="rgb(140,140,140)" fill-opacity="0.7"/>
<circle cx="587.0" cy="267.5" r="0.5" fill="rgb(140,140,140)" fill-opacity="0.7"/>
<circle cx="588.5" cy="264.3" r="0.9" fill="rgb(140,140,140)" fill-opacity="0.7"/>
<circle cx="577.2" cy="264.1" r="0.8" fill="rgb(35,35,35)" fill-opacity="0.7"/>
<circle cx="582.8" cy="260.3" r="0.7" fill="rgb(120,120,120)" fill-opacity="0.7"/>
<circle cx="577.3" cy="264.8" r="0.8" fill="rgb(120,120,120)" fill-opacity="0.7"/>
<circle cx="585.3" cy="268.8" r="0.4" fill="rgb(45,45,45)" fill-opacity="0.7"/>
<circle cx="587.8" cy="262.6" r="0.7" fill="rgb(35,35,35)" fill-opacity="0.7"/>
<circle cx="580.8" cy="266.8" r="0.7" fill="rgb(45,45,45)" fill-opacity="0.7"/>
<circle cx="580.6" cy="262.3" r="0.6" fill="rgb(35,35,35)" fill-opacity="0.7"/>
<circle cx="581.3" cy="269.4" r="0.8" fill="rgb(140,140,140)" fill-opacity="0.7"/>
<circle cx="583.6" cy="264.9" r="0.5" fill="rgb(35,35,35)" fill-opacity="0.7"/>
<circle cx="577.4" cy="265.2" r="0.5" fill="rgb(120,120,120)" fill-opacity="0.7"/>
<circle cx="588.0" cy="263.6" r="0.8" fill="rgb(35,35,35)" fill-opacity="0.7"/>
<circle cx="578.3" cy="266.9" r="0.6" fill="rgb(120,120,120)" fill-opacity="0.7"/>
<circle cx="583.1" cy="271.8" r="0.7" fill="rgb(35,35,35)" fill-opacity="0.7"/>
<circle cx="577.5" cy="267.5" r="0.4" fill="rgb(35,35,35)" fill-opacity="0.7"/>
<circle cx="583.2" cy="265.1" r="0.4" fill="rgb(140,140,140)" fill-opacity="0.7"/>
<circle cx="588.8" cy="265.5" r="0.4" fill="rgb(140,140,140)" fill-opacity="0.7"/>
<circle cx="581.6" cy="270.0" r="0.6" fill="rgb(140,140,140)" fill-opacity="0.7"/>
<circle cx="579.8" cy="264.4" r="0.5" fill="rgb(120,120,120)" fill-opacity="0.7"/>
<circle cx="581.0" cy="267.6" r="0.4" fill="rgb(140,140,140)" fill-opacity="0.7"/>
<circle cx="584.3" cy="261.6" r="0.4" fill="rgb(140,140,140)" fill-opacity="0.7"/>
<circle cx="578.6" cy="262.8" r="0.6" fill="rgb(35,35,35)" fill-opacity="0.7"/>
<circle cx="580.0" cy="263.4" r="0.6" fill="rgb(140,140,140)" fill-opacity="0.7"/>
<circle cx="583.2" cy="262.7" r="0.9" fill="rgb(140,140,140)" fill-opacity="0.7"/>
<circle cx="580.0" cy="267.3" r="0.7" fill="rgb(35,35,35)" fill-opacity="0.7"/>
<circle cx="584.0" cy="263.5" r="0.5" fill="rgb(35,35,35)" fill-opacity="0.7"/>
<circle cx="586.6" cy="264.9" r="0.8" fill="rgb(120,120,120)" fill-opacity="0.7"/>
<circle cx="586.8" cy="270.4" r="0.9" fill="rgb(140,140,140)" fill-opacity="0.7"/>
<circle cx="580.3" cy="261.4" r="0.7" fill="rgb(35,35,35)" fill-opacity="0.7"/>
<circle cx="585.0" cy="261.2" r="0.6" fill="rgb(45,45,45)" fill-opacity="0.7"/>
<circle cx="583.2" cy="265.1" r="0.4" fill="rgb(35,35,35)" fill-opacity="0.7"/>
<circle cx="580.9" cy="263.0" r="0.8" fill="rgb(120,120,120)" fill-opacity="0.7"/>
<circle cx="584.2" cy="264.5" r="0.8" fill="rgb(140,140,140)" fill-opacity="0.7"/>
<circle cx="586.2" cy="260.8" r="0.7" fill="rgb(35,35,35)" fill-opacity="0.7"/>
<circle cx="588.4" cy="267.8" r="0.7" fill="rgb(45,45,45)" fill-opacity="0.7"/>
<circle cx="587.3" cy="270.2" r="0.9" fill="rgb(35,35,35)" fill-opacity="0.7"/>
<circle cx="577.4" cy="264.5" r="0.5" fill="rgb(35,35,35)" fill-opacity="0.7"/>
<circle cx="583.1" cy="269.4" r="0.5" fill="rgb(140,140,140)" fill-opacity="0.7"/>
<circle cx="582.9" cy="271.8" r="0.9" fill="rgb(140,140,140)" fill-opacity="0.7"/>
<circle cx="586.8" cy="265.6" r="0.5" fill="rgb(140,140,140)" fill-opacity="0.7"/>
<circle cx="586.4" cy="260.9" r="0.6" fill="rgb(140,140,140)" fill-opacity="0.7"/>
<circle cx="585.2" cy="270.1" r="0.8" fill="rgb(45,45,45)" fill-opacity="0.7"/>
<circle cx="587.5" cy="269.8" r="0.9" fill="rgb(140,140,140)" fill-opacity="0.7"/>
<circle cx="578.0" cy="263.2" r="0.5" fill="rgb(45,45,45)" fill-opacity="0.7"/>
<circle cx="585.7" cy="270.4" r="0.9" fill="rgb(120,120,120)" fill-opacity="0.7"/>
<circle cx="580.2" cy="261.0" r="0.7" fill="rgb(120,120,120)" fill-opacity="0.7"/>
<circle cx="585.7" cy="264.1" r="0.5" fill="rgb(140,140,140)" fill-opacity="0.7"/>
<circle cx="584.5" cy="271.4" r="0.5" fill="rgb(140,140,140)" fill-opacity="0.7"/>
<circle cx="583.4" cy="264.0" r="0.9" fill="rgb(140,140,140)" fill-opacity="0.7"/>
<circle cx="582.1" cy="263.6" r="0.7" fill="rgb(35,35,35)" fill-opacity="0.7"/>
<circle cx="577.7" cy="267.2" r="0.8" fill="rgb(140,140,140)" fill-opacity="0.7"/>
<circle cx="584.2" cy="260.3" r="0.4" fill="rgb(45,45,45)" fill-opacity="0.7"/>
<circle cx="586.9" cy="263.0" r="0.8" fill="rgb(35,35,35)" fill-opacity="0.7"/>
<circle cx="588.6" cy="264.9" r="0.5" fill="rgb(45,45,45)" fill-opacity="0.7"/>
<circle cx="583.4" cy="264.0" r="0.7" fill="rgb(35,35,35)" fill-opacity="0.7"/>
<circle cx="585.6" cy="264.5" r="0.8" fill="rgb(120,120,120)" fill-opacity="0.7"/>
<circle cx="583.8" cy="268.4" r="0.8" fill="rgb(35,35,35)" fill-opacity="0.7"/>
<circle cx="587.8" cy="269.9" r="0.5" fill="rgb(120,120,120)" fill-opacity="0.7"/>
<circle cx="577.8" cy="268.2" r="0.6" fill="rgb(35,35,35)" fill-opacity="0.7"/>
<circle cx="580.9" cy="270.4" r="0.6" fill="rgb(45,45,45)" fill-opacity="0.7"/>
<circle cx="579.7" cy="261.9" r="0.6" fill="rgb(45,45,45)" fill-opacity="0.7"/>
<circle cx="580.9" cy="265.9" r="0.5" fill="rgb(140,140,140)" fill-opacity="0.7"/>
<circle cx="587.5" cy="270.7" r="0.9" fill="rgb(35,35,35)" fill-opacity="0.7"/>
<circle cx="577.8" cy="265.5" r="0.7" fill="rgb(120,120,120)" fill-opacity="0.7"/>
<circle cx="583.2" cy="262.8" r="0.7" fill="rgb(120,120,120)" fill-opacity="0.7"/>
</g>
<circle cx="579" cy="286" r="1.6" fill="#666"/>
<rect x="586.3" y="342.2" width="9.2" height="1.8" fill="#111"/>
</g>
<g clip-path="url(#cBR)">
<rect x="495.2" y="351.4" width="102.8" height="92" fill="#c6c6c6"/>
<rect x="495.2" y="351.4" width="102.8" height="92" filter="url(#nz2)" opacity="0.08"/>
<rect x="495.2" y="351.4" width="102.8" height="92" filter="url(#nz)" opacity="0.09"/>
<path d="M495,351 L540,351 C528,360 520,370 512,383 C505,392 498,398 495,400Z" fill="#d4d4d4" opacity="0.7"/>
<g filter="url(#bl05)">
<circle cx="562.1" cy="415.2" r="3.2" fill="rgb(90,90,90)"/>
<circle cx="566.1" cy="367.3" r="3.0" fill="rgb(92,92,92)"/>
<circle cx="558.1" cy="413.6" r="3.5" fill="rgb(60,60,60)"/>
<circle cx="532.7" cy="410.2" r="2.3" fill="rgb(110,110,110)"/>
<circle cx="549.2" cy="363.2" r="3.3" fill="rgb(87,87,87)"/>
<circle cx="575.6" cy="392.6" r="3.6" fill="rgb(99,99,99)"/>
<circle cx="520.7" cy="403.8" r="3.1" fill="rgb(104,104,104)"/>
<circle cx="571.6" cy="413.1" r="2.8" fill="rgb(69,69,69)"/>
<circle cx="548.5" cy="383.8" r="3.5" fill="rgb(61,61,61)"/>
<circle cx="527.0" cy="399.7" r="2.7" fill="rgb(91,91,91)"/>
<circle cx="563.7" cy="413.6" r="3.0" fill="rgb(75,75,75)"/>
<circle cx="561.3" cy="399.2" r="3.3" fill="rgb(102,102,102)"/>
<circle cx="549.8" cy="365.9" r="3.1" fill="rgb(106,106,106)"/>
<circle cx="569.9" cy="403.0" r="3.1" fill="rgb(84,84,84)"/>
<circle cx="558.0" cy="421.4" r="3.6" fill="rgb(86,86,86)"/>
<circle cx="541.1" cy="422.2" r="3.0" fill="rgb(80,80,80)"/>
<circle cx="568.3" cy="392.4" r="2.2" fill="rgb(65,65,65)"/>
<circle cx="563.2" cy="415.1" r="3.8" fill="rgb(60,60,60)"/>
<circle cx="526.0" cy="394.2" r="3.4" fill="rgb(74,74,74)"/>
<circle cx="533.2" cy="385.4" r="3.8" fill="rgb(67,67,67)"/>
<circle cx="554.4" cy="404.6" r="2.8" fill="rgb(81,81,81)"/>
<circle cx="535.3" cy="412.7" r="2.7" fill="rgb(66,66,66)"/>
<circle cx="563.6" cy="419.0" r="2.5" fill="rgb(87,87,87)"/>
<circle cx="530.9" cy="411.1" r="3.3" fill="rgb(102,102,102)"/>
<circle cx="568.1" cy="387.9" r="3.8" fill="rgb(107,107,107)"/>
<circle cx="524.5" cy="377.3" r="3.0" fill="rgb(84,84,84)"/>
<circle cx="534.0" cy="367.0" r="2.6" fill="rgb(95,95,95)"/>
<circle cx="574.2" cy="404.7" r="3.4" fill="rgb(90,90,90)"/>
<circle cx="564.6" cy="398.9" r="3.6" fill="rgb(102,102,102)"/>
<circle cx="544.0" cy="412.5" r="2.5" fill="rgb(64,64,64)"/>
<circle cx="566.1" cy="374.9" r="2.4" fill="rgb(69,69,69)"/>
<circle cx="548.4" cy="371.6" r="2.6" fill="rgb(101,101,101)"/>
<circle cx="522.9" cy="388.8" r="2.2" fill="rgb(73,73,73)"/>
<circle cx="564.1" cy="381.9" r="2.4" fill="rgb(83,83,83)"/>
<circle cx="532.7" cy="381.0" r="3.1" fill="rgb(90,90,90)"/>
<circle cx="540.9" cy="414.2" r="2.6" fill="rgb(109,109,109)"/>
<circle cx="545.5" cy="374.2" r="2.4" fill="rgb(105,105,105)"/>
<circle cx="572.6" cy="396.5" r="3.2" fill="rgb(97,97,97)"/>
<circle cx="526.5" cy="405.2" r="3.4" fill="rgb(68,68,68)"/>
<circle cx="555.4" cy="400.1" r="2.4" fill="rgb(61,61,61)"/>
<circle cx="531.7" cy="371.6" r="2.3" fill="rgb(67,67,67)"/>
<circle cx="542.8" cy="383.9" r="3.1" fill="rgb(80,80,80)"/>
<circle cx="525.8" cy="410.7" r="3.2" fill="rgb(71,71,71)"/>
<circle cx="556.7" cy="410.4" r="3.3" fill="rgb(95,95,95)"/>
<circle cx="550.1" cy="368.9" r="3.0" fill="rgb(107,107,107)"/>
<circle cx="553.2" cy="365.8" r="2.2" fill="rgb(89,89,89)"/>
<circle cx="561.9" cy="378.3" r="3.1" fill="rgb(105,105,105)"/>
<circle cx="552.2" cy="423.3" r="3.2" fill="rgb(107,107,107)"/>
<circle cx="567.7" cy="398.0" r="2.7" fill="rgb(78,78,78)"/>
<circle cx="560.4" cy="367.7" r="3.0" fill="rgb(96,96,96)"/>
<circle cx="568.6" cy="407.0" r="3.0" fill="rgb(107,107,107)"/>
<circle cx="539.0" cy="412.9" r="2.7" fill="rgb(99,99,99)"/>
<circle cx="526.1" cy="389.3" r="2.3" fill="rgb(80,80,80)"/>
<circle cx="567.3" cy="390.3" r="2.7" fill="rgb(86,86,86)"/>
<circle cx="555.7" cy="398.4" r="2.3" fill="rgb(108,108,108)"/>
<circle cx="570.8" cy="389.9" r="3.7" fill="rgb(103,103,103)"/>
<circle cx="536.3" cy="376.7" r="3.0" fill="rgb(84,84,84)"/>
<circle cx="554.8" cy="387.2" r="2.2" fill="rgb(102,102,102)"/>
<circle cx="534.9" cy="399.2" r="3.3" fill="rgb(85,85,85)"/>
<circle cx="545.6" cy="372.4" r="2.6" fill="rgb(84,84,84)"/>
<circle cx="542.1" cy="406.1" r="3.7" fill="rgb(101,101,101)"/>
<circle cx="567.5" cy="404.0" r="3.0" fill="rgb(105,105,105)"/>
<circle cx="537.6" cy="384.2" r="2.9" fill="rgb(100,100,100)"/>
<circle cx="550.4" cy="367.7" r="3.6" fill="rgb(104,104,104)"/>
<circle cx="555.8" cy="378.6" r="3.0" fill="rgb(91,91,91)"/>
<circle cx="530.7" cy="409.0" r="3.5" fill="rgb(105,105,105)"/>
<circle cx="551.5" cy="392.8" r="2.7" fill="rgb(79,79,79)"/>
<circle cx="567.6" cy="374.5" r="2.3" fill="rgb(71,71,71)"/>
<circle cx="564.0" cy="401.2" r="3.7" fill="rgb(107,107,107)"/>
<circle cx="547.6" cy="362.3" r="3.8" fill="rgb(70,70,70)"/>
<circle cx="545.0" cy="379.5" r="2.7" fill="rgb(101,101,101)"/>
<circle cx="537.3" cy="386.4" r="2.3" fill="rgb(61,61,61)"/>
<circle cx="542.2" cy="407.1" r="3.6" fill="rgb(69,69,69)"/>
<circle cx="566.8" cy="380.0" r="2.6" fill="rgb(104,104,104)"/>
<circle cx="545.7" cy="411.8" r="3.7" fill="rgb(89,89,89)"/>
<circle cx="531.8" cy="405.2" r="3.3" fill="rgb(102,102,102)"/>
<circle cx="557.8" cy="410.1" r="2.6" fill="rgb(72,72,72)"/>
<circle cx="563.2" cy="390.8" r="2.8" fill="rgb(100,100,100)"/>
<circle cx="572.9" cy="382.6" r="2.2" fill="rgb(92,92,92)"/>
<circle cx="531.9" cy="383.6" r="2.9" fill="rgb(88,88,88)"/>
<circle cx="549.2" cy="395.7" r="3.1" fill="rgb(66,66,66)"/>
<circle cx="562.3" cy="390.7" r="2.8" fill="rgb(60,60,60)"/>
<circle cx="541.2" cy="401.3" r="3.5" fill="rgb(87,87,87)"/>
<circle cx="542.2" cy="391.7" r="2.5" fill="rgb(85,85,85)"/>
<circle cx="560.3" cy="382.7" r="3.1" fill="rgb(97,97,97)"/>
<circle cx="575.0" cy="379.8" r="2.2" fill="rgb(97,97,97)"/>
<circle cx="567.3" cy="402.1" r="3.5" fill="rgb(108,108,108)"/>
<circle cx="542.4" cy="382.9" r="3.0" fill="rgb(93,93,93)"/>
<circle cx="529.9" cy="377.9" r="3.0" fill="rgb(103,103,103)"/>
<circle cx="540.5" cy="406.7" r="2.8" fill="rgb(79,79,79)"/>
<circle cx="547.1" cy="390.7" r="3.5" fill="rgb(102,102,102)"/>
<circle cx="569.2" cy="402.1" r="3.3" fill="rgb(72,72,72)"/>
<circle cx="537.3" cy="407.2" r="2.5" fill="rgb(97,97,97)"/>
<circle cx="523.4" cy="393.8" r="3.2" fill="rgb(70,70,70)"/>
<circle cx="563.6" cy="396.0" r="2.8" fill="rgb(76,76,76)"/>
<circle cx="527.4" cy="407.0" r="3.4" fill="rgb(93,93,93)"/>
<circle cx="533.3" cy="401.2" r="2.6" fill="rgb(92,92,92)"/>
<circle cx="566.8" cy="397.6" r="3.1" fill="rgb(100,100,100)"/>
<circle cx="546.2" cy="389.5" r="2.8" fill="rgb(90,90,90)"/>
<circle cx="564.0" cy="417.3" r="3.5" fill="rgb(77,77,77)"/>
<circle cx="542.8" cy="379.9" r="3.4" fill="rgb(99,99,99)"/>
<circle cx="520.1" cy="386.9" r="3.8" fill="rgb(84,84,84)"/>
<circle cx="554.2" cy="413.5" r="3.3" fill="rgb(83,83,83)"/>
<circle cx="567.3" cy="394.3" r="3.2" fill="rgb(98,98,98)"/>
<circle cx="567.8" cy="396.0" r="3.4" fill="rgb(71,71,71)"/>
<circle cx="569.6" cy="383.4" r="3.6" fill="rgb(73,73,73)"/>
<circle cx="552.3" cy="415.0" r="2.7" fill="rgb(88,88,88)"/>
<circle cx="547.2" cy="363.9" r="2.8" fill="rgb(65,65,65)"/>
<circle cx="550.5" cy="417.0" r="2.8" fill="rgb(102,102,102)"/>
<circle cx="556.4" cy="375.9" r="2.4" fill="rgb(61,61,61)"/>
<circle cx="574.7" cy="377.0" r="3.4" fill="rgb(102,102,102)"/>
<circle cx="547.3" cy="366.4" r="2.5" fill="rgb(94,94,94)"/>
<circle cx="520.0" cy="388.8" r="3.0" fill="rgb(67,67,67)"/>
<circle cx="562.4" cy="414.4" r="3.2" fill="rgb(89,89,89)"/>
<circle cx="552.5" cy="366.4" r="3.2" fill="rgb(76,76,76)"/>
<circle cx="560.3" cy="418.8" r="2.6" fill="rgb(90,90,90)"/>
<circle cx="546.8" cy="415.6" r="2.9" fill="rgb(62,62,62)"/>
<circle cx="553.4" cy="375.6" r="2.9" fill="rgb(79,79,79)"/>
<circle cx="546.8" cy="366.6" r="3.8" fill="rgb(84,84,84)"/>
<circle cx="552.5" cy="397.4" r="3.4" fill="rgb(97,97,97)"/>
<circle cx="540.8" cy="420.1" r="2.9" fill="rgb(91,91,91)"/>
<circle cx="552.8" cy="419.3" r="3.5" fill="rgb(90,90,90)"/>
<circle cx="546.6" cy="388.5" r="3.7" fill="rgb(68,68,68)"/>
<circle cx="527.9" cy="393.0" r="2.8" fill="rgb(100,100,100)"/>
<circle cx="524.1" cy="401.4" r="2.3" fill="rgb(76,76,76)"/>
<circle cx="549.2" cy="374.0" r="2.6" fill="rgb(110,110,110)"/>
<circle cx="538.4" cy="395.8" r="3.6" fill="rgb(98,98,98)"/>
<circle cx="565.9" cy="369.1" r="2.3" fill="rgb(79,79,79)"/>
<circle cx="549.1" cy="404.2" r="3.4" fill="rgb(76,76,76)"/>
<circle cx="568.3" cy="407.8" r="3.2" fill="rgb(92,92,92)"/>
<circle cx="554.8" cy="414.1" r="3.3" fill="rgb(73,73,73)"/>
<circle cx="577.8" cy="398.9" r="3.7" fill="rgb(93,93,93)"/>
<circle cx="539.8" cy="403.0" r="2.4" fill="rgb(63,63,63)"/>
<circle cx="546.8" cy="421.1" r="2.3" fill="rgb(108,108,108)"/>
<circle cx="567.3" cy="375.9" r="2.2" fill="rgb(106,106,106)"/>
<circle cx="551.9" cy="418.9" r="3.0" fill="rgb(94,94,94)"/>
<circle cx="567.4" cy="388.5" r="3.2" fill="rgb(100,100,100)"/>
<circle cx="560.2" cy="389.5" r="2.8" fill="rgb(88,88,88)"/>
<circle cx="535.2" cy="377.2" r="3.0" fill="rgb(74,74,74)"/>
<circle cx="535.1" cy="398.6" r="3.6" fill="rgb(89,89,89)"/>
<circle cx="564.1" cy="370.3" r="3.6" fill="rgb(107,107,107)"/>
<circle cx="567.6" cy="404.3" r="2.5" fill="rgb(77,77,77)"/>
<circle cx="540.7" cy="408.7" r="2.5" fill="rgb(63,63,63)"/>
<circle cx="535.6" cy="396.7" r="2.2" fill="rgb(70,70,70)"/>
<circle cx="557.4" cy="381.1" r="2.4" fill="rgb(94,94,94)"/>
<circle cx="533.7" cy="373.7" r="2.4" fill="rgb(67,67,67)"/>
<circle cx="556.5" cy="417.8" r="3.1" fill="rgb(65,65,65)"/>
<circle cx="551.7" cy="378.7" r="3.1" fill="rgb(75,75,75)"/>
<circle cx="555.8" cy="415.6" r="3.5" fill="rgb(93,93,93)"/>
<circle cx="540.1" cy="366.5" r="2.8" fill="rgb(80,80,80)"/>
<circle cx="557.9" cy="368.9" r="3.6" fill="rgb(86,86,86)"/>
<circle cx="570.4" cy="397.7" r="3.6" fill="rgb(109,109,109)"/>
<circle cx="556.5" cy="372.8" r="2.3" fill="rgb(100,100,100)"/>
<circle cx="575.7" cy="407.6" r="3.4" fill="rgb(106,106,106)"/>
<circle cx="546.9" cy="421.1" r="2.7" fill="rgb(83,83,83)"/>
<circle cx="536.1" cy="371.5" r="2.8" fill="rgb(78,78,78)"/>
<circle cx="564.7" cy="398.5" r="2.3" fill="rgb(80,80,80)"/>
<circle cx="553.9" cy="382.6" r="3.4" fill="rgb(79,79,79)"/>
<circle cx="545.3" cy="402.7" r="3.3" fill="rgb(88,88,88)"/>
<circle cx="554.7" cy="389.2" r="3.4" fill="rgb(87,87,87)"/>
<circle cx="538.9" cy="392.2" r="3.8" fill="rgb(73,73,73)"/>
<circle cx="531.5" cy="386.5" r="2.5" fill="rgb(91,91,91)"/>
<circle cx="532.0" cy="375.8" r="2.9" fill="rgb(109,109,109)"/>
<circle cx="566.3" cy="382.5" r="2.5" fill="rgb(62,62,62)"/>
<circle cx="551.5" cy="405.3" r="3.7" fill="rgb(60,60,60)"/>
<circle cx="541.6" cy="380.1" r="3.2" fill="rgb(88,88,88)"/>
<circle cx="549.2" cy="411.5" r="3.6" fill="rgb(72,72,72)"/>
<circle cx="544.5" cy="416.5" r="3.5" fill="rgb(104,104,104)"/>
<circle cx="541.0" cy="401.6" r="2.8" fill="rgb(101,101,101)"/>
<circle cx="564.6" cy="413.3" r="3.4" fill="rgb(103,103,103)"/>
<circle cx="548.2" cy="384.4" r="2.3" fill="rgb(106,106,106)"/>
<circle cx="566.7" cy="392.6" r="2.8" fill="rgb(110,110,110)"/>
<circle cx="558.7" cy="409.9" r="3.2" fill="rgb(77,77,77)"/>
<circle cx="561.3" cy="385.8" r="3.8" fill="rgb(109,109,109)"/>
<circle cx="547.9" cy="365.5" r="3.6" fill="rgb(73,73,73)"/>
<circle cx="562.6" cy="365.5" r="3.0" fill="rgb(104,104,104)"/>
<circle cx="541.8" cy="380.7" r="2.5" fill="rgb(87,87,87)"/>
<circle cx="527.1" cy="413.3" r="3.4" fill="rgb(93,93,93)"/>
<circle cx="540.3" cy="400.5" r="2.2" fill="rgb(65,65,65)"/>
<circle cx="554.2" cy="401.9" r="3.0" fill="rgb(64,64,64)"/>
<circle cx="542.2" cy="385.2" r="3.0" fill="rgb(78,78,78)"/>
<circle cx="532.4" cy="369.3" r="2.7" fill="rgb(109,109,109)"/>
<circle cx="528.4" cy="409.6" r="2.4" fill="rgb(82,82,82)"/>
<circle cx="568.8" cy="393.7" r="3.5" fill="rgb(76,76,76)"/>
<circle cx="520.3" cy="399.8" r="3.6" fill="rgb(76,76,76)"/>
<circle cx="555.5" cy="383.6" r="2.8" fill="rgb(100,100,100)"/>
<circle cx="534.2" cy="412.7" r="3.5" fill="rgb(77,77,77)"/>
<circle cx="552.4" cy="381.0" r="3.7" fill="rgb(62,62,62)"/>
<circle cx="558.1" cy="408.8" r="2.5" fill="rgb(61,61,61)"/>
<circle cx="554.1" cy="394.4" r="2.7" fill="rgb(103,103,103)"/>
<circle cx="522.1" cy="383.5" r="3.6" fill="rgb(99,99,99)"/>
<circle cx="544.1" cy="369.4" r="2.5" fill="rgb(71,71,71)"/>
<circle cx="564.5" cy="385.5" r="2.6" fill="rgb(73,73,73)"/>
<circle cx="546.2" cy="374.0" r="3.5" fill="rgb(78,78,78)"/>
<circle cx="548.3" cy="366.5" r="2.6" fill="rgb(80,80,80)"/>
<circle cx="552.9" cy="420.8" r="3.4" fill="rgb(72,72,72)"/>
<circle cx="558.0" cy="392.8" r="3.7" fill="rgb(89,89,89)"/>
<circle cx="524.0" cy="399.3" r="3.5" fill="rgb(71,71,71)"/>
<circle cx="545.1" cy="372.9" r="2.3" fill="rgb(84,84,84)"/>
<circle cx="556.7" cy="388.2" r="3.3" fill="rgb(91,91,91)"/>
<circle cx="573.7" cy="376.1" r="3.5" fill="rgb(67,67,67)"/>
<circle cx="546.8" cy="391.0" r="3.4" fill="rgb(79,79,79)"/>
<circle cx="522.9" cy="389.5" r="2.2" fill="rgb(64,64,64)"/>
<circle cx="570.3" cy="370.8" r="3.7" fill="rgb(65,65,65)"/>
<circle cx="532.3" cy="384.6" r="3.2" fill="rgb(85,85,85)"/>
<circle cx="554.1" cy="371.9" r="2.6" fill="rgb(96,96,96)"/>
<circle cx="540.9" cy="418.9" r="2.6" fill="rgb(64,64,64)"/>
<circle cx="559.5" cy="387.8" r="3.7" fill="rgb(101,101,101)"/>
<circle cx="542.8" cy="407.6" r="2.8" fill="rgb(94,94,94)"/>
<circle cx="548.4" cy="374.2" r="3.0" fill="rgb(65,65,65)"/>
<circle cx="530.6" cy="370.3" r="2.9" fill="rgb(90,90,90)"/>
<circle cx="541.7" cy="420.4" r="3.3" fill="rgb(90,90,90)"/>
<circle cx="546.5" cy="406.4" r="3.1" fill="rgb(80,80,80)"/>
<circle cx="529.0" cy="375.2" r="3.1" fill="rgb(108,108,108)"/>
<circle cx="552.7" cy="422.1" r="3.6" fill="rgb(73,73,73)"/>
<circle cx="534.5" cy="366.0" r="3.0" fill="rgb(70,70,70)"/>
<circle cx="570.8" cy="407.8" r="2.6" fill="rgb(108,108,108)"/>
<circle cx="525.2" cy="395.8" r="2.6" fill="rgb(92,92,92)"/>
<circle cx="547.7" cy="421.8" r="3.2" fill="rgb(100,100,100)"/>
<circle cx="573.2" cy="377.9" r="3.1" fill="rgb(64,64,64)"/>
<circle cx="555.6" cy="414.8" r="3.3" fill="rgb(92,92,92)"/>
<circle cx="551.7" cy="371.1" r="3.5" fill="rgb(100,100,100)"/>
<circle cx="550.7" cy="413.3" r="2.9" fill="rgb(103,103,103)"/>
<circle cx="560.2" cy="377.0" r="3.2" fill="rgb(71,71,71)"/>
<circle cx="545.5" cy="394.6" r="2.7" fill="rgb(84,84,84)"/>
<circle cx="523.5" cy="407.4" r="3.3" fill="rgb(76,76,76)"/>
<circle cx="571.4" cy="382.7" r="3.6" fill="rgb(91,91,91)"/>
<circle cx="543.5" cy="419.0" r="2.6" fill="rgb(102,102,102)"/>
<circle cx="536.7" cy="407.4" r="2.7" fill="rgb(87,87,87)"/>
<circle cx="533.1" cy="391.6" r="2.5" fill="rgb(74,74,74)"/>
<circle cx="555.5" cy="385.5" r="3.2" fill="rgb(74,74,74)"/>
<circle cx="560.2" cy="413.8" r="2.7" fill="rgb(93,93,93)"/>
<circle cx="544.4" cy="368.0" r="2.3" fill="rgb(63,63,63)"/>
<circle cx="561.4" cy="375.4" r="3.6" fill="rgb(98,98,98)"/>
<circle cx="561.6" cy="420.7" r="2.8" fill="rgb(79,79,79)"/>
<circle cx="542.8" cy="394.4" r="2.5" fill="rgb(71,71,71)"/>
<circle cx="566.6" cy="385.6" r="3.2" fill="rgb(70,70,70)"/>
<circle cx="524.0" cy="410.3" r="2.7" fill="rgb(103,103,103)"/>
<circle cx="537.0" cy="371.2" r="3.5" fill="rgb(66,66,66)"/>
<circle cx="562.6" cy="404.8" r="2.4" fill="rgb(84,84,84)"/>
<circle cx="554.6" cy="375.9" r="2.8" fill="rgb(106,106,106)"/>
<circle cx="540.1" cy="394.3" r="3.4" fill="rgb(85,85,85)"/>
<circle cx="574.6" cy="402.0" r="3.7" fill="rgb(96,96,96)"/>
<circle cx="549.0" cy="411.5" r="3.0" fill="rgb(80,80,80)"/>
<circle cx="560.5" cy="375.5" r="2.9" fill="rgb(88,88,88)"/>
<circle cx="559.9" cy="368.2" r="3.6" fill="rgb(63,63,63)"/>
<circle cx="527.9" cy="406.1" r="2.3" fill="rgb(110,110,110)"/>
<circle cx="547.6" cy="369.5" r="2.6" fill="rgb(76,76,76)"/>
<circle cx="545.2" cy="420.4" r="2.9" fill="rgb(109,109,109)"/>
<circle cx="573.7" cy="383.1" r="2.9" fill="rgb(81,81,81)"/>
<circle cx="571.4" cy="374.5" r="3.5" fill="rgb(80,80,80)"/>
<circle cx="531.2" cy="414.0" r="3.4" fill="rgb(78,78,78)"/>
<circle cx="547.0" cy="388.4" r="3.2" fill="rgb(77,77,77)"/>
<circle cx="558.6" cy="397.5" r="3.0" fill="rgb(101,101,101)"/>
<circle cx="521.9" cy="398.3" r="3.8" fill="rgb(81,81,81)"/>
<circle cx="531.7" cy="407.3" r="2.3" fill="rgb(68,68,68)"/>
<circle cx="560.9" cy="417.1" r="2.3" fill="rgb(83,83,83)"/>
<circle cx="533.4" cy="376.7" r="3.7" fill="rgb(92,92,92)"/>
<circle cx="540.8" cy="398.9" r="3.0" fill="rgb(69,69,69)"/>
<circle cx="569.8" cy="405.7" r="3.7" fill="rgb(105,105,105)"/>
<circle cx="570.2" cy="388.0" r="2.9" fill="rgb(74,74,74)"/>
<circle cx="552.8" cy="420.8" r="2.2" fill="rgb(101,101,101)"/>
<circle cx="548.1" cy="386.0" r="3.2" fill="rgb(98,98,98)"/>
<circle cx="544.4" cy="380.0" r="2.4" fill="rgb(85,85,85)"/>
<circle cx="547.2" cy="402.3" r="3.1" fill="rgb(77,77,77)"/>
<circle cx="568.4" cy="374.1" r="2.3" fill="rgb(108,108,108)"/>
<circle cx="556.7" cy="379.7" r="3.0" fill="rgb(84,84,84)"/>
<circle cx="542.2" cy="396.6" r="3.8" fill="rgb(107,107,107)"/>
<circle cx="546.2" cy="388.9" r="3.1" fill="rgb(68,68,68)"/>
<circle cx="570.1" cy="397.4" r="3.7" fill="rgb(84,84,84)"/>
<circle cx="538.7" cy="416.9" r="3.3" fill="rgb(65,65,65)"/>
<circle cx="534.9" cy="385.2" r="3.2" fill="rgb(63,63,63)"/>
<circle cx="547.7" cy="410.4" r="2.5" fill="rgb(62,62,62)"/>
<circle cx="565.2" cy="410.7" r="2.5" fill="rgb(62,62,62)"/>
<circle cx="559.4" cy="373.4" r="2.5" fill="rgb(99,99,99)"/>
<circle cx="521.7" cy="389.1" r="3.8" fill="rgb(76,76,76)"/>
<circle cx="526.4" cy="403.2" r="2.3" fill="rgb(93,93,93)"/>
<circle cx="536.8" cy="410.5" r="3.5" fill="rgb(76,76,76)"/>
<circle cx="576.6" cy="406.1" r="3.4" fill="rgb(81,81,81)"/>
<circle cx="550.0" cy="418.3" r="2.5" fill="rgb(70,70,70)"/>
<circle cx="556.7" cy="368.1" r="3.2" fill="rgb(85,85,85)"/>
<circle cx="560.9" cy="389.0" r="3.0" fill="rgb(90,90,90)"/>
<circle cx="578.8" cy="389.2" r="2.3" fill="rgb(71,71,71)"/>
<circle cx="548.6" cy="399.2" r="3.2" fill="rgb(102,102,102)"/>
<circle cx="529.9" cy="383.2" r="3.2" fill="rgb(72,72,72)"/>
<circle cx="554.5" cy="410.9" r="3.0" fill="rgb(63,63,63)"/>
<circle cx="556.4" cy="384.6" r="2.8" fill="rgb(86,86,86)"/>
<circle cx="541.2" cy="378.6" r="2.8" fill="rgb(83,83,83)"/>
<circle cx="556.4" cy="420.1" r="2.5" fill="rgb(81,81,81)"/>
<circle cx="552.9" cy="389.0" r="3.5" fill="rgb(75,75,75)"/>
<circle cx="524.7" cy="388.6" r="3.1" fill="rgb(86,86,86)"/>
<circle cx="553.4" cy="416.6" r="2.7" fill="rgb(95,95,95)"/>
<circle cx="573.1" cy="394.4" r="3.1" fill="rgb(89,89,89)"/>
<circle cx="563.1" cy="414.2" r="2.9" fill="rgb(93,93,93)"/>
<circle cx="566.2" cy="418.1" r="2.9" fill="rgb(103,103,103)"/>
<circle cx="541.7" cy="383.6" r="3.6" fill="rgb(93,93,93)"/>
<circle cx="531.6" cy="388.1" r="2.4" fill="rgb(95,95,95)"/>
<circle cx="569.1" cy="390.3" r="2.6" fill="rgb(67,67,67)"/>
<circle cx="548.1" cy="397.1" r="2.6" fill="rgb(90,90,90)"/>
<circle cx="554.9" cy="381.0" r="2.7" fill="rgb(89,89,89)"/>
<circle cx="546.5" cy="375.0" r="2.5" fill="rgb(105,105,105)"/>
<circle cx="560.8" cy="378.7" r="3.5" fill="rgb(74,74,74)"/>
<circle cx="557.5" cy="372.5" r="3.8" fill="rgb(75,75,75)"/>
<circle cx="545.2" cy="371.6" r="3.2" fill="rgb(84,84,84)"/>
<circle cx="557.7" cy="409.2" r="2.4" fill="rgb(88,88,88)"/>
<circle cx="552.1" cy="364.4" r="3.1" fill="rgb(90,90,90)"/>
<circle cx="536.0" cy="404.6" r="2.5" fill="rgb(79,79,79)"/>
<circle cx="523.7" cy="380.9" r="3.0" fill="rgb(110,110,110)"/>
<circle cx="541.4" cy="408.2" r="3.1" fill="rgb(80,80,80)"/>
<circle cx="545.4" cy="390.4" r="3.3" fill="rgb(60,60,60)"/>
<circle cx="533.2" cy="406.4" r="3.5" fill="rgb(70,70,70)"/>
<circle cx="538.6" cy="368.8" r="2.2" fill="rgb(75,75,75)"/>
<circle cx="538.9" cy="365.0" r="2.3" fill="rgb(99,99,99)"/>
<circle cx="543.8" cy="381.8" r="2.5" fill="rgb(88,88,88)"/>
<circle cx="557.6" cy="393.9" r="3.6" fill="rgb(91,91,91)"/>
<circle cx="544.2" cy="396.2" r="3.0" fill="rgb(87,87,87)"/>
<circle cx="560.2" cy="385.0" r="3.4" fill="rgb(60,60,60)"/>
<circle cx="572.3" cy="391.9" r="3.2" fill="rgb(82,82,82)"/>
<circle cx="558.5" cy="403.0" r="3.4" fill="rgb(100,100,100)"/>
<circle cx="550.8" cy="364.2" r="3.0" fill="rgb(79,79,79)"/>
<circle cx="557.2" cy="409.6" r="2.8" fill="rgb(105,105,105)"/>
<circle cx="526.2" cy="378.2" r="3.1" fill="rgb(86,86,86)"/>
<circle cx="540.5" cy="416.4" r="2.9" fill="rgb(63,63,63)"/>
<circle cx="569.2" cy="414.3" r="3.2" fill="rgb(89,89,89)"/>
<circle cx="558.5" cy="379.3" r="3.3" fill="rgb(94,94,94)"/>
<circle cx="533.6" cy="414.2" r="3.1" fill="rgb(65,65,65)"/>
<circle cx="544.2" cy="389.5" r="2.6" fill="rgb(76,76,76)"/>
<circle cx="551.1" cy="364.1" r="3.6" fill="rgb(83,83,83)"/>
<circle cx="579.8" cy="394.7" r="2.7" fill="rgb(87,87,87)"/>
<circle cx="578.2" cy="396.0" r="3.3" fill="rgb(69,69,69)"/>
<circle cx="555.8" cy="376.0" r="2.9" fill="rgb(66,66,66)"/>
<circle cx="553.7" cy="399.0" r="2.4" fill="rgb(71,71,71)"/>
<circle cx="569.4" cy="414.5" r="3.2" fill="rgb(88,88,88)"/>
<circle cx="533.2" cy="392.1" r="3.1" fill="rgb(70,70,70)"/>
<circle cx="567.9" cy="417.1" r="2.8" fill="rgb(87,87,87)"/>
<circle cx="573.1" cy="406.3" r="3.2" fill="rgb(110,110,110)"/>
<circle cx="565.9" cy="401.1" r="3.2" fill="rgb(90,90,90)"/>
<circle cx="561.0" cy="387.6" r="2.7" fill="rgb(79,79,79)"/>
<circle cx="561.4" cy="419.4" r="2.4" fill="rgb(98,98,98)"/>
<circle cx="527.4" cy="405.7" r="2.6" fill="rgb(95,95,95)"/>
<circle cx="546.7" cy="412.2" r="2.8" fill="rgb(88,88,88)"/>
<circle cx="532.6" cy="369.1" r="3.5" fill="rgb(74,74,74)"/>
<circle cx="572.7" cy="407.3" r="2.9" fill="rgb(106,106,106)"/>
<circle cx="520.4" cy="401.3" r="3.7" fill="rgb(79,79,79)"/>
<circle cx="537.3" cy="381.9" r="2.5" fill="rgb(101,101,101)"/>
<circle cx="546.7" cy="385.4" r="2.2" fill="rgb(99,99,99)"/>
<circle cx="545.7" cy="398.4" r="2.9" fill="rgb(66,66,66)"/>
<circle cx="532.1" cy="387.4" r="3.0" fill="rgb(92,92,92)"/>
<circle cx="558.8" cy="388.2" r="2.5" fill="rgb(110,110,110)"/>
<circle cx="575.4" cy="384.6" r="2.2" fill="rgb(106,106,106)"/>
<circle cx="527.0" cy="372.5" r="3.7" fill="rgb(68,68,68)"/>
<circle cx="520.5" cy="404.9" r="3.7" fill="rgb(92,92,92)"/>
<circle cx="528.0" cy="390.1" r="3.8" fill="rgb(88,88,88)"/>
<circle cx="554.0" cy="377.5" r="3.7" fill="rgb(68,68,68)"/>
<circle cx="553.7" cy="382.4" r="3.7" fill="rgb(83,83,83)"/>
<circle cx="553.2" cy="380.4" r="2.8" fill="rgb(92,92,92)"/>
<circle cx="543.7" cy="393.4" r="3.1" fill="rgb(75,75,75)"/>
<circle cx="525.1" cy="408.0" r="2.9" fill="rgb(82,82,82)"/>
<circle cx="559.9" cy="410.9" r="3.7" fill="rgb(97,97,97)"/>
<circle cx="572.1" cy="387.0" r="3.4" fill="rgb(71,71,71)"/>
<circle cx="553.5" cy="397.2" r="2.3" fill="rgb(100,100,100)"/>
<circle cx="577.8" cy="394.6" r="2.4" fill="rgb(102,102,102)"/>
<circle cx="552.6" cy="380.2" r="3.3" fill="rgb(78,78,78)"/>
<circle cx="537.8" cy="412.9" r="3.8" fill="rgb(69,69,69)"/>
<circle cx="540.6" cy="366.5" r="3.1" fill="rgb(80,80,80)"/>
<circle cx="535.9" cy="370.2" r="2.2" fill="rgb(61,61,61)"/>
<circle cx="528.5" cy="377.5" r="3.6" fill="rgb(86,86,86)"/>
<circle cx="539.4" cy="395.0" r="3.0" fill="rgb(67,67,67)"/>
<circle cx="566.5" cy="390.4" r="3.7" fill="rgb(89,89,89)"/>
<circle cx="532.8" cy="396.4" r="2.6" fill="rgb(64,64,64)"/>
<circle cx="549.2" cy="396.1" r="3.5" fill="rgb(64,64,64)"/>
<circle cx="574.7" cy="398.4" r="2.9" fill="rgb(97,97,97)"/>
<circle cx="577.0" cy="383.3" r="2.8" fill="rgb(86,86,86)"/>
<circle cx="532.2" cy="404.5" r="3.7" fill="rgb(70,70,70)"/>
<circle cx="566.9" cy="417.3" r="2.4" fill="rgb(72,72,72)"/>
<circle cx="525.7" cy="388.1" r="2.3" fill="rgb(75,75,75)"/>
<circle cx="533.7" cy="393.2" r="3.3" fill="rgb(62,62,62)"/>
<circle cx="544.3" cy="373.4" r="3.4" fill="rgb(85,85,85)"/>
<circle cx="577.5" cy="396.5" r="2.7" fill="rgb(103,103,103)"/>
<circle cx="524.6" cy="405.8" r="2.4" fill="rgb(94,94,94)"/>
<circle cx="567.5" cy="401.6" r="3.8" fill="rgb(60,60,60)"/>
<circle cx="519.3" cy="384.8" r="2.4" fill="rgb(91,91,91)"/>
<circle cx="569.3" cy="388.7" r="2.3" fill="rgb(91,91,91)"/>
<circle cx="568.8" cy="399.1" r="2.6" fill="rgb(70,70,70)"/>
<circle cx="551.0" cy="382.6" r="3.2" fill="rgb(69,69,69)"/>
<circle cx="571.9" cy="379.4" r="3.6" fill="rgb(79,79,79)"/>
<circle cx="536.8" cy="374.1" r="2.6" fill="rgb(64,64,64)"/>
<circle cx="576.7" cy="394.1" r="2.7" fill="rgb(105,105,105)"/>
<circle cx="532.6" cy="379.9" r="2.5" fill="rgb(101,101,101)"/>
<circle cx="568.0" cy="369.3" r="3.1" fill="rgb(102,102,102)"/>
<circle cx="556.7" cy="378.9" r="3.0" fill="rgb(100,100,100)"/>
<circle cx="558.0" cy="371.8" r="3.6" fill="rgb(108,108,108)"/>
<circle cx="563.5" cy="412.0" r="3.1" fill="rgb(81,81,81)"/>
<circle cx="542.1" cy="411.5" r="3.0" fill="rgb(94,94,94)"/>
<circle cx="570.7" cy="413.3" r="3.7" fill="rgb(109,109,109)"/>
<circle cx="568.3" cy="377.5" r="3.0" fill="rgb(83,83,83)"/>
<circle cx="527.1" cy="372.7" r="2.2" fill="rgb(65,65,65)"/>
<circle cx="556.4" cy="410.6" r="3.4" fill="rgb(84,84,84)"/>
<circle cx="560.9" cy="421.2" r="3.0" fill="rgb(98,98,98)"/>
<circle cx="527.9" cy="403.3" r="3.6" fill="rgb(71,71,71)"/>
<circle cx="522.3" cy="399.8" r="2.6" fill="rgb(79,79,79)"/>
<circle cx="574.9" cy="409.5" r="2.8" fill="rgb(74,74,74)"/>
<circle cx="538.9" cy="408.1" r="2.4" fill="rgb(63,63,63)"/>
<circle cx="552.4" cy="386.6" r="2.5" fill="rgb(99,99,99)"/>
<circle cx="557.2" cy="392.8" r="2.6" fill="rgb(77,77,77)"/>
<circle cx="539.9" cy="365.8" r="2.3" fill="rgb(89,89,89)"/>
<circle cx="538.5" cy="365.5" r="2.5" fill="rgb(64,64,64)"/>
<circle cx="546.1" cy="405.8" r="2.8" fill="rgb(107,107,107)"/>
<circle cx="565.1" cy="412.0" r="3.4" fill="rgb(88,88,88)"/>
<circle cx="559.0" cy="387.3" r="3.8" fill="rgb(78,78,78)"/>
<circle cx="555.6" cy="396.3" r="3.7" fill="rgb(66,66,66)"/>
<circle cx="539.5" cy="363.8" r="2.5" fill="rgb(84,84,84)"/>
<circle cx="530.6" cy="375.7" r="3.4" fill="rgb(80,80,80)"/>
<circle cx="518.9" cy="385.9" r="3.5" fill="rgb(77,77,77)"/>
<circle cx="556.4" cy="394.1" r="3.0" fill="rgb(60,60,60)"/>
<circle cx="568.4" cy="399.6" r="2.9" fill="rgb(70,70,70)"/>
<circle cx="524.8" cy="405.2" r="2.4" fill="rgb(88,88,88)"/>
<circle cx="558.3" cy="413.5" r="3.4" fill="rgb(108,108,108)"/>
<circle cx="560.7" cy="378.6" r="3.7" fill="rgb(80,80,80)"/>
<circle cx="569.4" cy="379.2" r="2.4" fill="rgb(99,99,99)"/>
<ellipse cx="549" cy="393" rx="21.7" ry="21.7" fill="#2e2e2e" opacity="0.85" filter="url(#bl2)"/>
<circle cx="578.4" cy="383.8" r="3.5" fill="#909090" fill-opacity="0.5" stroke="#383838" stroke-width="0.8"/>
<circle cx="581.2" cy="389.1" r="4.3" fill="#909090" fill-opacity="0.5" stroke="#383838" stroke-width="0.8"/>
<circle cx="553.9" cy="420.9" r="3.9" fill="#909090" fill-opacity="0.5" stroke="#383838" stroke-width="0.8"/>
<circle cx="567.8" cy="414.0" r="3.8" fill="#909090" fill-opacity="0.5" stroke="#383838" stroke-width="0.8"/>
<circle cx="576.4" cy="383.0" r="4.3" fill="#909090" fill-opacity="0.5" stroke="#383838" stroke-width="0.8"/>
<circle cx="580.3" cy="385.1" r="2.9" fill="#909090" fill-opacity="0.5" stroke="#383838" stroke-width="0.8"/>
<circle cx="570.5" cy="417.2" r="4.5" fill="#909090" fill-opacity="0.5" stroke="#383838" stroke-width="0.8"/>
<circle cx="562.6" cy="418.3" r="4.1" fill="#909090" fill-opacity="0.5" stroke="#383838" stroke-width="0.8"/>
<circle cx="572.3" cy="409.2" r="3.1" fill="#909090" fill-opacity="0.5" stroke="#383838" stroke-width="0.8"/>
<circle cx="522.9" cy="379.0" r="4.3" fill="#909090" fill-opacity="0.5" stroke="#383838" stroke-width="0.8"/>
<circle cx="567.4" cy="419.3" r="4.2" fill="#909090" fill-opacity="0.5" stroke="#383838" stroke-width="0.8"/>
<circle cx="527.3" cy="414.8" r="4.0" fill="#909090" fill-opacity="0.5" stroke="#383838" stroke-width="0.8"/>
<circle cx="572.2" cy="415.4" r="3.6" fill="#909090" fill-opacity="0.5" stroke="#383838" stroke-width="0.8"/>
<circle cx="517.3" cy="390.0" r="2.8" fill="#909090" fill-opacity="0.5" stroke="#383838" stroke-width="0.8"/>
<circle cx="546.0" cy="420.9" r="4.1" fill="#909090" fill-opacity="0.5" stroke="#383838" stroke-width="0.8"/>
<circle cx="555.1" cy="423.6" r="4.1" fill="#909090" fill-opacity="0.5" stroke="#383838" stroke-width="0.8"/>
<circle cx="577.7" cy="392.2" r="3.5" fill="#909090" fill-opacity="0.5" stroke="#383838" stroke-width="0.8"/>
<circle cx="556.1" cy="363.9" r="3.1" fill="#909090" fill-opacity="0.5" stroke="#383838" stroke-width="0.8"/>
<circle cx="534.6" cy="364.9" r="3.6" fill="#909090" fill-opacity="0.5" stroke="#383838" stroke-width="0.8"/>
<circle cx="528.0" cy="412.3" r="3.5" fill="#909090" fill-opacity="0.5" stroke="#383838" stroke-width="0.8"/>
<circle cx="564.9" cy="368.1" r="4.5" fill="#909090" fill-opacity="0.5" stroke="#383838" stroke-width="0.8"/>
<circle cx="530.1" cy="416.5" r="4.2" fill="#909090" fill-opacity="0.5" stroke="#383838" stroke-width="0.8"/>
<circle cx="576.1" cy="376.3" r="3.6" fill="#909090" fill-opacity="0.5" stroke="#383838" stroke-width="0.8"/>
<circle cx="521.8" cy="401.6" r="3.8" fill="#909090" fill-opacity="0.5" stroke="#383838" stroke-width="0.8"/>
<circle cx="561.1" cy="366.9" r="3.4" fill="#909090" fill-opacity="0.5" stroke="#383838" stroke-width="0.8"/>
<circle cx="576.5" cy="405.0" r="3.7" fill="#909090" fill-opacity="0.5" stroke="#383838" stroke-width="0.8"/>
<circle cx="580.0" cy="391.0" r="4.5" fill="#909090" fill-opacity="0.5" stroke="#383838" stroke-width="0.8"/>
<circle cx="558.2" cy="421.5" r="4.1" fill="#909090" fill-opacity="0.5" stroke="#383838" stroke-width="0.8"/>
<circle cx="576.3" cy="406.7" r="3.9" fill="#909090" fill-opacity="0.5" stroke="#383838" stroke-width="0.8"/>
<circle cx="577.4" cy="397.9" r="4.2" fill="#909090" fill-opacity="0.5" stroke="#383838" stroke-width="0.8"/>
<circle cx="561.6" cy="413.4" r="0.6" fill="rgb(140,140,140)" fill-opacity="0.7"/>
<circle cx="549.0" cy="410.6" r="0.4" fill="rgb(45,45,45)" fill-opacity="0.7"/>
<circle cx="540.0" cy="389.8" r="0.6" fill="rgb(140,140,140)" fill-opacity="0.7"/>
<circle cx="547.0" cy="416.0" r="0.5" fill="rgb(45,45,45)" fill-opacity="0.7"/>
<circle cx="540.7" cy="387.5" r="0.8" fill="rgb(120,120,120)" fill-opacity="0.7"/>
<circle cx="560.9" cy="416.4" r="0.6" fill="rgb(35,35,35)" fill-opacity="0.7"/>
<circle cx="530.2" cy="372.4" r="0.7" fill="rgb(45,45,45)" fill-opacity="0.7"/>
<circle cx="534.8" cy="388.1" r="0.8" fill="rgb(140,140,140)" fill-opacity="0.7"/>
<circle cx="522.1" cy="399.8" r="0.7" fill="rgb(35,35,35)" fill-opacity="0.7"/>
<circle cx="567.8" cy="381.9" r="0.6" fill="rgb(140,140,140)" fill-opacity="0.7"/>
<circle cx="539.4" cy="366.8" r="0.7" fill="rgb(35,35,35)" fill-opacity="0.7"/>
<circle cx="550.9" cy="419.1" r="0.8" fill="rgb(120,120,120)" fill-opacity="0.7"/>
<circle cx="574.2" cy="383.4" r="0.6" fill="rgb(35,35,35)" fill-opacity="0.7"/>
<circle cx="523.2" cy="380.2" r="0.4" fill="rgb(140,140,140)" fill-opacity="0.7"/>
<circle cx="553.1" cy="371.2" r="0.6" fill="rgb(120,120,120)" fill-opacity="0.7"/>
<circle cx="543.4" cy="397.1" r="0.6" fill="rgb(45,45,45)" fill-opacity="0.7"/>
<circle cx="569.1" cy="415.2" r="0.8" fill="rgb(140,140,140)" fill-opacity="0.7"/>
<circle cx="549.5" cy="366.3" r="0.8" fill="rgb(140,140,140)" fill-opacity="0.7"/>
<circle cx="555.1" cy="372.6" r="0.4" fill="rgb(45,45,45)" fill-opacity="0.7"/>
<circle cx="563.8" cy="394.0" r="0.5" fill="rgb(120,120,120)" fill-opacity="0.7"/>
<circle cx="532.9" cy="393.2" r="0.5" fill="rgb(140,140,140)" fill-opacity="0.7"/>
<circle cx="574.2" cy="392.3" r="0.5" fill="rgb(120,120,120)" fill-opacity="0.7"/>
<circle cx="555.7" cy="372.0" r="0.7" fill="rgb(140,140,140)" fill-opacity="0.7"/>
<circle cx="521.4" cy="389.3" r="0.5" fill="rgb(120,120,120)" fill-opacity="0.7"/>
<circle cx="537.1" cy="387.3" r="0.7" fill="rgb(140,140,140)" fill-opacity="0.7"/>
<circle cx="537.9" cy="415.2" r="0.4" fill="rgb(120,120,120)" fill-opacity="0.7"/>
<circle cx="565.2" cy="388.9" r="0.6" fill="rgb(140,140,140)" fill-opacity="0.7"/>
<circle cx="547.0" cy="408.6" r="0.8" fill="rgb(140,140,140)" fill-opacity="0.7"/>
<circle cx="558.6" cy="401.6" r="0.7" fill="rgb(45,45,45)" fill-opacity="0.7"/>
<circle cx="552.8" cy="405.4" r="0.4" fill="rgb(120,120,120)" fill-opacity="0.7"/>
<circle cx="528.4" cy="373.9" r="0.4" fill="rgb(140,140,140)" fill-opacity="0.7"/>
<circle cx="577.0" cy="385.3" r="0.7" fill="rgb(45,45,45)" fill-opacity="0.7"/>
<circle cx="568.4" cy="384.1" r="0.4" fill="rgb(120,120,120)" fill-opacity="0.7"/>
<circle cx="556.0" cy="408.1" r="0.6" fill="rgb(45,45,45)" fill-opacity="0.7"/>
<circle cx="549.7" cy="418.4" r="0.5" fill="rgb(45,45,45)" fill-opacity="0.7"/>
<circle cx="524.0" cy="386.2" r="0.7" fill="rgb(45,45,45)" fill-opacity="0.7"/>
<circle cx="568.0" cy="382.5" r="0.6" fill="rgb(45,45,45)" fill-opacity="0.7"/>
<circle cx="543.6" cy="367.3" r="0.8" fill="rgb(120,120,120)" fill-opacity="0.7"/>
<circle cx="567.7" cy="395.6" r="0.6" fill="rgb(35,35,35)" fill-opacity="0.7"/>
<circle cx="543.3" cy="376.9" r="0.5" fill="rgb(140,140,140)" fill-opacity="0.7"/>
<circle cx="537.3" cy="384.8" r="0.7" fill="rgb(120,120,120)" fill-opacity="0.7"/>
<circle cx="537.4" cy="406.0" r="0.5" fill="rgb(140,140,140)" fill-opacity="0.7"/>
<circle cx="571.8" cy="412.2" r="0.4" fill="rgb(35,35,35)" fill-opacity="0.7"/>
<circle cx="527.4" cy="408.1" r="0.8" fill="rgb(140,140,140)" fill-opacity="0.7"/>
<circle cx="529.3" cy="370.2" r="0.8" fill="rgb(120,120,120)" fill-opacity="0.7"/>
<circle cx="530.2" cy="382.0" r="0.7" fill="rgb(35,35,35)" fill-opacity="0.7"/>
<circle cx="565.9" cy="387.2" r="0.8" fill="rgb(120,120,120)" fill-opacity="0.7"/>
<circle cx="547.9" cy="395.5" r="0.4" fill="rgb(120,120,120)" fill-opacity="0.7"/>
<circle cx="547.8" cy="400.9" r="0.5" fill="rgb(45,45,45)" fill-opacity="0.7"/>
<circle cx="521.8" cy="392.4" r="0.8" fill="rgb(35,35,35)" fill-opacity="0.7"/>
<circle cx="526.4" cy="387.8" r="0.5" fill="rgb(140,140,140)" fill-opacity="0.7"/>
<circle cx="564.7" cy="371.1" r="0.5" fill="rgb(35,35,35)" fill-opacity="0.7"/>
<circle cx="556.7" cy="412.3" r="0.8" fill="rgb(45,45,45)" fill-opacity="0.7"/>
<circle cx="546.1" cy="410.9" r="0.5" fill="rgb(120,120,120)" fill-opacity="0.7"/>
<circle cx="538.8" cy="405.0" r="0.8" fill="rgb(45,45,45)" fill-opacity="0.7"/>
<circle cx="533.3" cy="390.0" r="0.7" fill="rgb(140,140,140)" fill-opacity="0.7"/>
<circle cx="523.9" cy="408.5" r="0.8" fill="rgb(35,35,35)" fill-opacity="0.7"/>
<circle cx="534.9" cy="415.6" r="0.6" fill="rgb(140,140,140)" fill-opacity="0.7"/>
<circle cx="557.0" cy="388.8" r="0.6" fill="rgb(120,120,120)" fill-opacity="0.7"/>
<circle cx="547.2" cy="420.7" r="0.8" fill="rgb(140,140,140)" fill-opacity="0.7"/>
<circle cx="556.2" cy="374.6" r="0.5" fill="rgb(35,35,35)" fill-opacity="0.7"/>
<circle cx="557.8" cy="388.6" r="0.9" fill="rgb(45,45,45)" fill-opacity="0.7"/>
<circle cx="578.1" cy="389.4" r="0.6" fill="rgb(35,35,35)" fill-opacity="0.7"/>
<circle cx="567.1" cy="409.0" r="0.9" fill="rgb(45,45,45)" fill-opacity="0.7"/>
<circle cx="554.6" cy="382.4" r="0.6" fill="rgb(45,45,45)" fill-opacity="0.7"/>
<circle cx="561.9" cy="383.9" r="0.7" fill="rgb(35,35,35)" fill-opacity="0.7"/>
<circle cx="547.0" cy="415.4" r="0.7" fill="rgb(140,140,140)" fill-opacity="0.7"/>
<circle cx="530.4" cy="406.6" r="0.7" fill="rgb(120,120,120)" fill-opacity="0.7"/>
<circle cx="540.0" cy="394.4" r="0.7" fill="rgb(45,45,45)" fill-opacity="0.7"/>
<circle cx="568.4" cy="392.7" r="0.4" fill="rgb(140,140,140)" fill-opacity="0.7"/>
<circle cx="572.2" cy="386.3" r="0.5" fill="rgb(120,120,120)" fill-opacity="0.7"/>
<circle cx="562.4" cy="399.9" r="0.6" fill="rgb(35,35,35)" fill-opacity="0.7"/>
<circle cx="547.7" cy="364.1" r="0.9" fill="rgb(45,45,45)" fill-opacity="0.7"/>
<circle cx="548.9" cy="402.5" r="0.4" fill="rgb(140,140,140)" fill-opacity="0.7"/>
<circle cx="564.2" cy="370.7" r="0.8" fill="rgb(45,45,45)" fill-opacity="0.7"/>
<circle cx="548.2" cy="420.2" r="0.4" fill="rgb(35,35,35)" fill-opacity="0.7"/>
<circle cx="567.1" cy="382.3" r="0.7" fill="rgb(35,35,35)" fill-opacity="0.7"/>
<circle cx="542.3" cy="374.8" r="0.9" fill="rgb(140,140,140)" fill-opacity="0.7"/>
<circle cx="550.5" cy="411.2" r="0.8" fill="rgb(35,35,35)" fill-opacity="0.7"/>
<circle cx="553.2" cy="370.1" r="0.7" fill="rgb(140,140,140)" fill-opacity="0.7"/>
<circle cx="527.4" cy="376.1" r="0.6" fill="rgb(140,140,140)" fill-opacity="0.7"/>
<circle cx="521.9" cy="405.3" r="0.5" fill="rgb(45,45,45)" fill-opacity="0.7"/>
<circle cx="567.4" cy="406.1" r="0.5" fill="rgb(140,140,140)" fill-opacity="0.7"/>
<circle cx="547.7" cy="365.4" r="0.7" fill="rgb(45,45,45)" fill-opacity="0.7"/>
<circle cx="574.3" cy="405.3" r="0.9" fill="rgb(45,45,45)" fill-opacity="0.7"/>
<circle cx="532.4" cy="407.6" r="0.7" fill="rgb(45,45,45)" fill-opacity="0.7"/>
<circle cx="564.2" cy="408.2" r="0.5" fill="rgb(45,45,45)" fill-opacity="0.7"/>
<circle cx="567.7" cy="380.3" r="0.6" fill="rgb(45,45,45)" fill-opacity="0.7"/>
<circle cx="575.5" cy="379.0" r="0.4" fill="rgb(120,120,120)" fill-opacity="0.7"/>
<circle cx="546.3" cy="371.7" r="0.7" fill="rgb(140,140,140)" fill-opacity="0.7"/>
<circle cx="568.0" cy="413.3" r="0.5" fill="rgb(120,120,120)" fill-opacity="0.7"/>
<circle cx="558.9" cy="395.0" r="0.6" fill="rgb(140,140,140)" fill-opacity="0.7"/>
<circle cx="540.3" cy="405.2" r="0.5" fill="rgb(140,140,140)" fill-opacity="0.7"/>
<circle cx="566.1" cy="412.8" r="0.5" fill="rgb(120,120,120)" fill-opacity="0.7"/>
<circle cx="552.7" cy="365.0" r="0.6" fill="rgb(140,140,140)" fill-opacity="0.7"/>
<circle cx="528.5" cy="405.3" r="0.8" fill="rgb(45,45,45)" fill-opacity="0.7"/>
<circle cx="561.1" cy="369.5" r="0.6" fill="rgb(120,120,120)" fill-opacity="0.7"/>
<circle cx="553.1" cy="413.7" r="0.5" fill="rgb(120,120,120)" fill-opacity="0.7"/>
<circle cx="540.6" cy="382.5" r="0.5" fill="rgb(140,140,140)" fill-opacity="0.7"/>
<circle cx="546.7" cy="373.2" r="0.9" fill="rgb(35,35,35)" fill-opacity="0.7"/>
<circle cx="548.3" cy="389.9" r="0.5" fill="rgb(120,120,120)" fill-opacity="0.7"/>
<circle cx="541.9" cy="366.3" r="0.7" fill="rgb(35,35,35)" fill-opacity="0.7"/>
<circle cx="520.5" cy="399.8" r="0.7" fill="rgb(45,45,45)" fill-opacity="0.7"/>
<circle cx="524.8" cy="395.7" r="0.6" fill="rgb(140,140,140)" fill-opacity="0.7"/>
<circle cx="557.0" cy="393.7" r="0.6" fill="rgb(140,140,140)" fill-opacity="0.7"/>
<circle cx="547.6" cy="422.9" r="0.6" fill="rgb(120,120,120)" fill-opacity="0.7"/>
<circle cx="530.6" cy="405.5" r="0.5" fill="rgb(35,35,35)" fill-opacity="0.7"/>
<circle cx="545.9" cy="412.7" r="0.8" fill="rgb(35,35,35)" fill-opacity="0.7"/>
<circle cx="546.1" cy="419.4" r="0.7" fill="rgb(140,140,140)" fill-opacity="0.7"/>
<circle cx="563.4" cy="383.3" r="0.6" fill="rgb(120,120,120)" fill-opacity="0.7"/>
<circle cx="563.2" cy="404.1" r="0.5" fill="rgb(140,140,140)" fill-opacity="0.7"/>
<circle cx="569.4" cy="384.9" r="0.8" fill="rgb(120,120,120)" fill-opacity="0.7"/>
<circle cx="559.8" cy="389.8" r="0.6" fill="rgb(45,45,45)" fill-opacity="0.7"/>
<circle cx="553.1" cy="414.4" r="0.7" fill="rgb(45,45,45)" fill-opacity="0.7"/>
<circle cx="546.9" cy="373.3" r="0.9" fill="rgb(140,140,140)" fill-opacity="0.7"/>
<circle cx="524.6" cy="381.4" r="0.5" fill="rgb(120,120,120)" fill-opacity="0.7"/>
<circle cx="545.4" cy="384.8" r="0.8" fill="rgb(35,35,35)" fill-opacity="0.7"/>
<circle cx="520.2" cy="392.4" r="0.8" fill="rgb(35,35,35)" fill-opacity="0.7"/>
<circle cx="543.4" cy="375.6" r="0.4" fill="rgb(140,140,140)" fill-opacity="0.7"/>
<circle cx="526.2" cy="387.3" r="0.7" fill="rgb(120,120,120)" fill-opacity="0.7"/>
<circle cx="538.6" cy="374.6" r="0.5" fill="rgb(120,120,120)" fill-opacity="0.7"/>
<circle cx="574.9" cy="399.8" r="0.4" fill="rgb(120,120,120)" fill-opacity="0.7"/>
<circle cx="535.7" cy="390.3" r="0.5" fill="rgb(45,45,45)" fill-opacity="0.7"/>
<circle cx="546.5" cy="388.8" r="0.6" fill="rgb(140,140,140)" fill-opacity="0.7"/>
<circle cx="542.3" cy="365.5" r="0.8" fill="rgb(45,45,45)" fill-opacity="0.7"/>
<circle cx="558.0" cy="402.5" r="0.6" fill="rgb(120,120,120)" fill-opacity="0.7"/>
<circle cx="551.2" cy="365.4" r="0.5" fill="rgb(45,45,45)" fill-opacity="0.7"/>
<circle cx="559.4" cy="395.1" r="0.5" fill="rgb(45,45,45)" fill-opacity="0.7"/>
<circle cx="525.7" cy="379.4" r="0.8" fill="rgb(45,45,45)" fill-opacity="0.7"/>
<circle cx="565.7" cy="412.3" r="0.8" fill="rgb(140,140,140)" fill-opacity="0.7"/>
<circle cx="566.8" cy="403.2" r="0.9" fill="rgb(120,120,120)" fill-opacity="0.7"/>
<circle cx="557.2" cy="390.5" r="0.8" fill="rgb(140,140,140)" fill-opacity="0.7"/>
<circle cx="543.5" cy="378.1" r="0.9" fill="rgb(35,35,35)" fill-opacity="0.7"/>
<circle cx="540.2" cy="405.2" r="0.9" fill="rgb(35,35,35)" fill-opacity="0.7"/>
<circle cx="565.5" cy="391.3" r="0.4" fill="rgb(35,35,35)" fill-opacity="0.7"/>
<circle cx="527.1" cy="411.5" r="0.8" fill="rgb(35,35,35)" fill-opacity="0.7"/>
<circle cx="534.2" cy="380.3" r="0.5" fill="rgb(120,120,120)" fill-opacity="0.7"/>
<circle cx="555.1" cy="400.8" r="0.4" fill="rgb(140,140,140)" fill-opacity="0.7"/>
<circle cx="532.6" cy="369.0" r="0.5" fill="rgb(35,35,35)" fill-opacity="0.7"/>
<circle cx="522.2" cy="403.7" r="0.9" fill="rgb(35,35,35)" fill-opacity="0.7"/>
<circle cx="536.8" cy="378.4" r="0.7" fill="rgb(45,45,45)" fill-opacity="0.7"/>
<circle cx="559.9" cy="375.9" r="0.8" fill="rgb(120,120,120)" fill-opacity="0.7"/>
<circle cx="538.3" cy="409.3" r="0.6" fill="rgb(120,120,120)" fill-opacity="0.7"/>
<circle cx="567.8" cy="381.4" r="0.7" fill="rgb(45,45,45)" fill-opacity="0.7"/>
<circle cx="532.3" cy="410.2" r="0.5" fill="rgb(35,35,35)" fill-opacity="0.7"/>
<circle cx="567.2" cy="403.8" r="0.6" fill="rgb(45,45,45)" fill-opacity="0.7"/>
<circle cx="544.3" cy="406.0" r="0.8" fill="rgb(140,140,140)" fill-opacity="0.7"/>
<circle cx="557.3" cy="410.5" r="0.8" fill="rgb(120,120,120)" fill-opacity="0.7"/>
<circle cx="528.4" cy="411.2" r="0.7" fill="rgb(120,120,120)" fill-opacity="0.7"/>
<circle cx="526.9" cy="377.5" r="0.5" fill="rgb(35,35,35)" fill-opacity="0.7"/>
<circle cx="569.1" cy="377.5" r="0.8" fill="rgb(45,45,45)" fill-opacity="0.7"/>
<circle cx="542.9" cy="388.3" r="0.7" fill="rgb(45,45,45)" fill-opacity="0.7"/>
<circle cx="551.4" cy="363.7" r="0.7" fill="rgb(35,35,35)" fill-opacity="0.7"/>
<circle cx="542.7" cy="368.7" r="0.4" fill="rgb(45,45,45)" fill-opacity="0.7"/>
<circle cx="542.3" cy="393.3" r="0.8" fill="rgb(35,35,35)" fill-opacity="0.7"/>
<circle cx="533.4" cy="410.3" r="0.4" fill="rgb(140,140,140)" fill-opacity="0.7"/>
<circle cx="520.5" cy="397.7" r="0.6" fill="rgb(35,35,35)" fill-opacity="0.7"/>
<circle cx="559.1" cy="413.1" r="0.5" fill="rgb(45,45,45)" fill-opacity="0.7"/>
<circle cx="550.1" cy="402.0" r="0.7" fill="rgb(120,120,120)" fill-opacity="0.7"/>
<circle cx="562.3" cy="413.1" r="0.7" fill="rgb(120,120,120)" fill-opacity="0.7"/>
<circle cx="546.4" cy="373.4" r="0.4" fill="rgb(120,120,120)" fill-opacity="0.7"/>
<circle cx="532.1" cy="386.9" r="0.8" fill="rgb(140,140,140)" fill-opacity="0.7"/>
<circle cx="526.5" cy="382.0" r="0.7" fill="rgb(45,45,45)" fill-opacity="0.7"/>
<circle cx="541.6" cy="372.1" r="0.7" fill="rgb(45,45,45)" fill-opacity="0.7"/>
<circle cx="546.7" cy="406.3" r="0.6" fill="rgb(120,120,120)" fill-opacity="0.7"/>
<circle cx="551.5" cy="389.9" r="0.5" fill="rgb(35,35,35)" fill-opacity="0.7"/>
<circle cx="542.2" cy="381.3" r="0.5" fill="rgb(45,45,45)" fill-opacity="0.7"/>
<circle cx="563.9" cy="366.9" r="0.9" fill="rgb(35,35,35)" fill-opacity="0.7"/>
<circle cx="572.0" cy="406.5" r="0.6" fill="rgb(35,35,35)" fill-opacity="0.7"/>
<circle cx="557.4" cy="420.3" r="0.7" fill="rgb(120,120,120)" fill-opacity="0.7"/>
<circle cx="567.4" cy="391.8" r="0.6" fill="rgb(35,35,35)" fill-opacity="0.7"/>
<circle cx="572.6" cy="405.0" r="0.9" fill="rgb(140,140,140)" fill-opacity="0.7"/>
<circle cx="526.6" cy="411.9" r="0.6" fill="rgb(140,140,140)" fill-opacity="0.7"/>
<circle cx="555.2" cy="375.3" r="0.7" fill="rgb(140,140,140)" fill-opacity="0.7"/>
<circle cx="554.4" cy="382.5" r="0.6" fill="rgb(35,35,35)" fill-opacity="0.7"/>
<circle cx="534.8" cy="370.0" r="0.5" fill="rgb(120,120,120)" fill-opacity="0.7"/>
<circle cx="546.6" cy="413.2" r="0.4" fill="rgb(35,35,35)" fill-opacity="0.7"/>
<circle cx="526.7" cy="389.0" r="0.7" fill="rgb(120,120,120)" fill-opacity="0.7"/>
<circle cx="564.4" cy="375.8" r="0.7" fill="rgb(140,140,140)" fill-opacity="0.7"/>
<circle cx="545.7" cy="399.4" r="0.8" fill="rgb(140,140,140)" fill-opacity="0.7"/>
<circle cx="556.5" cy="414.9" r="0.7" fill="rgb(45,45,45)" fill-opacity="0.7"/>
<circle cx="541.8" cy="374.5" r="0.8" fill="rgb(35,35,35)" fill-opacity="0.7"/>
<circle cx="552.0" cy="415.1" r="0.7" fill="rgb(45,45,45)" fill-opacity="0.7"/>
<circle cx="541.2" cy="366.8" r="0.4" fill="rgb(120,120,120)" fill-opacity="0.7"/>
<circle cx="527.1" cy="408.1" r="0.5" fill="rgb(120,120,120)" fill-opacity="0.7"/>
<circle cx="555.2" cy="368.4" r="0.8" fill="rgb(120,120,120)" fill-opacity="0.7"/>
<circle cx="566.8" cy="409.7" r="0.9" fill="rgb(35,35,35)" fill-opacity="0.7"/>
<circle cx="574.8" cy="398.5" r="0.6" fill="rgb(45,45,45)" fill-opacity="0.7"/>
<circle cx="563.6" cy="407.2" r="0.5" fill="rgb(140,140,140)" fill-opacity="0.7"/>
<circle cx="549.8" cy="389.1" r="0.7" fill="rgb(45,45,45)" fill-opacity="0.7"/>
<circle cx="555.8" cy="407.3" r="0.6" fill="rgb(140,140,140)" fill-opacity="0.7"/>
<circle cx="535.6" cy="381.9" r="0.6" fill="rgb(120,120,120)" fill-opacity="0.7"/>
<circle cx="567.3" cy="374.2" r="0.9" fill="rgb(120,120,120)" fill-opacity="0.7"/>
<circle cx="557.7" cy="394.6" r="0.8" fill="rgb(120,120,120)" fill-opacity="0.7"/>
<circle cx="534.7" cy="388.2" r="0.7" fill="rgb(45,45,45)" fill-opacity="0.7"/>
<circle cx="564.7" cy="380.6" r="0.7" fill="rgb(140,140,140)" fill-opacity="0.7"/>
<circle cx="530.2" cy="415.3" r="0.6" fill="rgb(140,140,140)" fill-opacity="0.7"/>
<circle cx="525.2" cy="381.2" r="0.9" fill="rgb(35,35,35)" fill-opacity="0.7"/>
<circle cx="536.4" cy="381.2" r="0.5" fill="rgb(120,120,120)" fill-opacity="0.7"/>
<circle cx="566.6" cy="395.1" r="0.6" fill="rgb(120,120,120)" fill-opacity="0.7"/>
<circle cx="527.8" cy="407.7" r="0.6" fill="rgb(35,35,35)" fill-opacity="0.7"/>
<circle cx="572.8" cy="399.4" r="0.4" fill="rgb(45,45,45)" fill-opacity="0.7"/>
<circle cx="571.5" cy="402.0" r="0.7" fill="rgb(120,120,120)" fill-opacity="0.7"/>
<circle cx="521.0" cy="392.1" r="0.6" fill="rgb(45,45,45)" fill-opacity="0.7"/>
<circle cx="533.5" cy="402.5" r="0.8" fill="rgb(45,45,45)" fill-opacity="0.7"/>
<circle cx="564.2" cy="397.4" r="0.8" fill="rgb(120,120,120)" fill-opacity="0.7"/>
<circle cx="569.5" cy="403.3" r="0.6" fill="rgb(140,140,140)" fill-opacity="0.7"/>
<circle cx="554.5" cy="363.5" r="0.7" fill="rgb(140,140,140)" fill-opacity="0.7"/>
<circle cx="537.5" cy="396.0" r="0.8" fill="rgb(140,140,140)" fill-opacity="0.7"/>
<circle cx="540.1" cy="367.0" r="0.5" fill="rgb(45,45,45)" fill-opacity="0.7"/>
<circle cx="561.2" cy="397.9" r="0.6" fill="rgb(45,45,45)" fill-opacity="0.7"/>
<circle cx="531.5" cy="395.1" r="0.5" fill="rgb(140,140,140)" fill-opacity="0.7"/>
<circle cx="544.6" cy="380.2" r="0.8" fill="rgb(35,35,35)" fill-opacity="0.7"/>
<circle cx="546.4" cy="394.0" r="0.4" fill="rgb(140,140,140)" fill-opacity="0.7"/>
<circle cx="561.8" cy="381.9" r="0.6" fill="rgb(45,45,45)" fill-opacity="0.7"/>
<circle cx="559.9" cy="410.0" r="0.9" fill="rgb(140,140,140)" fill-opacity="0.7"/>
<circle cx="533.2" cy="381.5" r="0.6" fill="rgb(120,120,120)" fill-opacity="0.7"/>
<circle cx="550.2" cy="383.1" r="0.6" fill="rgb(140,140,140)" fill-opacity="0.7"/>
<circle cx="561.4" cy="373.8" r="0.9" fill="rgb(45,45,45)" fill-opacity="0.7"/>
<circle cx="536.5" cy="420.2" r="0.4" fill="rgb(35,35,35)" fill-opacity="0.7"/>
<circle cx="566.7" cy="393.9" r="0.5" fill="rgb(140,140,140)" fill-opacity="0.7"/>
<circle cx="539.7" cy="382.3" r="0.6" fill="rgb(120,120,120)" fill-opacity="0.7"/>
<circle cx="556.1" cy="417.0" r="0.6" fill="rgb(120,120,120)" fill-opacity="0.7"/>
<circle cx="535.5" cy="415.0" r="0.8" fill="rgb(35,35,35)" fill-opacity="0.7"/>
<circle cx="525.6" cy="377.7" r="0.4" fill="rgb(120,120,120)" fill-opacity="0.7"/>
<circle cx="574.5" cy="381.5" r="0.7" fill="rgb(35,35,35)" fill-opacity="0.7"/>
<circle cx="568.1" cy="388.4" r="0.5" fill="rgb(35,35,35)" fill-opacity="0.7"/>
<circle cx="570.1" cy="410.8" r="0.7" fill="rgb(35,35,35)" fill-opacity="0.7"/>
<circle cx="570.0" cy="382.9" r="0.9" fill="rgb(45,45,45)" fill-opacity="0.7"/>
<circle cx="543.4" cy="385.7" r="0.5" fill="rgb(120,120,120)" fill-opacity="0.7"/>
<circle cx="534.3" cy="379.6" r="0.5" fill="rgb(45,45,45)" fill-opacity="0.7"/>
<circle cx="552.1" cy="385.0" r="0.5" fill="rgb(120,120,120)" fill-opacity="0.7"/>
<circle cx="547.3" cy="392.9" r="0.6" fill="rgb(45,45,45)" fill-opacity="0.7"/>
<circle cx="543.8" cy="413.7" r="0.9" fill="rgb(140,140,140)" fill-opacity="0.7"/>
<circle cx="544.7" cy="408.0" r="0.8" fill="rgb(140,140,140)" fill-opacity="0.7"/>
<circle cx="573.1" cy="397.6" r="0.9" fill="rgb(140,140,140)" fill-opacity="0.7"/>
<circle cx="558.2" cy="387.4" r="0.8" fill="rgb(140,140,140)" fill-opacity="0.7"/>
<circle cx="549.6" cy="409.2" r="0.9" fill="rgb(45,45,45)" fill-opacity="0.7"/>
<circle cx="550.8" cy="398.4" r="0.4" fill="rgb(120,120,120)" fill-opacity="0.7"/>
<circle cx="538.1" cy="382.5" r="0.5" fill="rgb(140,140,140)" fill-opacity="0.7"/>
<circle cx="526.4" cy="402.8" r="0.7" fill="rgb(45,45,45)" fill-opacity="0.7"/>
<circle cx="540.4" cy="390.2" r="0.6" fill="rgb(45,45,45)" fill-opacity="0.7"/>
<circle cx="544.8" cy="376.2" r="0.4" fill="rgb(35,35,35)" fill-opacity="0.7"/>
<circle cx="553.3" cy="381.9" r="0.5" fill="rgb(140,140,140)" fill-opacity="0.7"/>
<circle cx="555.9" cy="365.4" r="0.4" fill="rgb(45,45,45)" fill-opacity="0.7"/>
<circle cx="575.1" cy="395.5" r="0.8" fill="rgb(45,45,45)" fill-opacity="0.7"/>
<circle cx="531.7" cy="395.0" r="0.6" fill="rgb(140,140,140)" fill-opacity="0.7"/>
<circle cx="527.8" cy="381.9" r="0.9" fill="rgb(35,35,35)" fill-opacity="0.7"/>
<circle cx="546.3" cy="388.1" r="0.6" fill="rgb(140,140,140)" fill-opacity="0.7"/>
<circle cx="570.2" cy="406.1" r="0.8" fill="rgb(35,35,35)" fill-opacity="0.7"/>
<circle cx="534.0" cy="387.5" r="0.6" fill="rgb(45,45,45)" fill-opacity="0.7"/>
<circle cx="549.8" cy="391.9" r="0.4" fill="rgb(35,35,35)" fill-opacity="0.7"/>
<circle cx="527.5" cy="413.8" r="0.4" fill="rgb(45,45,45)" fill-opacity="0.7"/>
<circle cx="540.3" cy="394.9" r="0.7" fill="rgb(120,120,120)" fill-opacity="0.7"/>
<circle cx="561.8" cy="371.8" r="0.7" fill="rgb(120,120,120)" fill-opacity="0.7"/>
<circle cx="544.7" cy="403.3" r="0.5" fill="rgb(35,35,35)" fill-opacity="0.7"/>
<circle cx="547.4" cy="387.2" r="0.7" fill="rgb(35,35,35)" fill-opacity="0.7"/>
<circle cx="574.7" cy="386.9" r="0.8" fill="rgb(120,120,120)" fill-opacity="0.7"/>
<circle cx="545.9" cy="406.1" r="0.5" fill="rgb(35,35,35)" fill-opacity="0.7"/>
<circle cx="555.1" cy="396.6" r="0.5" fill="rgb(120,120,120)" fill-opacity="0.7"/>
<circle cx="538.0" cy="372.6" r="0.8" fill="rgb(120,120,120)" fill-opacity="0.7"/>
<circle cx="533.4" cy="380.1" r="0.6" fill="rgb(45,45,45)" fill-opacity="0.7"/>
<circle cx="561.6" cy="383.4" r="0.8" fill="rgb(140,140,140)" fill-opacity="0.7"/>
<circle cx="550.1" cy="404.4" r="0.8" fill="rgb(45,45,45)" fill-opacity="0.7"/>
<circle cx="557.2" cy="421.6" r="0.6" fill="rgb(35,35,35)" fill-opacity="0.7"/>
<circle cx="523.5" cy="393.0" r="0.5" fill="rgb(140,140,140)" fill-opacity="0.7"/>
<circle cx="572.4" cy="398.6" r="0.8" fill="rgb(120,120,120)" fill-opacity="0.7"/>
<circle cx="569.0" cy="376.0" r="0.9" fill="rgb(120,120,120)" fill-opacity="0.7"/>
<circle cx="530.9" cy="413.6" r="0.8" fill="rgb(140,140,140)" fill-opacity="0.7"/>
<circle cx="536.8" cy="369.2" r="0.7" fill="rgb(45,45,45)" fill-opacity="0.7"/>
<circle cx="524.5" cy="386.6" r="0.8" fill="rgb(120,120,120)" fill-opacity="0.7"/>
<circle cx="555.4" cy="406.2" r="0.5" fill="rgb(35,35,35)" fill-opacity="0.7"/>
<circle cx="552.4" cy="412.5" r="0.5" fill="rgb(120,120,120)" fill-opacity="0.7"/>
<circle cx="546.5" cy="412.6" r="0.9" fill="rgb(120,120,120)" fill-opacity="0.7"/>
<circle cx="528.2" cy="401.1" r="0.8" fill="rgb(45,45,45)" fill-opacity="0.7"/>
<circle cx="557.6" cy="419.4" r="0.5" fill="rgb(120,120,120)" fill-opacity="0.7"/>
<circle cx="540.0" cy="416.0" r="0.6" fill="rgb(140,140,140)" fill-opacity="0.7"/>
<circle cx="531.4" cy="401.3" r="0.5" fill="rgb(45,45,45)" fill-opacity="0.7"/>
<circle cx="542.0" cy="407.4" r="0.8" fill="rgb(140,140,140)" fill-opacity="0.7"/>
<circle cx="557.5" cy="365.4" r="0.8" fill="rgb(140,140,140)" fill-opacity="0.7"/>
<circle cx="573.8" cy="403.5" r="0.8" fill="rgb(120,120,120)" fill-opacity="0.7"/>
<circle cx="556.9" cy="419.7" r="0.6" fill="rgb(120,120,120)" fill-opacity="0.7"/>
<circle cx="560.8" cy="394.2" r="0.7" fill="rgb(35,35,35)" fill-opacity="0.7"/>
<circle cx="534.6" cy="396.1" r="0.7" fill="rgb(35,35,35)" fill-opacity="0.7"/>
<circle cx="569.0" cy="382.9" r="0.5" fill="rgb(35,35,35)" fill-opacity="0.7"/>
<circle cx="535.2" cy="393.0" r="0.4" fill="rgb(120,120,120)" fill-opacity="0.7"/>
<circle cx="549.6" cy="366.0" r="0.7" fill="rgb(45,45,45)" fill-opacity="0.7"/>
<circle cx="559.3" cy="415.8" r="0.4" fill="rgb(140,140,140)" fill-opacity="0.7"/>
<circle cx="564.0" cy="411.3" r="0.8" fill="rgb(45,45,45)" fill-opacity="0.7"/>
<circle cx="561.9" cy="374.6" r="0.8" fill="rgb(35,35,35)" fill-opacity="0.7"/>
<circle cx="562.4" cy="396.3" r="0.5" fill="rgb(140,140,140)" fill-opacity="0.7"/>
<circle cx="548.8" cy="382.2" r="0.5" fill="rgb(120,120,120)" fill-opacity="0.7"/>
<circle cx="569.0" cy="398.6" r="0.5" fill="rgb(35,35,35)" fill-opacity="0.7"/>
<circle cx="545.8" cy="371.2" r="0.9" fill="rgb(120,120,120)" fill-opacity="0.7"/>
<circle cx="552.4" cy="386.8" r="0.5" fill="rgb(35,35,35)" fill-opacity="0.7"/>
<circle cx="571.2" cy="375.9" r="0.4" fill="rgb(120,120,120)" fill-opacity="0.7"/>
<circle cx="544.7" cy="411.5" r="0.6" fill="rgb(120,120,120)" fill-opacity="0.7"/>
<circle cx="520.2" cy="395.5" r="0.8" fill="rgb(35,35,35)" fill-opacity="0.7"/>
<circle cx="554.6" cy="409.5" r="0.4" fill="rgb(140,140,140)" fill-opacity="0.7"/>
<circle cx="534.1" cy="394.2" r="0.6" fill="rgb(140,140,140)" fill-opacity="0.7"/>
<circle cx="566.2" cy="384.7" r="0.5" fill="rgb(120,120,120)" fill-opacity="0.7"/>
<circle cx="526.6" cy="401.8" r="0.7" fill="rgb(35,35,35)" fill-opacity="0.7"/>
<circle cx="547.7" cy="386.5" r="0.6" fill="rgb(35,35,35)" fill-opacity="0.7"/>
<circle cx="555.5" cy="383.7" r="0.8" fill="rgb(120,120,120)" fill-opacity="0.7"/>
<circle cx="569.3" cy="405.7" r="0.6" fill="rgb(35,35,35)" fill-opacity="0.7"/>
<circle cx="564.2" cy="392.4" r="0.8" fill="rgb(35,35,35)" fill-opacity="0.7"/>
<circle cx="524.5" cy="388.1" r="0.5" fill="rgb(120,120,120)" fill-opacity="0.7"/>
<circle cx="553.1" cy="414.9" r="0.9" fill="rgb(120,120,120)" fill-opacity="0.7"/>
<circle cx="559.7" cy="382.5" r="0.8" fill="rgb(120,120,120)" fill-opacity="0.7"/>
<circle cx="523.1" cy="390.4" r="0.8" fill="rgb(120,120,120)" fill-opacity="0.7"/>
<circle cx="551.9" cy="400.0" r="0.9" fill="rgb(120,120,120)" fill-opacity="0.7"/>
<circle cx="527.0" cy="405.2" r="0.4" fill="rgb(45,45,45)" fill-opacity="0.7"/>
<circle cx="569.4" cy="413.5" r="0.6" fill="rgb(140,140,140)" fill-opacity="0.7"/>
<circle cx="534.6" cy="388.2" r="0.6" fill="rgb(35,35,35)" fill-opacity="0.7"/>
<circle cx="539.1" cy="418.3" r="0.6" fill="rgb(140,140,140)" fill-opacity="0.7"/>
<circle cx="568.2" cy="381.7" r="0.8" fill="rgb(35,35,35)" fill-opacity="0.7"/>
<circle cx="543.3" cy="365.4" r="0.9" fill="rgb(140,140,140)" fill-opacity="0.7"/>
<circle cx="568.8" cy="390.8" r="0.9" fill="rgb(35,35,35)" fill-opacity="0.7"/>
<circle cx="545.9" cy="370.0" r="0.5" fill="rgb(45,45,45)" fill-opacity="0.7"/>
<circle cx="535.9" cy="377.7" r="0.8" fill="rgb(120,120,120)" fill-opacity="0.7"/>
<circle cx="533.6" cy="398.5" r="0.7" fill="rgb(120,120,120)" fill-opacity="0.7"/>
<circle cx="566.2" cy="402.8" r="0.8" fill="rgb(35,35,35)" fill-opacity="0.7"/>
<circle cx="527.5" cy="402.8" r="0.4" fill="rgb(140,140,140)" fill-opacity="0.7"/>
<circle cx="561.2" cy="372.7" r="0.7" fill="rgb(140,140,140)" fill-opacity="0.7"/>
<circle cx="552.9" cy="374.1" r="0.5" fill="rgb(120,120,120)" fill-opacity="0.7"/>
<circle cx="553.5" cy="391.2" r="0.7" fill="rgb(35,35,35)" fill-opacity="0.7"/>
<circle cx="572.8" cy="399.8" r="0.7" fill="rgb(120,120,120)" fill-opacity="0.7"/>
<circle cx="537.8" cy="368.8" r="0.5" fill="rgb(35,35,35)" fill-opacity="0.7"/>
<circle cx="551.5" cy="371.4" r="0.8" fill="rgb(35,35,35)" fill-opacity="0.7"/>
<circle cx="572.4" cy="377.0" r="0.6" fill="rgb(120,120,120)" fill-opacity="0.7"/>
<circle cx="577.6" cy="386.9" r="0.9" fill="rgb(35,35,35)" fill-opacity="0.7"/>
<circle cx="573.3" cy="401.1" r="0.4" fill="rgb(45,45,45)" fill-opacity="0.7"/>
<circle cx="555.3" cy="407.8" r="0.6" fill="rgb(35,35,35)" fill-opacity="0.7"/>
<circle cx="567.2" cy="399.1" r="0.5" fill="rgb(140,140,140)" fill-opacity="0.7"/>
<circle cx="573.7" cy="409.1" r="0.8" fill="rgb(45,45,45)" fill-opacity="0.7"/>
<circle cx="535.9" cy="396.9" r="0.6" fill="rgb(140,140,140)" fill-opacity="0.7"/>
<circle cx="535.0" cy="410.3" r="0.8" fill="rgb(45,45,45)" fill-opacity="0.7"/>
<circle cx="522.9" cy="378.5" r="0.8" fill="rgb(35,35,35)" fill-opacity="0.7"/>
<circle cx="534.5" cy="387.2" r="0.8" fill="rgb(120,120,120)" fill-opacity="0.7"/>
<circle cx="544.7" cy="404.8" r="0.5" fill="rgb(35,35,35)" fill-opacity="0.7"/>
<circle cx="560.1" cy="382.5" r="0.5" fill="rgb(140,140,140)" fill-opacity="0.7"/>
<circle cx="573.4" cy="396.1" r="0.5" fill="rgb(35,35,35)" fill-opacity="0.7"/>
<circle cx="557.2" cy="364.7" r="0.9" fill="rgb(140,140,140)" fill-opacity="0.7"/>
<circle cx="576.3" cy="381.1" r="0.5" fill="rgb(35,35,35)" fill-opacity="0.7"/>
<circle cx="550.2" cy="399.6" r="0.9" fill="rgb(120,120,120)" fill-opacity="0.7"/>
<circle cx="555.6" cy="416.0" r="0.5" fill="rgb(45,45,45)" fill-opacity="0.7"/>
<circle cx="550.8" cy="420.8" r="0.8" fill="rgb(120,120,120)" fill-opacity="0.7"/>
<circle cx="529.7" cy="375.0" r="0.8" fill="rgb(140,140,140)" fill-opacity="0.7"/>
<circle cx="533.5" cy="401.4" r="0.8" fill="rgb(120,120,120)" fill-opacity="0.7"/>
<circle cx="526.8" cy="401.1" r="0.7" fill="rgb(120,120,120)" fill-opacity="0.7"/>
<circle cx="531.8" cy="391.5" r="0.5" fill="rgb(120,120,120)" fill-opacity="0.7"/>
<circle cx="522.9" cy="407.8" r="0.4" fill="rgb(120,120,120)" fill-opacity="0.7"/>
<circle cx="553.7" cy="408.5" r="0.8" fill="rgb(35,35,35)" fill-opacity="0.7"/>
<circle cx="562.4" cy="379.0" r="0.6" fill="rgb(140,140,140)" fill-opacity="0.7"/>
<circle cx="571.1" cy="400.1" r="0.5" fill="rgb(120,120,120)" fill-opacity="0.7"/>
<circle cx="565.7" cy="395.7" r="0.4" fill="rgb(120,120,120)" fill-opacity="0.7"/>
<circle cx="554.5" cy="408.2" r="0.6" fill="rgb(140,140,140)" fill-opacity="0.7"/>
<circle cx="573.5" cy="405.1" r="0.9" fill="rgb(45,45,45)" fill-opacity="0.7"/>
<circle cx="562.7" cy="418.7" r="0.5" fill="rgb(140,140,140)" fill-opacity="0.7"/>
<circle cx="558.0" cy="403.2" r="0.8" fill="rgb(35,35,35)" fill-opacity="0.7"/>
<circle cx="543.4" cy="406.6" r="0.9" fill="rgb(35,35,35)" fill-opacity="0.7"/>
<circle cx="564.2" cy="368.9" r="0.6" fill="rgb(45,45,45)" fill-opacity="0.7"/>
<circle cx="553.0" cy="366.6" r="0.9" fill="rgb(140,140,140)" fill-opacity="0.7"/>
<circle cx="561.5" cy="389.9" r="0.7" fill="rgb(45,45,45)" fill-opacity="0.7"/>
<circle cx="535.6" cy="376.8" r="0.8" fill="rgb(35,35,35)" fill-opacity="0.7"/>
<circle cx="546.7" cy="420.0" r="0.7" fill="rgb(120,120,120)" fill-opacity="0.7"/>
<circle cx="531.1" cy="393.8" r="0.4" fill="rgb(120,120,120)" fill-opacity="0.7"/>
<circle cx="532.5" cy="396.0" r="0.6" fill="rgb(120,120,120)" fill-opacity="0.7"/>
<circle cx="537.3" cy="380.5" r="0.5" fill="rgb(120,120,120)" fill-opacity="0.7"/>
<circle cx="553.0" cy="408.2" r="0.5" fill="rgb(140,140,140)" fill-opacity="0.7"/>
<circle cx="536.5" cy="404.5" r="0.5" fill="rgb(140,140,140)" fill-opacity="0.7"/>
<circle cx="547.9" cy="413.3" r="0.5" fill="rgb(120,120,120)" fill-opacity="0.7"/>
<circle cx="537.2" cy="403.3" r="0.8" fill="rgb(120,120,120)" fill-opacity="0.7"/>
<circle cx="550.1" cy="365.2" r="0.8" fill="rgb(140,140,140)" fill-opacity="0.7"/>
<circle cx="539.6" cy="419.0" r="0.5" fill="rgb(45,45,45)" fill-opacity="0.7"/>
<circle cx="559.6" cy="375.6" r="0.8" fill="rgb(140,140,140)" fill-opacity="0.7"/>
<circle cx="549.5" cy="364.9" r="0.6" fill="rgb(45,45,45)" fill-opacity="0.7"/>
<circle cx="547.4" cy="364.3" r="0.6" fill="rgb(35,35,35)" fill-opacity="0.7"/>
<circle cx="546.3" cy="374.4" r="0.7" fill="rgb(45,45,45)" fill-opacity="0.7"/>
<circle cx="529.6" cy="380.2" r="0.4" fill="rgb(35,35,35)" fill-opacity="0.7"/>
<circle cx="544.9" cy="399.2" r="0.4" fill="rgb(35,35,35)" fill-opacity="0.7"/>
<circle cx="571.7" cy="405.5" r="0.4" fill="rgb(45,45,45)" fill-opacity="0.7"/>
<circle cx="551.8" cy="390.9" r="0.9" fill="rgb(35,35,35)" fill-opacity="0.7"/>
<circle cx="530.6" cy="412.8" r="0.9" fill="rgb(45,45,45)" fill-opacity="0.7"/>
<circle cx="552.6" cy="411.6" r="0.6" fill="rgb(140,140,140)" fill-opacity="0.7"/>
<circle cx="539.7" cy="387.2" r="0.4" fill="rgb(45,45,45)" fill-opacity="0.7"/>
<circle cx="529.1" cy="400.4" r="0.5" fill="rgb(45,45,45)" fill-opacity="0.7"/>
<circle cx="554.0" cy="382.5" r="0.9" fill="rgb(140,140,140)" fill-opacity="0.7"/>
<circle cx="533.9" cy="401.3" r="0.5" fill="rgb(120,120,120)" fill-opacity="0.7"/>
<circle cx="544.7" cy="377.3" r="0.5" fill="rgb(120,120,120)" fill-opacity="0.7"/>
<circle cx="543.1" cy="385.4" r="0.8" fill="rgb(45,45,45)" fill-opacity="0.7"/>
<circle cx="565.8" cy="383.3" r="0.7" fill="rgb(45,45,45)" fill-opacity="0.7"/>
<circle cx="569.1" cy="395.8" r="0.7" fill="rgb(120,120,120)" fill-opacity="0.7"/>
<circle cx="573.0" cy="391.0" r="0.5" fill="rgb(140,140,140)" fill-opacity="0.7"/>
<circle cx="527.1" cy="395.8" r="0.9" fill="rgb(45,45,45)" fill-opacity="0.7"/>
<circle cx="524.5" cy="400.1" r="0.4" fill="rgb(120,120,120)" fill-opacity="0.7"/>
<circle cx="555.6" cy="364.6" r="0.4" fill="rgb(140,140,140)" fill-opacity="0.7"/>
<circle cx="548.7" cy="388.7" r="0.6" fill="rgb(45,45,45)" fill-opacity="0.7"/>
<circle cx="564.4" cy="404.4" r="0.6" fill="rgb(140,140,140)" fill-opacity="0.7"/>
<circle cx="553.7" cy="384.3" r="0.7" fill="rgb(140,140,140)" fill-opacity="0.7"/>
<circle cx="531.8" cy="401.3" r="0.8" fill="rgb(140,140,140)" fill-opacity="0.7"/>
<circle cx="546.5" cy="396.8" r="0.7" fill="rgb(120,120,120)" fill-opacity="0.7"/>
<circle cx="561.2" cy="410.5" r="0.7" fill="rgb(120,120,120)" fill-opacity="0.7"/>
<circle cx="533.6" cy="389.6" r="0.7" fill="rgb(140,140,140)" fill-opacity="0.7"/>
<circle cx="569.3" cy="408.0" r="0.8" fill="rgb(120,120,120)" fill-opacity="0.7"/>
<circle cx="570.5" cy="387.4" r="0.7" fill="rgb(45,45,45)" fill-opacity="0.7"/>
<circle cx="570.5" cy="378.9" r="0.7" fill="rgb(140,140,140)" fill-opacity="0.7"/>
<circle cx="537.0" cy="417.3" r="0.5" fill="rgb(35,35,35)" fill-opacity="0.7"/>
<circle cx="554.7" cy="393.2" r="0.9" fill="rgb(35,35,35)" fill-opacity="0.7"/>
<circle cx="530.5" cy="373.4" r="0.9" fill="rgb(45,45,45)" fill-opacity="0.7"/>
<circle cx="537.7" cy="416.3" r="0.4" fill="rgb(140,140,140)" fill-opacity="0.7"/>
<circle cx="538.5" cy="393.0" r="0.5" fill="rgb(35,35,35)" fill-opacity="0.7"/>
<circle cx="532.6" cy="392.1" r="0.9" fill="rgb(140,140,140)" fill-opacity="0.7"/>
<circle cx="561.7" cy="386.7" r="0.9" fill="rgb(45,45,45)" fill-opacity="0.7"/>
<circle cx="546.2" cy="408.9" r="0.5" fill="rgb(140,140,140)" fill-opacity="0.7"/>
<circle cx="562.8" cy="409.4" r="0.4" fill="rgb(35,35,35)" fill-opacity="0.7"/>
<circle cx="562.3" cy="385.1" r="0.5" fill="rgb(45,45,45)" fill-opacity="0.7"/>
<circle cx="538.8" cy="390.8" r="0.7" fill="rgb(140,140,140)" fill-opacity="0.7"/>
<circle cx="564.4" cy="415.8" r="0.6" fill="rgb(45,45,45)" fill-opacity="0.7"/>
<circle cx="548.4" cy="382.9" r="0.7" fill="rgb(140,140,140)" fill-opacity="0.7"/>
<circle cx="530.4" cy="376.7" r="0.9" fill="rgb(120,120,120)" fill-opacity="0.7"/>
<circle cx="578.5" cy="390.2" r="0.7" fill="rgb(140,140,140)" fill-opacity="0.7"/>
<circle cx="574.6" cy="407.3" r="0.7" fill="rgb(140,140,140)" fill-opacity="0.7"/>
<circle cx="544.6" cy="397.6" r="0.7" fill="rgb(120,120,120)" fill-opacity="0.7"/>
<circle cx="563.0" cy="409.7" r="0.8" fill="rgb(120,120,120)" fill-opacity="0.7"/>
<circle cx="573.0" cy="402.5" r="0.5" fill="rgb(35,35,35)" fill-opacity="0.7"/>
<circle cx="564.4" cy="397.5" r="0.6" fill="rgb(45,45,45)" fill-opacity="0.7"/>
<circle cx="526.0" cy="388.9" r="0.9" fill="rgb(140,140,140)" fill-opacity="0.7"/>
<circle cx="533.6" cy="402.8" r="0.6" fill="rgb(120,120,120)" fill-opacity="0.7"/>
<circle cx="568.8" cy="406.2" r="0.5" fill="rgb(140,140,140)" fill-opacity="0.7"/>
<circle cx="560.6" cy="403.9" r="0.8" fill="rgb(120,120,120)" fill-opacity="0.7"/>
<circle cx="533.5" cy="395.0" r="0.5" fill="rgb(120,120,120)" fill-opacity="0.7"/>
<circle cx="553.1" cy="387.4" r="0.4" fill="rgb(120,120,120)" fill-opacity="0.7"/>
<circle cx="539.8" cy="409.3" r="0.6" fill="rgb(120,120,120)" fill-opacity="0.7"/>
<circle cx="528.8" cy="410.8" r="0.4" fill="rgb(140,140,140)" fill-opacity="0.7"/>
<circle cx="561.6" cy="401.9" r="0.4" fill="rgb(120,120,120)" fill-opacity="0.7"/>
<circle cx="547.1" cy="409.0" r="0.8" fill="rgb(140,140,140)" fill-opacity="0.7"/>
<circle cx="531.0" cy="416.2" r="0.6" fill="rgb(140,140,140)" fill-opacity="0.7"/>
<circle cx="527.6" cy="392.9" r="0.9" fill="rgb(140,140,140)" fill-opacity="0.7"/>
<circle cx="576.1" cy="390.5" r="0.6" fill="rgb(140,140,140)" fill-opacity="0.7"/>
<circle cx="556.7" cy="385.3" r="0.9" fill="rgb(45,45,45)" fill-opacity="0.7"/>
<circle cx="533.5" cy="404.0" r="0.5" fill="rgb(45,45,45)" fill-opacity="0.7"/>
<circle cx="540.5" cy="398.5" r="0.7" fill="rgb(35,35,35)" fill-opacity="0.7"/>
<circle cx="540.7" cy="371.3" r="0.7" fill="rgb(120,120,120)" fill-opacity="0.7"/>
<circle cx="549.4" cy="400.5" r="0.9" fill="rgb(35,35,35)" fill-opacity="0.7"/>
<circle cx="549.7" cy="400.0" r="0.8" fill="rgb(140,140,140)" fill-opacity="0.7"/>
<circle cx="530.8" cy="397.7" r="0.5" fill="rgb(45,45,45)" fill-opacity="0.7"/>
<circle cx="537.1" cy="405.4" r="0.8" fill="rgb(35,35,35)" fill-opacity="0.7"/>
<circle cx="537.5" cy="389.7" r="0.4" fill="rgb(120,120,120)" fill-opacity="0.7"/>
<circle cx="544.0" cy="379.9" r="0.6" fill="rgb(120,120,120)" fill-opacity="0.7"/>
<circle cx="532.0" cy="410.7" r="0.5" fill="rgb(45,45,45)" fill-opacity="0.7"/>
<circle cx="563.0" cy="396.4" r="0.8" fill="rgb(35,35,35)" fill-opacity="0.7"/>
<circle cx="532.8" cy="373.6" r="0.6" fill="rgb(120,120,120)" fill-opacity="0.7"/>
<circle cx="524.9" cy="393.1" r="0.4" fill="rgb(35,35,35)" fill-opacity="0.7"/>
<circle cx="558.5" cy="401.6" r="0.9" fill="rgb(45,45,45)" fill-opacity="0.7"/>
<circle cx="557.7" cy="410.3" r="0.6" fill="rgb(35,35,35)" fill-opacity="0.7"/>
<circle cx="557.6" cy="394.9" r="0.7" fill="rgb(35,35,35)" fill-opacity="0.7"/>
<circle cx="526.0" cy="379.8" r="0.5" fill="rgb(35,35,35)" fill-opacity="0.7"/>
<circle cx="572.2" cy="385.8" r="0.4" fill="rgb(120,120,120)" fill-opacity="0.7"/>
<circle cx="570.4" cy="379.0" r="0.7" fill="rgb(45,45,45)" fill-opacity="0.7"/>
<circle cx="558.1" cy="405.6" r="0.8" fill="rgb(120,120,120)" fill-opacity="0.7"/>
<circle cx="569.4" cy="405.4" r="0.6" fill="rgb(120,120,120)" fill-opacity="0.7"/>
<circle cx="540.2" cy="383.0" r="0.6" fill="rgb(35,35,35)" fill-opacity="0.7"/>
<circle cx="536.7" cy="381.7" r="0.5" fill="rgb(140,140,140)" fill-opacity="0.7"/>
<circle cx="554.1" cy="393.0" r="0.5" fill="rgb(35,35,35)" fill-opacity="0.7"/>
<circle cx="554.7" cy="367.4" r="0.4" fill="rgb(35,35,35)" fill-opacity="0.7"/>
<circle cx="566.5" cy="382.5" r="0.4" fill="rgb(140,140,140)" fill-opacity="0.7"/>
<circle cx="546.8" cy="363.2" r="0.7" fill="rgb(35,35,35)" fill-opacity="0.7"/>
<circle cx="536.1" cy="378.3" r="0.7" fill="rgb(140,140,140)" fill-opacity="0.7"/>
<circle cx="540.0" cy="378.4" r="0.9" fill="rgb(45,45,45)" fill-opacity="0.7"/>
<circle cx="542.1" cy="388.5" r="0.6" fill="rgb(140,140,140)" fill-opacity="0.7"/>
<circle cx="528.2" cy="381.5" r="0.8" fill="rgb(120,120,120)" fill-opacity="0.7"/>
<circle cx="524.3" cy="385.9" r="0.6" fill="rgb(35,35,35)" fill-opacity="0.7"/>
<circle cx="534.9" cy="416.7" r="0.5" fill="rgb(45,45,45)" fill-opacity="0.7"/>
<circle cx="520.3" cy="390.6" r="0.7" fill="rgb(140,140,140)" fill-opacity="0.7"/>
<circle cx="561.4" cy="373.5" r="0.7" fill="rgb(35,35,35)" fill-opacity="0.7"/>
<circle cx="555.2" cy="419.2" r="0.5" fill="rgb(35,35,35)" fill-opacity="0.7"/>
<circle cx="547.9" cy="377.8" r="0.7" fill="rgb(140,140,140)" fill-opacity="0.7"/>
<circle cx="572.2" cy="406.1" r="0.4" fill="rgb(35,35,35)" fill-opacity="0.7"/>
<circle cx="568.0" cy="397.8" r="0.8" fill="rgb(120,120,120)" fill-opacity="0.7"/>
<circle cx="548.1" cy="417.1" r="0.7" fill="rgb(140,140,140)" fill-opacity="0.7"/>
<circle cx="551.3" cy="388.3" r="0.8" fill="rgb(140,140,140)" fill-opacity="0.7"/>
<circle cx="550.9" cy="365.6" r="0.6" fill="rgb(140,140,140)" fill-opacity="0.7"/>
<circle cx="575.5" cy="397.4" r="0.4" fill="rgb(140,140,140)" fill-opacity="0.7"/>
<circle cx="569.0" cy="386.1" r="0.8" fill="rgb(140,140,140)" fill-opacity="0.7"/>
<circle cx="578.5" cy="390.7" r="0.7" fill="rgb(120,120,120)" fill-opacity="0.7"/>
<circle cx="520.2" cy="395.6" r="0.6" fill="rgb(45,45,45)" fill-opacity="0.7"/>
<circle cx="559.9" cy="385.7" r="0.8" fill="rgb(120,120,120)" fill-opacity="0.7"/>
<circle cx="563.0" cy="396.5" r="0.5" fill="rgb(120,120,120)" fill-opacity="0.7"/>
<circle cx="554.0" cy="411.0" r="0.5" fill="rgb(45,45,45)" fill-opacity="0.7"/>
<circle cx="561.9" cy="386.5" r="0.4" fill="rgb(45,45,45)" fill-opacity="0.7"/>
<circle cx="528.3" cy="397.3" r="0.8" fill="rgb(140,140,140)" fill-opacity="0.7"/>
<circle cx="569.1" cy="378.7" r="0.4" fill="rgb(140,140,140)" fill-opacity="0.7"/>
<circle cx="554.7" cy="405.1" r="0.5" fill="rgb(35,35,35)" fill-opacity="0.7"/>
<circle cx="556.7" cy="387.4" r="0.4" fill="rgb(35,35,35)" fill-opacity="0.7"/>
<circle cx="548.4" cy="411.3" r="0.5" fill="rgb(140,140,140)" fill-opacity="0.7"/>
<circle cx="537.6" cy="420.1" r="0.6" fill="rgb(35,35,35)" fill-opacity="0.7"/>
<circle cx="548.2" cy="390.3" r="0.5" fill="rgb(35,35,35)" fill-opacity="0.7"/>
<circle cx="538.9" cy="365.4" r="0.6" fill="rgb(120,120,120)" fill-opacity="0.7"/>
<circle cx="562.8" cy="377.4" r="0.6" fill="rgb(120,120,120)" fill-opacity="0.7"/>
<circle cx="550.5" cy="374.6" r="0.6" fill="rgb(120,120,120)" fill-opacity="0.7"/>
<circle cx="537.7" cy="407.7" r="0.6" fill="rgb(120,120,120)" fill-opacity="0.7"/>
<circle cx="575.2" cy="400.8" r="0.6" fill="rgb(140,140,140)" fill-opacity="0.7"/>
<circle cx="557.7" cy="394.4" r="0.6" fill="rgb(120,120,120)" fill-opacity="0.7"/>
<circle cx="532.5" cy="416.5" r="0.5" fill="rgb(140,140,140)" fill-opacity="0.7"/>
<circle cx="530.5" cy="392.7" r="0.6" fill="rgb(120,120,120)" fill-opacity="0.7"/>
<circle cx="549.9" cy="387.5" r="0.6" fill="rgb(35,35,35)" fill-opacity="0.7"/>
<circle cx="547.1" cy="378.4" r="0.8" fill="rgb(35,35,35)" fill-opacity="0.7"/>
<circle cx="542.4" cy="377.0" r="0.9" fill="rgb(140,140,140)" fill-opacity="0.7"/>
<circle cx="557.5" cy="420.6" r="0.6" fill="rgb(35,35,35)" fill-opacity="0.7"/>
<circle cx="522.8" cy="379.6" r="0.5" fill="rgb(35,35,35)" fill-opacity="0.7"/>
<circle cx="569.6" cy="386.8" r="0.8" fill="rgb(35,35,35)" fill-opacity="0.7"/>
<circle cx="543.8" cy="387.8" r="0.6" fill="rgb(35,35,35)" fill-opacity="0.7"/>
<circle cx="565.1" cy="408.5" r="0.5" fill="rgb(140,140,140)" fill-opacity="0.7"/>
<circle cx="570.5" cy="376.0" r="0.7" fill="rgb(120,120,120)" fill-opacity="0.7"/>
<circle cx="570.7" cy="410.2" r="0.6" fill="rgb(120,120,120)" fill-opacity="0.7"/>
<circle cx="576.3" cy="397.5" r="0.7" fill="rgb(120,120,120)" fill-opacity="0.7"/>
<circle cx="542.9" cy="393.4" r="0.8" fill="rgb(35,35,35)" fill-opacity="0.7"/>
<circle cx="540.5" cy="402.2" r="0.4" fill="rgb(45,45,45)" fill-opacity="0.7"/>
<circle cx="529.2" cy="377.7" r="0.6" fill="rgb(120,120,120)" fill-opacity="0.7"/>
<circle cx="551.6" cy="386.2" r="0.7" fill="rgb(45,45,45)" fill-opacity="0.7"/>
<circle cx="571.4" cy="409.0" r="0.7" fill="rgb(120,120,120)" fill-opacity="0.7"/>
<circle cx="550.1" cy="401.6" r="0.9" fill="rgb(120,120,120)" fill-opacity="0.7"/>
<circle cx="556.9" cy="379.2" r="0.5" fill="rgb(35,35,35)" fill-opacity="0.7"/>
<circle cx="574.2" cy="405.5" r="0.6" fill="rgb(45,45,45)" fill-opacity="0.7"/>
<circle cx="530.3" cy="404.0" r="0.8" fill="rgb(140,140,140)" fill-opacity="0.7"/>
<circle cx="559.1" cy="400.1" r="0.6" fill="rgb(140,140,140)" fill-opacity="0.7"/>
<circle cx="523.3" cy="381.3" r="0.5" fill="rgb(45,45,45)" fill-opacity="0.7"/>
<circle cx="566.0" cy="414.6" r="0.6" fill="rgb(45,45,45)" fill-opacity="0.7"/>
<circle cx="558.0" cy="391.1" r="0.4" fill="rgb(45,45,45)" fill-opacity="0.7"/>
<circle cx="532.6" cy="402.4" r="0.8" fill="rgb(45,45,45)" fill-opacity="0.7"/>
<circle cx="556.4" cy="398.2" r="0.7" fill="rgb(120,120,120)" fill-opacity="0.7"/>
<circle cx="552.4" cy="411.1" r="0.5" fill="rgb(35,35,35)" fill-opacity="0.7"/>
<circle cx="535.8" cy="416.2" r="0.5" fill="rgb(45,45,45)" fill-opacity="0.7"/>
<circle cx="525.9" cy="382.3" r="0.7" fill="rgb(120,120,120)" fill-opacity="0.7"/>
<circle cx="550.3" cy="381.4" r="0.7" fill="rgb(120,120,120)" fill-opacity="0.7"/>
<circle cx="542.9" cy="413.1" r="0.5" fill="rgb(120,120,120)" fill-opacity="0.7"/>
<circle cx="546.0" cy="377.6" r="0.5" fill="rgb(120,120,120)" fill-opacity="0.7"/>
<circle cx="560.4" cy="405.3" r="0.8" fill="rgb(35,35,35)" fill-opacity="0.7"/>
<circle cx="562.3" cy="372.9" r="0.8" fill="rgb(35,35,35)" fill-opacity="0.7"/>
<circle cx="538.9" cy="393.9" r="0.7" fill="rgb(120,120,120)" fill-opacity="0.7"/>
<circle cx="572.4" cy="393.1" r="0.6" fill="rgb(120,120,120)" fill-opacity="0.7"/>
<circle cx="568.6" cy="399.4" r="0.5" fill="rgb(140,140,140)" fill-opacity="0.7"/>
<circle cx="545.4" cy="395.4" r="0.6" fill="rgb(120,120,120)" fill-opacity="0.7"/>
<circle cx="552.6" cy="393.1" r="0.5" fill="rgb(45,45,45)" fill-opacity="0.7"/>
<circle cx="520.6" cy="394.9" r="0.4" fill="rgb(120,120,120)" fill-opacity="0.7"/>
<circle cx="538.2" cy="371.6" r="0.8" fill="rgb(35,35,35)" fill-opacity="0.7"/>
<circle cx="529.7" cy="385.1" r="0.4" fill="rgb(35,35,35)" fill-opacity="0.7"/>
<circle cx="540.0" cy="377.7" r="0.8" fill="rgb(140,140,140)" fill-opacity="0.7"/>
<circle cx="547.8" cy="366.8" r="0.6" fill="rgb(140,140,140)" fill-opacity="0.7"/>
<circle cx="531.3" cy="415.5" r="0.8" fill="rgb(35,35,35)" fill-opacity="0.7"/>
<circle cx="528.0" cy="402.3" r="0.8" fill="rgb(140,140,140)" fill-opacity="0.7"/>
<circle cx="526.4" cy="410.0" r="0.7" fill="rgb(120,120,120)" fill-opacity="0.7"/>
<circle cx="549.3" cy="415.2" r="0.6" fill="rgb(45,45,45)" fill-opacity="0.7"/>
<circle cx="557.6" cy="368.6" r="0.6" fill="rgb(140,140,140)" fill-opacity="0.7"/>
<circle cx="545.0" cy="416.7" r="0.8" fill="rgb(140,140,140)" fill-opacity="0.7"/>
<circle cx="567.2" cy="392.9" r="0.6" fill="rgb(140,140,140)" fill-opacity="0.7"/>
<circle cx="553.9" cy="414.3" r="0.5" fill="rgb(45,45,45)" fill-opacity="0.7"/>
<circle cx="554.3" cy="394.4" r="0.5" fill="rgb(35,35,35)" fill-opacity="0.7"/>
<circle cx="560.0" cy="400.2" r="0.8" fill="rgb(140,140,140)" fill-opacity="0.7"/>
<circle cx="574.0" cy="398.4" r="0.4" fill="rgb(120,120,120)" fill-opacity="0.7"/>
<circle cx="533.8" cy="386.9" r="0.4" fill="rgb(35,35,35)" fill-opacity="0.7"/>
<circle cx="528.0" cy="387.1" r="0.8" fill="rgb(45,45,45)" fill-opacity="0.7"/>
<circle cx="529.9" cy="406.6" r="0.6" fill="rgb(120,120,120)" fill-opacity="0.7"/>
<circle cx="554.9" cy="408.7" r="0.4" fill="rgb(35,35,35)" fill-opacity="0.7"/>
<circle cx="541.9" cy="396.9" r="0.5" fill="rgb(45,45,45)" fill-opacity="0.7"/>
<circle cx="560.2" cy="407.7" r="0.7" fill="rgb(140,140,140)" fill-opacity="0.7"/>
<circle cx="529.5" cy="399.9" r="0.5" fill="rgb(35,35,35)" fill-opacity="0.7"/>
<circle cx="548.7" cy="372.3" r="0.4" fill="rgb(120,120,120)" fill-opacity="0.7"/>
<circle cx="564.6" cy="411.2" r="0.8" fill="rgb(120,120,120)" fill-opacity="0.7"/>
<circle cx="560.6" cy="391.6" r="0.5" fill="rgb(140,140,140)" fill-opacity="0.7"/>
<circle cx="553.2" cy="420.8" r="0.9" fill="rgb(35,35,35)" fill-opacity="0.7"/>
<circle cx="552.0" cy="388.3" r="0.8" fill="rgb(140,140,140)" fill-opacity="0.7"/>
<circle cx="536.4" cy="404.9" r="0.5" fill="rgb(140,140,140)" fill-opacity="0.7"/>
<circle cx="559.5" cy="381.8" r="0.5" fill="rgb(45,45,45)" fill-opacity="0.7"/>
<circle cx="563.1" cy="392.8" r="0.8" fill="rgb(140,140,140)" fill-opacity="0.7"/>
<circle cx="553.8" cy="377.6" r="0.7" fill="rgb(35,35,35)" fill-opacity="0.7"/>
<circle cx="559.5" cy="368.1" r="0.9" fill="rgb(140,140,140)" fill-opacity="0.7"/>
<circle cx="564.5" cy="379.5" r="0.8" fill="rgb(35,35,35)" fill-opacity="0.7"/>
<circle cx="552.6" cy="383.1" r="0.9" fill="rgb(45,45,45)" fill-opacity="0.7"/>
<circle cx="566.0" cy="370.7" r="0.4" fill="rgb(140,140,140)" fill-opacity="0.7"/>
<circle cx="571.3" cy="403.3" r="0.7" fill="rgb(140,140,140)" fill-opacity="0.7"/>
<circle cx="564.6" cy="400.8" r="0.8" fill="rgb(120,120,120)" fill-opacity="0.7"/>
<circle cx="566.9" cy="384.3" r="0.7" fill="rgb(120,120,120)" fill-opacity="0.7"/>
<circle cx="543.1" cy="367.7" r="0.6" fill="rgb(120,120,120)" fill-opacity="0.7"/>
<circle cx="544.5" cy="417.3" r="0.8" fill="rgb(140,140,140)" fill-opacity="0.7"/>
<circle cx="554.4" cy="389.7" r="0.6" fill="rgb(45,45,45)" fill-opacity="0.7"/>
<circle cx="560.1" cy="394.3" r="0.6" fill="rgb(120,120,120)" fill-opacity="0.7"/>
<circle cx="570.6" cy="388.7" r="0.9" fill="rgb(45,45,45)" fill-opacity="0.7"/>
<circle cx="564.7" cy="408.0" r="0.8" fill="rgb(45,45,45)" fill-opacity="0.7"/>
<circle cx="547.0" cy="397.0" r="0.5" fill="rgb(45,45,45)" fill-opacity="0.7"/>
<circle cx="530.8" cy="383.2" r="0.8" fill="rgb(45,45,45)" fill-opacity="0.7"/>
<circle cx="545.6" cy="377.3" r="0.7" fill="rgb(35,35,35)" fill-opacity="0.7"/>
<circle cx="554.1" cy="395.8" r="0.6" fill="rgb(45,45,45)" fill-opacity="0.7"/>
<circle cx="572.2" cy="409.8" r="0.4" fill="rgb(35,35,35)" fill-opacity="0.7"/>
<circle cx="573.7" cy="392.7" r="0.6" fill="rgb(35,35,35)" fill-opacity="0.7"/>
<circle cx="564.6" cy="372.2" r="0.8" fill="rgb(35,35,35)" fill-opacity="0.7"/>
<circle cx="532.0" cy="385.8" r="0.4" fill="rgb(120,120,120)" fill-opacity="0.7"/>
<circle cx="568.3" cy="374.3" r="0.6" fill="rgb(45,45,45)" fill-opacity="0.7"/>
<circle cx="564.5" cy="372.7" r="0.7" fill="rgb(140,140,140)" fill-opacity="0.7"/>
<circle cx="542.2" cy="408.1" r="0.7" fill="rgb(140,140,140)" fill-opacity="0.7"/>
<circle cx="537.1" cy="393.0" r="0.5" fill="rgb(120,120,120)" fill-opacity="0.7"/>
<circle cx="553.7" cy="404.6" r="0.4" fill="rgb(45,45,45)" fill-opacity="0.7"/>
<circle cx="569.9" cy="408.4" r="0.8" fill="rgb(35,35,35)" fill-opacity="0.7"/>
<circle cx="543.1" cy="399.2" r="0.5" fill="rgb(140,140,140)" fill-opacity="0.7"/>
<circle cx="522.7" cy="386.4" r="0.5" fill="rgb(120,120,120)" fill-opacity="0.7"/>
<circle cx="560.3" cy="390.6" r="0.6" fill="rgb(45,45,45)" fill-opacity="0.7"/>
<circle cx="530.5" cy="394.1" r="0.4" fill="rgb(140,140,140)" fill-opacity="0.7"/>
<circle cx="537.3" cy="409.0" r="0.8" fill="rgb(140,140,140)" fill-opacity="0.7"/>
<circle cx="559.1" cy="374.8" r="0.5" fill="rgb(35,35,35)" fill-opacity="0.7"/>
<circle cx="571.2" cy="379.7" r="0.8" fill="rgb(35,35,35)" fill-opacity="0.7"/>
<circle cx="535.9" cy="401.8" r="0.5" fill="rgb(120,120,120)" fill-opacity="0.7"/>
<circle cx="530.6" cy="374.0" r="0.6" fill="rgb(45,45,45)" fill-opacity="0.7"/>
<circle cx="524.9" cy="399.1" r="0.8" fill="rgb(140,140,140)" fill-opacity="0.7"/>
<circle cx="536.0" cy="391.8" r="0.9" fill="rgb(35,35,35)" fill-opacity="0.7"/>
<circle cx="521.7" cy="380.6" r="0.8" fill="rgb(45,45,45)" fill-opacity="0.7"/>
<circle cx="558.9" cy="391.3" r="0.7" fill="rgb(45,45,45)" fill-opacity="0.7"/>
<circle cx="538.0" cy="413.9" r="0.5" fill="rgb(140,140,140)" fill-opacity="0.7"/>
<circle cx="559.5" cy="418.6" r="0.6" fill="rgb(120,120,120)" fill-opacity="0.7"/>
<circle cx="548.6" cy="383.4" r="0.5" fill="rgb(120,120,120)" fill-opacity="0.7"/>
<circle cx="553.5" cy="376.1" r="0.9" fill="rgb(35,35,35)" fill-opacity="0.7"/>
<circle cx="541.5" cy="420.9" r="0.8" fill="rgb(35,35,35)" fill-opacity="0.7"/>
<circle cx="552.6" cy="406.5" r="0.8" fill="rgb(35,35,35)" fill-opacity="0.7"/>
<circle cx="570.6" cy="380.6" r="0.7" fill="rgb(35,35,35)" fill-opacity="0.7"/>
<circle cx="531.3" cy="400.9" r="0.7" fill="rgb(120,120,120)" fill-opacity="0.7"/>
<circle cx="567.0" cy="373.2" r="0.8" fill="rgb(140,140,140)" fill-opacity="0.7"/>
<circle cx="528.0" cy="397.6" r="0.4" fill="rgb(140,140,140)" fill-opacity="0.7"/>
<circle cx="576.9" cy="401.3" r="0.8" fill="rgb(35,35,35)" fill-opacity="0.7"/>
<circle cx="568.4" cy="372.0" r="0.5" fill="rgb(35,35,35)" fill-opacity="0.7"/>
<circle cx="543.2" cy="404.8" r="0.5" fill="rgb(120,120,120)" fill-opacity="0.7"/>
</g>
<circle cx="522.8" cy="438" r="4.5" fill="none" stroke="#444" stroke-width="1.4"/>
<rect x="586.3" y="438.2" width="9.2" height="1.8" fill="#111"/>
</g>
<rect x="442.2" y="268.2" width="11.5" height="9.2" fill="none" stroke="#F5EE00" stroke-width="1.6" stroke-dasharray="3 1.6"/>
<line x1="458.7" y1="275.3" x2="510" y2="303.6" stroke="#F5EE00" stroke-width="1.6" stroke-dasharray="1.4 1.2"/>
<path d="M506,297.6 L512.3,305.2 L501,305.4" stroke="#F5EE00" stroke-width="1.5" fill="none"/>
<rect x="467.8" y="383.4" width="9.6" height="9.2" fill="none" stroke="#F5EE00" stroke-width="1.6" stroke-dasharray="3 1.6"/>
<line x1="478.5" y1="388" x2="507" y2="388" stroke="#F5EE00" stroke-width="1.6" stroke-dasharray="1.4 1.2"/>
<path d="M498.8,382.6 L508.5,387.3 L498.8,392.4" stroke="#F5EE00" stroke-width="1.5" fill="none"/>
</svg>
</body></html>
